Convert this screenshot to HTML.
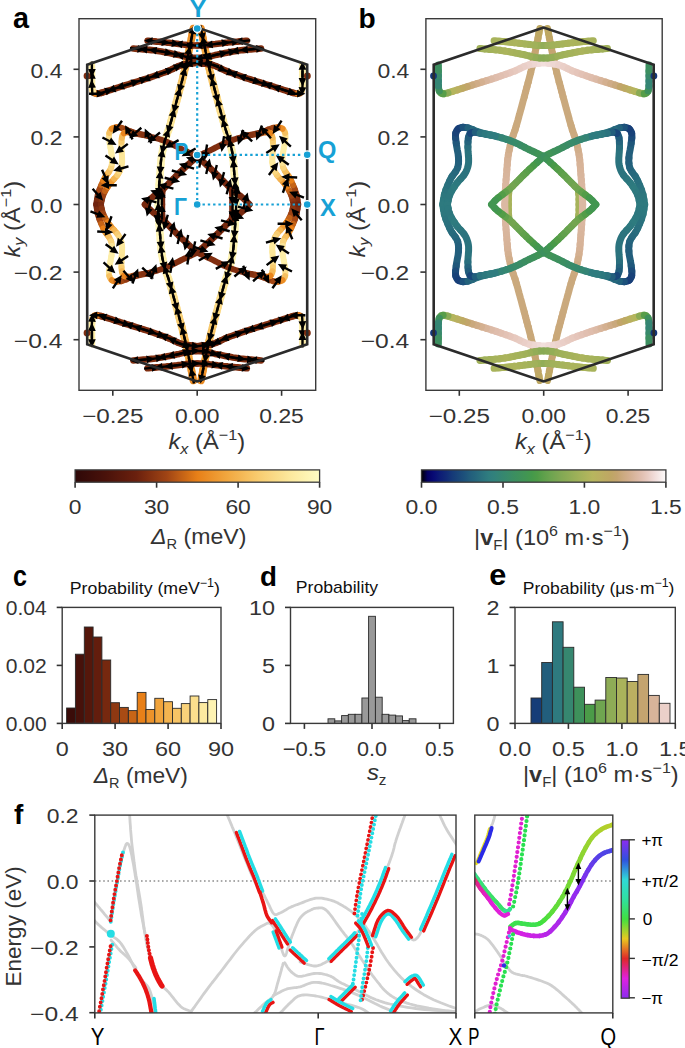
<!DOCTYPE html><html><head><meta charset="utf-8"><style>html,body{margin:0;padding:0;background:#fff;}svg{display:block;}text{font-family:"Liberation Sans", sans-serif;}</style></head><body>
<svg width="685" height="1048" viewBox="0 0 685 1048">
<rect width="685" height="1048" fill="#fff"/>
<text x="13.0" y="27.6" font-size="29.5" fill="#000" font-weight="bold" textLength="16.0" lengthAdjust="spacingAndGlyphs">a</text>
<text x="358.4" y="27.6" font-size="28.5" fill="#000" font-weight="bold" textLength="17.2" lengthAdjust="spacingAndGlyphs">b</text>
<defs><path id="ar" d="M-8 -1.2 L-0.3 -1.2 L-0.3 -3.9 L8 0 L-0.3 3.9 L-0.3 1.2 L-8 1.2 Z" fill="#000"/></defs>
<rect x="79.0" y="18.7" width="236.7" height="371.6" fill="none" stroke="#3a3a3a" stroke-width="1.4"/>
<line x1="73.5" y1="69.3" x2="79.0" y2="69.3" stroke="#333" stroke-width="1.6"/>
<text x="62.4" y="77.5" font-size="20" text-anchor="end" fill="#333333" textLength="31.8" lengthAdjust="spacingAndGlyphs" >0.4</text>
<line x1="73.5" y1="136.9" x2="79.0" y2="136.9" stroke="#333" stroke-width="1.6"/>
<text x="62.4" y="145.1" font-size="20" text-anchor="end" fill="#333333" textLength="31.8" lengthAdjust="spacingAndGlyphs" >0.2</text>
<line x1="73.5" y1="204.5" x2="79.0" y2="204.5" stroke="#333" stroke-width="1.6"/>
<text x="62.4" y="212.7" font-size="20" text-anchor="end" fill="#333333" textLength="31.8" lengthAdjust="spacingAndGlyphs" >0.0</text>
<line x1="73.5" y1="272.1" x2="79.0" y2="272.1" stroke="#333" stroke-width="1.6"/>
<text x="62.4" y="280.3" font-size="20" text-anchor="end" fill="#333333" textLength="48.6" lengthAdjust="spacingAndGlyphs" >&#8722;0.2</text>
<line x1="73.5" y1="339.7" x2="79.0" y2="339.7" stroke="#333" stroke-width="1.6"/>
<text x="62.4" y="347.9" font-size="20" text-anchor="end" fill="#333333" textLength="48.6" lengthAdjust="spacingAndGlyphs" >&#8722;0.4</text>
<line x1="112.8" y1="390.3" x2="112.8" y2="395.8" stroke="#333" stroke-width="1.6"/>
<text x="112.8" y="423.0" font-size="20" text-anchor="middle" fill="#333333" textLength="61.3" lengthAdjust="spacingAndGlyphs" >&#8722;0.25</text>
<line x1="197.2" y1="390.3" x2="197.2" y2="395.8" stroke="#333" stroke-width="1.6"/>
<text x="197.2" y="423.0" font-size="20" text-anchor="middle" fill="#333333" textLength="44.5" lengthAdjust="spacingAndGlyphs" >0.00</text>
<line x1="281.6" y1="390.3" x2="281.6" y2="395.8" stroke="#333" stroke-width="1.6"/>
<text x="281.6" y="423.0" font-size="20" text-anchor="middle" fill="#333333" textLength="44.5" lengthAdjust="spacingAndGlyphs" >0.25</text>
<text x="168.5" y="449.4" font-size="22" fill="#333333" textLength="76.6" lengthAdjust="spacingAndGlyphs"><tspan font-style="italic">k</tspan><tspan font-style="italic" font-size="15" dy="4.5">x</tspan><tspan dy="-4.5"> (&#197;</tspan><tspan font-size="15" dy="-9">&#8722;1</tspan><tspan dy="9">)</tspan></text>
<text transform="translate(19.8,257.5) rotate(-90)" x="0" y="0" font-size="22" fill="#333333" textLength="76.7" lengthAdjust="spacingAndGlyphs"><tspan font-style="italic">k</tspan><tspan font-style="italic" font-size="15" dy="4.5">y</tspan><tspan dy="-4.5"> (&#197;</tspan><tspan font-size="15" dy="-9">&#8722;1</tspan><tspan dy="9">)</tspan></text>
<path d="M162.5 189.7 L162.3 191.8 L162.1 193.9 L161.9 196.0 L161.9 198.1 L161.9 200.3 L161.9 202.4 L161.9 204.5" stroke="#77290f" stroke-width="6.6" fill="none" stroke-linecap="round" stroke-linejoin="round"/>
<path d="M162.5 219.3 L162.3 217.2 L162.1 215.1 L161.9 213.0 L161.9 210.9 L161.9 208.7 L161.9 206.6 L161.9 204.5" stroke="#77290f" stroke-width="6.6" fill="none" stroke-linecap="round" stroke-linejoin="round"/>
<path d="M231.9 189.7 L232.1 191.8 L232.3 193.9 L232.5 196.0 L232.5 198.1 L232.5 200.3 L232.5 202.4 L232.5 204.5" stroke="#77290f" stroke-width="6.6" fill="none" stroke-linecap="round" stroke-linejoin="round"/>
<path d="M231.9 219.3 L232.1 217.2 L232.3 215.1 L232.5 213.0 L232.5 210.9 L232.5 208.7 L232.5 206.6 L232.5 204.5" stroke="#77290f" stroke-width="6.6" fill="none" stroke-linecap="round" stroke-linejoin="round"/>
<path d="M158.2 204.5 L158.3 202.5 L158.4 200.5 L158.5 198.5 L158.5 196.5 L158.6 194.5 L158.7 192.5 L158.8 190.5 L158.9 189.5" stroke="#fef6b7" stroke-width="7.6" fill="none" stroke-linecap="round" stroke-linejoin="round"/>
<path d="M158.9 189.5 L159.0 187.5 L159.2 185.5 L159.2 184.5" stroke="#fef5b7" stroke-width="7.6" fill="none" stroke-linecap="round" stroke-linejoin="round"/>
<path d="M159.2 184.5 L159.4 182.5 L159.5 180.5 L159.6 179.5" stroke="#fef5b6" stroke-width="7.6" fill="none" stroke-linecap="round" stroke-linejoin="round"/>
<path d="M159.6 179.5 L159.8 177.5 L159.9 175.5 L160.0 174.5" stroke="#fef4b5" stroke-width="7.6" fill="none" stroke-linecap="round" stroke-linejoin="round"/>
<path d="M160.0 174.5 L160.2 172.5 L160.3 170.5 L160.4 169.5" stroke="#fef4b4" stroke-width="7.6" fill="none" stroke-linecap="round" stroke-linejoin="round"/>
<path d="M160.4 169.5 L160.5 167.5 L160.7 165.6 L160.8 164.6" stroke="#fef3b3" stroke-width="7.6" fill="none" stroke-linecap="round" stroke-linejoin="round"/>
<path d="M160.8 164.6 L160.9 162.6 L161.1 160.6 L161.2 159.6" stroke="#fef3b2" stroke-width="7.6" fill="none" stroke-linecap="round" stroke-linejoin="round"/>
<path d="M161.2 159.6 L161.5 157.6 L161.7 155.6 L161.9 154.6" stroke="#fef2b1" stroke-width="7.6" fill="none" stroke-linecap="round" stroke-linejoin="round"/>
<path d="M161.9 154.6 L162.2 152.6 L162.6 150.7 L162.8 149.7" stroke="#fdf2af" stroke-width="7.6" fill="none" stroke-linecap="round" stroke-linejoin="round"/>
<path d="M162.8 149.7 L163.2 147.7 L163.6 145.8 L163.9 144.8" stroke="#fdf1ad" stroke-width="7.6" fill="none" stroke-linecap="round" stroke-linejoin="round"/>
<path d="M163.9 144.8 L164.3 142.9 L164.9 140.9 L165.1 140.0" stroke="#fdefab" stroke-width="7.6" fill="none" stroke-linecap="round" stroke-linejoin="round"/>
<path d="M165.1 140.0 L165.7 138.1 L166.4 136.2 L166.7 135.2" stroke="#fdeea7" stroke-width="7.6" fill="none" stroke-linecap="round" stroke-linejoin="round"/>
<path d="M166.7 135.2 L167.4 133.3 L168.0 131.4 L168.4 130.5" stroke="#fdeca3" stroke-width="7.6" fill="none" stroke-linecap="round" stroke-linejoin="round"/>
<path d="M168.4 130.5 L169.0 128.6 L169.5 126.7 L169.8 125.7" stroke="#fcea9f" stroke-width="7.6" fill="none" stroke-linecap="round" stroke-linejoin="round"/>
<path d="M169.8 125.7 L170.4 123.8 L170.9 121.9 L171.2 120.9" stroke="#fce79b" stroke-width="7.6" fill="none" stroke-linecap="round" stroke-linejoin="round"/>
<path d="M171.2 120.9 L171.7 119.0 L172.3 117.0 L172.5 116.1" stroke="#fbe496" stroke-width="7.6" fill="none" stroke-linecap="round" stroke-linejoin="round"/>
<path d="M172.5 116.1 L173.1 114.1 L173.6 112.2 L173.9 111.3" stroke="#fbe191" stroke-width="7.6" fill="none" stroke-linecap="round" stroke-linejoin="round"/>
<path d="M173.9 111.3 L174.4 109.3 L174.9 107.4 L175.2 106.4" stroke="#fbde8d" stroke-width="7.6" fill="none" stroke-linecap="round" stroke-linejoin="round"/>
<path d="M175.2 106.4 L175.7 104.5 L176.2 102.6 L176.5 101.6" stroke="#fadb88" stroke-width="7.6" fill="none" stroke-linecap="round" stroke-linejoin="round"/>
<path d="M176.5 101.6 L177.0 99.7 L177.5 97.7 L177.8 96.8" stroke="#fad883" stroke-width="7.6" fill="none" stroke-linecap="round" stroke-linejoin="round"/>
<path d="M177.8 96.8 L178.3 94.8 L178.8 92.9 L179.1 91.9" stroke="#f9d57d" stroke-width="7.6" fill="none" stroke-linecap="round" stroke-linejoin="round"/>
<path d="M179.1 91.9 L179.6 90.0 L180.1 88.1 L180.4 87.1" stroke="#f9d178" stroke-width="7.6" fill="none" stroke-linecap="round" stroke-linejoin="round"/>
<path d="M180.4 87.1 L180.9 85.2 L181.4 83.2 L181.7 82.3" stroke="#f8cd72" stroke-width="7.6" fill="none" stroke-linecap="round" stroke-linejoin="round"/>
<path d="M181.7 82.3 L182.2 80.3 L182.7 78.4 L182.9 77.4" stroke="#f7c86b" stroke-width="7.6" fill="none" stroke-linecap="round" stroke-linejoin="round"/>
<path d="M182.9 77.4 L183.4 75.5 L183.9 73.5 L184.2 72.6" stroke="#f7c465" stroke-width="7.6" fill="none" stroke-linecap="round" stroke-linejoin="round"/>
<path d="M184.2 72.6 L184.6 70.6 L185.1 68.7 L185.3 67.7" stroke="#f6bf5e" stroke-width="7.6" fill="none" stroke-linecap="round" stroke-linejoin="round"/>
<path d="M185.3 67.7 L185.8 65.8 L186.2 63.8 L186.4 62.8" stroke="#f5b957" stroke-width="7.6" fill="none" stroke-linecap="round" stroke-linejoin="round"/>
<path d="M186.4 62.8 L186.8 60.9 L187.3 58.9 L187.5 57.9" stroke="#f4b450" stroke-width="7.6" fill="none" stroke-linecap="round" stroke-linejoin="round"/>
<path d="M187.5 57.9 L187.9 56.0 L188.3 54.0 L188.5 53.0" stroke="#f3ae48" stroke-width="7.6" fill="none" stroke-linecap="round" stroke-linejoin="round"/>
<path d="M188.5 53.0 L188.9 51.1 L189.3 49.1 L189.5 48.1" stroke="#f2a840" stroke-width="7.6" fill="none" stroke-linecap="round" stroke-linejoin="round"/>
<path d="M189.5 48.1 L189.9 46.2 L190.3 44.2 L190.5 43.2" stroke="#f1a23a" stroke-width="7.6" fill="none" stroke-linecap="round" stroke-linejoin="round"/>
<path d="M190.5 43.2 L190.9 41.3 L191.3 39.3 L191.5 38.3" stroke="#ef9b33" stroke-width="7.6" fill="none" stroke-linecap="round" stroke-linejoin="round"/>
<path d="M191.5 38.3 L191.8 36.4 L192.2 34.4 L192.4 33.4" stroke="#ed932b" stroke-width="7.6" fill="none" stroke-linecap="round" stroke-linejoin="round"/>
<path d="M192.4 33.4 L192.8 31.4 L193.2 29.5 L193.4 28.5" stroke="#eb8b23" stroke-width="7.6" fill="none" stroke-linecap="round" stroke-linejoin="round"/>
<path d="M158.2 204.5 L158.3 206.5 L158.4 208.5 L158.5 210.5 L158.5 212.5 L158.6 214.5 L158.7 216.5 L158.8 218.5 L158.9 219.5" stroke="#fef6b7" stroke-width="7.6" fill="none" stroke-linecap="round" stroke-linejoin="round"/>
<path d="M158.9 219.5 L159.0 221.5 L159.2 223.5 L159.2 224.5" stroke="#fef5b7" stroke-width="7.6" fill="none" stroke-linecap="round" stroke-linejoin="round"/>
<path d="M159.2 224.5 L159.4 226.5 L159.5 228.5 L159.6 229.5" stroke="#fef5b6" stroke-width="7.6" fill="none" stroke-linecap="round" stroke-linejoin="round"/>
<path d="M159.6 229.5 L159.8 231.5 L159.9 233.5 L160.0 234.5" stroke="#fef4b5" stroke-width="7.6" fill="none" stroke-linecap="round" stroke-linejoin="round"/>
<path d="M160.0 234.5 L160.2 236.5 L160.3 238.5 L160.4 239.5" stroke="#fef4b4" stroke-width="7.6" fill="none" stroke-linecap="round" stroke-linejoin="round"/>
<path d="M160.4 239.5 L160.5 241.5 L160.7 243.4 L160.8 244.4" stroke="#fef3b3" stroke-width="7.6" fill="none" stroke-linecap="round" stroke-linejoin="round"/>
<path d="M160.8 244.4 L160.9 246.4 L161.1 248.4 L161.2 249.4" stroke="#fef3b2" stroke-width="7.6" fill="none" stroke-linecap="round" stroke-linejoin="round"/>
<path d="M161.2 249.4 L161.5 251.4 L161.7 253.4 L161.9 254.4" stroke="#fef2b1" stroke-width="7.6" fill="none" stroke-linecap="round" stroke-linejoin="round"/>
<path d="M161.9 254.4 L162.2 256.4 L162.6 258.3 L162.8 259.3" stroke="#fdf2af" stroke-width="7.6" fill="none" stroke-linecap="round" stroke-linejoin="round"/>
<path d="M162.8 259.3 L163.2 261.3 L163.6 263.2 L163.9 264.2" stroke="#fdf1ad" stroke-width="7.6" fill="none" stroke-linecap="round" stroke-linejoin="round"/>
<path d="M163.9 264.2 L164.3 266.1 L164.9 268.1 L165.1 269.0" stroke="#fdefab" stroke-width="7.6" fill="none" stroke-linecap="round" stroke-linejoin="round"/>
<path d="M165.1 269.0 L165.7 270.9 L166.4 272.8 L166.7 273.8" stroke="#fdeea7" stroke-width="7.6" fill="none" stroke-linecap="round" stroke-linejoin="round"/>
<path d="M166.7 273.8 L167.4 275.7 L168.0 277.6 L168.4 278.5" stroke="#fdeca3" stroke-width="7.6" fill="none" stroke-linecap="round" stroke-linejoin="round"/>
<path d="M168.4 278.5 L169.0 280.4 L169.5 282.3 L169.8 283.3" stroke="#fcea9f" stroke-width="7.6" fill="none" stroke-linecap="round" stroke-linejoin="round"/>
<path d="M169.8 283.3 L170.4 285.2 L170.9 287.1 L171.2 288.1" stroke="#fce79b" stroke-width="7.6" fill="none" stroke-linecap="round" stroke-linejoin="round"/>
<path d="M171.2 288.1 L171.7 290.0 L172.3 292.0 L172.5 292.9" stroke="#fbe496" stroke-width="7.6" fill="none" stroke-linecap="round" stroke-linejoin="round"/>
<path d="M172.5 292.9 L173.1 294.9 L173.6 296.8 L173.9 297.7" stroke="#fbe191" stroke-width="7.6" fill="none" stroke-linecap="round" stroke-linejoin="round"/>
<path d="M173.9 297.7 L174.4 299.7 L174.9 301.6 L175.2 302.6" stroke="#fbde8d" stroke-width="7.6" fill="none" stroke-linecap="round" stroke-linejoin="round"/>
<path d="M175.2 302.6 L175.7 304.5 L176.2 306.4 L176.5 307.4" stroke="#fadb88" stroke-width="7.6" fill="none" stroke-linecap="round" stroke-linejoin="round"/>
<path d="M176.5 307.4 L177.0 309.3 L177.5 311.3 L177.8 312.2" stroke="#fad883" stroke-width="7.6" fill="none" stroke-linecap="round" stroke-linejoin="round"/>
<path d="M177.8 312.2 L178.3 314.2 L178.8 316.1 L179.1 317.1" stroke="#f9d57d" stroke-width="7.6" fill="none" stroke-linecap="round" stroke-linejoin="round"/>
<path d="M179.1 317.1 L179.6 319.0 L180.1 320.9 L180.4 321.9" stroke="#f9d178" stroke-width="7.6" fill="none" stroke-linecap="round" stroke-linejoin="round"/>
<path d="M180.4 321.9 L180.9 323.8 L181.4 325.8 L181.7 326.7" stroke="#f8cd72" stroke-width="7.6" fill="none" stroke-linecap="round" stroke-linejoin="round"/>
<path d="M181.7 326.7 L182.2 328.7 L182.7 330.6 L182.9 331.6" stroke="#f7c86b" stroke-width="7.6" fill="none" stroke-linecap="round" stroke-linejoin="round"/>
<path d="M182.9 331.6 L183.4 333.5 L183.9 335.5 L184.2 336.4" stroke="#f7c465" stroke-width="7.6" fill="none" stroke-linecap="round" stroke-linejoin="round"/>
<path d="M184.2 336.4 L184.6 338.4 L185.1 340.3 L185.3 341.3" stroke="#f6bf5e" stroke-width="7.6" fill="none" stroke-linecap="round" stroke-linejoin="round"/>
<path d="M185.3 341.3 L185.8 343.2 L186.2 345.2 L186.4 346.2" stroke="#f5b957" stroke-width="7.6" fill="none" stroke-linecap="round" stroke-linejoin="round"/>
<path d="M186.4 346.2 L186.8 348.1 L187.3 350.1 L187.5 351.1" stroke="#f4b450" stroke-width="7.6" fill="none" stroke-linecap="round" stroke-linejoin="round"/>
<path d="M187.5 351.1 L187.9 353.0 L188.3 355.0 L188.5 356.0" stroke="#f3ae48" stroke-width="7.6" fill="none" stroke-linecap="round" stroke-linejoin="round"/>
<path d="M188.5 356.0 L188.9 357.9 L189.3 359.9 L189.5 360.9" stroke="#f2a840" stroke-width="7.6" fill="none" stroke-linecap="round" stroke-linejoin="round"/>
<path d="M189.5 360.9 L189.9 362.8 L190.3 364.8 L190.5 365.8" stroke="#f1a23a" stroke-width="7.6" fill="none" stroke-linecap="round" stroke-linejoin="round"/>
<path d="M190.5 365.8 L190.9 367.7 L191.3 369.7 L191.5 370.7" stroke="#ef9b33" stroke-width="7.6" fill="none" stroke-linecap="round" stroke-linejoin="round"/>
<path d="M191.5 370.7 L191.8 372.6 L192.2 374.6 L192.4 375.6" stroke="#ed932b" stroke-width="7.6" fill="none" stroke-linecap="round" stroke-linejoin="round"/>
<path d="M192.4 375.6 L192.8 377.6 L193.2 379.5 L193.4 380.5" stroke="#eb8b23" stroke-width="7.6" fill="none" stroke-linecap="round" stroke-linejoin="round"/>
<path d="M236.2 204.5 L236.1 202.5 L236.0 200.5 L235.9 198.5 L235.9 196.5 L235.8 194.5 L235.7 192.5 L235.6 190.5 L235.5 189.5" stroke="#fef6b7" stroke-width="7.6" fill="none" stroke-linecap="round" stroke-linejoin="round"/>
<path d="M235.5 189.5 L235.4 187.5 L235.2 185.5 L235.2 184.5" stroke="#fef5b7" stroke-width="7.6" fill="none" stroke-linecap="round" stroke-linejoin="round"/>
<path d="M235.2 184.5 L235.0 182.5 L234.9 180.5 L234.8 179.5" stroke="#fef5b6" stroke-width="7.6" fill="none" stroke-linecap="round" stroke-linejoin="round"/>
<path d="M234.8 179.5 L234.6 177.5 L234.5 175.5 L234.4 174.5" stroke="#fef4b5" stroke-width="7.6" fill="none" stroke-linecap="round" stroke-linejoin="round"/>
<path d="M234.4 174.5 L234.2 172.5 L234.1 170.5 L234.0 169.5" stroke="#fef4b4" stroke-width="7.6" fill="none" stroke-linecap="round" stroke-linejoin="round"/>
<path d="M234.0 169.5 L233.9 167.5 L233.7 165.6 L233.6 164.6" stroke="#fef3b3" stroke-width="7.6" fill="none" stroke-linecap="round" stroke-linejoin="round"/>
<path d="M233.6 164.6 L233.5 162.6 L233.3 160.6 L233.2 159.6" stroke="#fef3b2" stroke-width="7.6" fill="none" stroke-linecap="round" stroke-linejoin="round"/>
<path d="M233.2 159.6 L232.9 157.6 L232.7 155.6 L232.5 154.6" stroke="#fef2b1" stroke-width="7.6" fill="none" stroke-linecap="round" stroke-linejoin="round"/>
<path d="M232.5 154.6 L232.2 152.6 L231.8 150.7 L231.6 149.7" stroke="#fdf2af" stroke-width="7.6" fill="none" stroke-linecap="round" stroke-linejoin="round"/>
<path d="M231.6 149.7 L231.2 147.7 L230.8 145.8 L230.5 144.8" stroke="#fdf1ad" stroke-width="7.6" fill="none" stroke-linecap="round" stroke-linejoin="round"/>
<path d="M230.5 144.8 L230.1 142.9 L229.5 140.9 L229.3 140.0" stroke="#fdefab" stroke-width="7.6" fill="none" stroke-linecap="round" stroke-linejoin="round"/>
<path d="M229.3 140.0 L228.7 138.1 L228.0 136.2 L227.7 135.2" stroke="#fdeea7" stroke-width="7.6" fill="none" stroke-linecap="round" stroke-linejoin="round"/>
<path d="M227.7 135.2 L227.0 133.3 L226.4 131.4 L226.0 130.5" stroke="#fdeca3" stroke-width="7.6" fill="none" stroke-linecap="round" stroke-linejoin="round"/>
<path d="M226.0 130.5 L225.4 128.6 L224.9 126.7 L224.6 125.7" stroke="#fcea9f" stroke-width="7.6" fill="none" stroke-linecap="round" stroke-linejoin="round"/>
<path d="M224.6 125.7 L224.0 123.8 L223.5 121.9 L223.2 120.9" stroke="#fce79b" stroke-width="7.6" fill="none" stroke-linecap="round" stroke-linejoin="round"/>
<path d="M223.2 120.9 L222.7 119.0 L222.1 117.0 L221.9 116.1" stroke="#fbe496" stroke-width="7.6" fill="none" stroke-linecap="round" stroke-linejoin="round"/>
<path d="M221.9 116.1 L221.3 114.1 L220.8 112.2 L220.5 111.3" stroke="#fbe191" stroke-width="7.6" fill="none" stroke-linecap="round" stroke-linejoin="round"/>
<path d="M220.5 111.3 L220.0 109.3 L219.5 107.4 L219.2 106.4" stroke="#fbde8d" stroke-width="7.6" fill="none" stroke-linecap="round" stroke-linejoin="round"/>
<path d="M219.2 106.4 L218.7 104.5 L218.2 102.6 L217.9 101.6" stroke="#fadb88" stroke-width="7.6" fill="none" stroke-linecap="round" stroke-linejoin="round"/>
<path d="M217.9 101.6 L217.4 99.7 L216.9 97.7 L216.6 96.8" stroke="#fad883" stroke-width="7.6" fill="none" stroke-linecap="round" stroke-linejoin="round"/>
<path d="M216.6 96.8 L216.1 94.8 L215.6 92.9 L215.3 91.9" stroke="#f9d57d" stroke-width="7.6" fill="none" stroke-linecap="round" stroke-linejoin="round"/>
<path d="M215.3 91.9 L214.8 90.0 L214.3 88.1 L214.0 87.1" stroke="#f9d178" stroke-width="7.6" fill="none" stroke-linecap="round" stroke-linejoin="round"/>
<path d="M214.0 87.1 L213.5 85.2 L213.0 83.2 L212.7 82.3" stroke="#f8cd72" stroke-width="7.6" fill="none" stroke-linecap="round" stroke-linejoin="round"/>
<path d="M212.7 82.3 L212.2 80.3 L211.7 78.4 L211.5 77.4" stroke="#f7c86b" stroke-width="7.6" fill="none" stroke-linecap="round" stroke-linejoin="round"/>
<path d="M211.5 77.4 L211.0 75.5 L210.5 73.5 L210.2 72.6" stroke="#f7c465" stroke-width="7.6" fill="none" stroke-linecap="round" stroke-linejoin="round"/>
<path d="M210.2 72.6 L209.8 70.6 L209.3 68.7 L209.1 67.7" stroke="#f6bf5e" stroke-width="7.6" fill="none" stroke-linecap="round" stroke-linejoin="round"/>
<path d="M209.1 67.7 L208.6 65.8 L208.2 63.8 L208.0 62.8" stroke="#f5b957" stroke-width="7.6" fill="none" stroke-linecap="round" stroke-linejoin="round"/>
<path d="M208.0 62.8 L207.6 60.9 L207.1 58.9 L206.9 57.9" stroke="#f4b450" stroke-width="7.6" fill="none" stroke-linecap="round" stroke-linejoin="round"/>
<path d="M206.9 57.9 L206.5 56.0 L206.1 54.0 L205.9 53.0" stroke="#f3ae48" stroke-width="7.6" fill="none" stroke-linecap="round" stroke-linejoin="round"/>
<path d="M205.9 53.0 L205.5 51.1 L205.1 49.1 L204.9 48.1" stroke="#f2a840" stroke-width="7.6" fill="none" stroke-linecap="round" stroke-linejoin="round"/>
<path d="M204.9 48.1 L204.5 46.2 L204.1 44.2 L203.9 43.2" stroke="#f1a23a" stroke-width="7.6" fill="none" stroke-linecap="round" stroke-linejoin="round"/>
<path d="M203.9 43.2 L203.5 41.3 L203.1 39.3 L202.9 38.3" stroke="#ef9b33" stroke-width="7.6" fill="none" stroke-linecap="round" stroke-linejoin="round"/>
<path d="M202.9 38.3 L202.6 36.4 L202.2 34.4 L202.0 33.4" stroke="#ed932b" stroke-width="7.6" fill="none" stroke-linecap="round" stroke-linejoin="round"/>
<path d="M202.0 33.4 L201.6 31.4 L201.2 29.5 L201.0 28.5" stroke="#eb8b23" stroke-width="7.6" fill="none" stroke-linecap="round" stroke-linejoin="round"/>
<path d="M236.2 204.5 L236.1 206.5 L236.0 208.5 L235.9 210.5 L235.9 212.5 L235.8 214.5 L235.7 216.5 L235.6 218.5 L235.5 219.5" stroke="#fef6b7" stroke-width="7.6" fill="none" stroke-linecap="round" stroke-linejoin="round"/>
<path d="M235.5 219.5 L235.4 221.5 L235.2 223.5 L235.2 224.5" stroke="#fef5b7" stroke-width="7.6" fill="none" stroke-linecap="round" stroke-linejoin="round"/>
<path d="M235.2 224.5 L235.0 226.5 L234.9 228.5 L234.8 229.5" stroke="#fef5b6" stroke-width="7.6" fill="none" stroke-linecap="round" stroke-linejoin="round"/>
<path d="M234.8 229.5 L234.6 231.5 L234.5 233.5 L234.4 234.5" stroke="#fef4b5" stroke-width="7.6" fill="none" stroke-linecap="round" stroke-linejoin="round"/>
<path d="M234.4 234.5 L234.2 236.5 L234.1 238.5 L234.0 239.5" stroke="#fef4b4" stroke-width="7.6" fill="none" stroke-linecap="round" stroke-linejoin="round"/>
<path d="M234.0 239.5 L233.9 241.5 L233.7 243.4 L233.6 244.4" stroke="#fef3b3" stroke-width="7.6" fill="none" stroke-linecap="round" stroke-linejoin="round"/>
<path d="M233.6 244.4 L233.5 246.4 L233.3 248.4 L233.2 249.4" stroke="#fef3b2" stroke-width="7.6" fill="none" stroke-linecap="round" stroke-linejoin="round"/>
<path d="M233.2 249.4 L232.9 251.4 L232.7 253.4 L232.5 254.4" stroke="#fef2b1" stroke-width="7.6" fill="none" stroke-linecap="round" stroke-linejoin="round"/>
<path d="M232.5 254.4 L232.2 256.4 L231.8 258.3 L231.6 259.3" stroke="#fdf2af" stroke-width="7.6" fill="none" stroke-linecap="round" stroke-linejoin="round"/>
<path d="M231.6 259.3 L231.2 261.3 L230.8 263.2 L230.5 264.2" stroke="#fdf1ad" stroke-width="7.6" fill="none" stroke-linecap="round" stroke-linejoin="round"/>
<path d="M230.5 264.2 L230.1 266.1 L229.5 268.1 L229.3 269.0" stroke="#fdefab" stroke-width="7.6" fill="none" stroke-linecap="round" stroke-linejoin="round"/>
<path d="M229.3 269.0 L228.7 270.9 L228.0 272.8 L227.7 273.8" stroke="#fdeea7" stroke-width="7.6" fill="none" stroke-linecap="round" stroke-linejoin="round"/>
<path d="M227.7 273.8 L227.0 275.7 L226.4 277.6 L226.0 278.5" stroke="#fdeca3" stroke-width="7.6" fill="none" stroke-linecap="round" stroke-linejoin="round"/>
<path d="M226.0 278.5 L225.4 280.4 L224.9 282.3 L224.6 283.3" stroke="#fcea9f" stroke-width="7.6" fill="none" stroke-linecap="round" stroke-linejoin="round"/>
<path d="M224.6 283.3 L224.0 285.2 L223.5 287.1 L223.2 288.1" stroke="#fce79b" stroke-width="7.6" fill="none" stroke-linecap="round" stroke-linejoin="round"/>
<path d="M223.2 288.1 L222.7 290.0 L222.1 292.0 L221.9 292.9" stroke="#fbe496" stroke-width="7.6" fill="none" stroke-linecap="round" stroke-linejoin="round"/>
<path d="M221.9 292.9 L221.3 294.9 L220.8 296.8 L220.5 297.7" stroke="#fbe191" stroke-width="7.6" fill="none" stroke-linecap="round" stroke-linejoin="round"/>
<path d="M220.5 297.7 L220.0 299.7 L219.5 301.6 L219.2 302.6" stroke="#fbde8d" stroke-width="7.6" fill="none" stroke-linecap="round" stroke-linejoin="round"/>
<path d="M219.2 302.6 L218.7 304.5 L218.2 306.4 L217.9 307.4" stroke="#fadb88" stroke-width="7.6" fill="none" stroke-linecap="round" stroke-linejoin="round"/>
<path d="M217.9 307.4 L217.4 309.3 L216.9 311.3 L216.6 312.2" stroke="#fad883" stroke-width="7.6" fill="none" stroke-linecap="round" stroke-linejoin="round"/>
<path d="M216.6 312.2 L216.1 314.2 L215.6 316.1 L215.3 317.1" stroke="#f9d57d" stroke-width="7.6" fill="none" stroke-linecap="round" stroke-linejoin="round"/>
<path d="M215.3 317.1 L214.8 319.0 L214.3 320.9 L214.0 321.9" stroke="#f9d178" stroke-width="7.6" fill="none" stroke-linecap="round" stroke-linejoin="round"/>
<path d="M214.0 321.9 L213.5 323.8 L213.0 325.8 L212.7 326.7" stroke="#f8cd72" stroke-width="7.6" fill="none" stroke-linecap="round" stroke-linejoin="round"/>
<path d="M212.7 326.7 L212.2 328.7 L211.7 330.6 L211.5 331.6" stroke="#f7c86b" stroke-width="7.6" fill="none" stroke-linecap="round" stroke-linejoin="round"/>
<path d="M211.5 331.6 L211.0 333.5 L210.5 335.5 L210.2 336.4" stroke="#f7c465" stroke-width="7.6" fill="none" stroke-linecap="round" stroke-linejoin="round"/>
<path d="M210.2 336.4 L209.8 338.4 L209.3 340.3 L209.1 341.3" stroke="#f6bf5e" stroke-width="7.6" fill="none" stroke-linecap="round" stroke-linejoin="round"/>
<path d="M209.1 341.3 L208.6 343.2 L208.2 345.2 L208.0 346.2" stroke="#f5b957" stroke-width="7.6" fill="none" stroke-linecap="round" stroke-linejoin="round"/>
<path d="M208.0 346.2 L207.6 348.1 L207.1 350.1 L206.9 351.1" stroke="#f4b450" stroke-width="7.6" fill="none" stroke-linecap="round" stroke-linejoin="round"/>
<path d="M206.9 351.1 L206.5 353.0 L206.1 355.0 L205.9 356.0" stroke="#f3ae48" stroke-width="7.6" fill="none" stroke-linecap="round" stroke-linejoin="round"/>
<path d="M205.9 356.0 L205.5 357.9 L205.1 359.9 L204.9 360.9" stroke="#f2a840" stroke-width="7.6" fill="none" stroke-linecap="round" stroke-linejoin="round"/>
<path d="M204.9 360.9 L204.5 362.8 L204.1 364.8 L203.9 365.8" stroke="#f1a23a" stroke-width="7.6" fill="none" stroke-linecap="round" stroke-linejoin="round"/>
<path d="M203.9 365.8 L203.5 367.7 L203.1 369.7 L202.9 370.7" stroke="#ef9b33" stroke-width="7.6" fill="none" stroke-linecap="round" stroke-linejoin="round"/>
<path d="M202.9 370.7 L202.6 372.6 L202.2 374.6 L202.0 375.6" stroke="#ed932b" stroke-width="7.6" fill="none" stroke-linecap="round" stroke-linejoin="round"/>
<path d="M202.0 375.6 L201.6 377.6 L201.2 379.5 L201.0 380.5" stroke="#eb8b23" stroke-width="7.6" fill="none" stroke-linecap="round" stroke-linejoin="round"/>
<path d="M197.2 62.8 L195.2 63.1 L193.2 63.3 L192.2 63.4" stroke="#7e2e10" stroke-width="6.6" fill="none" stroke-linecap="round" stroke-linejoin="round"/>
<path d="M192.2 63.4 L190.2 63.6 L188.2 63.8 L187.2 63.9" stroke="#7c2c10" stroke-width="6.6" fill="none" stroke-linecap="round" stroke-linejoin="round"/>
<path d="M187.2 63.9 L185.2 64.2 L183.2 64.6 L182.3 64.9" stroke="#792a10" stroke-width="6.6" fill="none" stroke-linecap="round" stroke-linejoin="round"/>
<path d="M182.3 64.9 L180.3 65.5 L178.5 66.2 L177.5 66.6" stroke="#782910" stroke-width="6.6" fill="none" stroke-linecap="round" stroke-linejoin="round"/>
<path d="M177.5 66.6 L175.7 67.5 L173.9 68.3 L173.0 68.8" stroke="#7a2b10" stroke-width="6.6" fill="none" stroke-linecap="round" stroke-linejoin="round"/>
<path d="M173.0 68.8 L171.2 69.6 L169.4 70.5 L168.4 70.9" stroke="#7d2d10" stroke-width="6.6" fill="none" stroke-linecap="round" stroke-linejoin="round"/>
<path d="M168.4 70.9 L166.6 71.6 L164.7 72.3 L162.8 73.0 L160.9 73.7 L159.0 74.4 L157.1 75.0 L155.2 75.7 L153.3 76.3 L151.4 77.0 L149.5 77.6 L147.6 78.3 L145.7 78.9 L143.7 79.5 L141.8 80.1 L139.9 80.7 L138.0 81.3 L136.1 81.9 L134.1 82.5 L132.2 83.1 L130.3 83.7 L128.4 84.3 L126.4 84.9 L124.5 85.5 L122.6 86.1 L120.7 86.7 L118.8 87.3 L116.9 87.9 L114.9 88.6 L113.0 89.2 L111.1 89.8 L109.2 90.4 L107.3 91.0 L106.3 91.3" stroke="#802e10" stroke-width="6.6" fill="none" stroke-linecap="round" stroke-linejoin="round"/>
<path d="M106.3 91.3 L104.4 91.9 L102.5 92.5 L101.5 92.8" stroke="#802f10" stroke-width="6.6" fill="none" stroke-linecap="round" stroke-linejoin="round"/>
<path d="M101.5 92.8 L99.6 93.3 L97.6 93.7 L96.6 93.7" stroke="#853211" stroke-width="6.6" fill="none" stroke-linecap="round" stroke-linejoin="round"/>
<path d="M96.6 93.7 L94.6 93.3 L93.2 91.9 L92.8 91.0" stroke="#e17a18" stroke-width="6.6" fill="none" stroke-linecap="round" stroke-linejoin="round"/>
<path d="M92.8 91.0 L92.2 89.0 L92.0 87.0 L92.0 86.0" stroke="#fce598" stroke-width="6.6" fill="none" stroke-linecap="round" stroke-linejoin="round"/>
<path d="M92.0 86.0 L91.9 84.0 L91.9 82.0 L91.9 81.0" stroke="#fdeda6" stroke-width="6.6" fill="none" stroke-linecap="round" stroke-linejoin="round"/>
<path d="M91.9 81.0 L91.9 79.0 L91.8 77.0 L91.9 76.0" stroke="#fdefa9" stroke-width="6.6" fill="none" stroke-linecap="round" stroke-linejoin="round"/>
<path d="M91.9 76.0 L91.9 74.0 L91.9 71.9 L91.9 70.9" stroke="#fdeea7" stroke-width="6.6" fill="none" stroke-linecap="round" stroke-linejoin="round"/>
<path d="M91.9 70.9 L91.9 68.9 L91.9 66.9 L91.9 64.9" stroke="#fdeda5" stroke-width="6.6" fill="none" stroke-linecap="round" stroke-linejoin="round"/>
<path d="M197.2 346.2 L195.2 345.9 L193.2 345.7 L192.2 345.6" stroke="#7e2e10" stroke-width="6.6" fill="none" stroke-linecap="round" stroke-linejoin="round"/>
<path d="M192.2 345.6 L190.2 345.4 L188.2 345.2 L187.2 345.1" stroke="#7c2c10" stroke-width="6.6" fill="none" stroke-linecap="round" stroke-linejoin="round"/>
<path d="M187.2 345.1 L185.2 344.8 L183.2 344.4 L182.3 344.1" stroke="#792a10" stroke-width="6.6" fill="none" stroke-linecap="round" stroke-linejoin="round"/>
<path d="M182.3 344.1 L180.3 343.5 L178.5 342.8 L177.5 342.4" stroke="#782910" stroke-width="6.6" fill="none" stroke-linecap="round" stroke-linejoin="round"/>
<path d="M177.5 342.4 L175.7 341.5 L173.9 340.7 L173.0 340.2" stroke="#7a2b10" stroke-width="6.6" fill="none" stroke-linecap="round" stroke-linejoin="round"/>
<path d="M173.0 340.2 L171.2 339.4 L169.4 338.5 L168.4 338.1" stroke="#7d2d10" stroke-width="6.6" fill="none" stroke-linecap="round" stroke-linejoin="round"/>
<path d="M168.4 338.1 L166.6 337.4 L164.7 336.7 L162.8 336.0 L160.9 335.3 L159.0 334.6 L157.1 334.0 L155.2 333.3 L153.3 332.7 L151.4 332.0 L149.5 331.4 L147.6 330.7 L145.7 330.1 L143.7 329.5 L141.8 328.9 L139.9 328.3 L138.0 327.7 L136.1 327.1 L134.1 326.5 L132.2 325.9 L130.3 325.3 L128.4 324.7 L126.4 324.1 L124.5 323.5 L122.6 322.9 L120.7 322.3 L118.8 321.7 L116.9 321.1 L114.9 320.4 L113.0 319.8 L111.1 319.2 L109.2 318.6 L107.3 318.0 L106.3 317.7" stroke="#802e10" stroke-width="6.6" fill="none" stroke-linecap="round" stroke-linejoin="round"/>
<path d="M106.3 317.7 L104.4 317.1 L102.5 316.5 L101.5 316.2" stroke="#802f10" stroke-width="6.6" fill="none" stroke-linecap="round" stroke-linejoin="round"/>
<path d="M101.5 316.2 L99.6 315.7 L97.6 315.3 L96.6 315.3" stroke="#853211" stroke-width="6.6" fill="none" stroke-linecap="round" stroke-linejoin="round"/>
<path d="M96.6 315.3 L94.6 315.7 L93.2 317.1 L92.8 318.0" stroke="#e17a18" stroke-width="6.6" fill="none" stroke-linecap="round" stroke-linejoin="round"/>
<path d="M92.8 318.0 L92.2 320.0 L92.0 322.0 L92.0 323.0" stroke="#fce598" stroke-width="6.6" fill="none" stroke-linecap="round" stroke-linejoin="round"/>
<path d="M92.0 323.0 L91.9 325.0 L91.9 327.0 L91.9 328.0" stroke="#fdeda6" stroke-width="6.6" fill="none" stroke-linecap="round" stroke-linejoin="round"/>
<path d="M91.9 328.0 L91.9 330.0 L91.8 332.0 L91.9 333.0" stroke="#fdefa9" stroke-width="6.6" fill="none" stroke-linecap="round" stroke-linejoin="round"/>
<path d="M91.9 333.0 L91.9 335.0 L91.9 337.1 L91.9 338.1" stroke="#fdeea7" stroke-width="6.6" fill="none" stroke-linecap="round" stroke-linejoin="round"/>
<path d="M91.9 338.1 L91.9 340.1 L91.9 342.1 L91.9 344.1" stroke="#fdeda5" stroke-width="6.6" fill="none" stroke-linecap="round" stroke-linejoin="round"/>
<path d="M197.2 62.8 L199.2 63.1 L201.2 63.3 L202.2 63.4" stroke="#7e2e10" stroke-width="6.6" fill="none" stroke-linecap="round" stroke-linejoin="round"/>
<path d="M202.2 63.4 L204.2 63.6 L206.2 63.8 L207.2 63.9" stroke="#7c2c10" stroke-width="6.6" fill="none" stroke-linecap="round" stroke-linejoin="round"/>
<path d="M207.2 63.9 L209.2 64.2 L211.2 64.6 L212.1 64.9" stroke="#792a10" stroke-width="6.6" fill="none" stroke-linecap="round" stroke-linejoin="round"/>
<path d="M212.1 64.9 L214.1 65.5 L215.9 66.2 L216.9 66.6" stroke="#782910" stroke-width="6.6" fill="none" stroke-linecap="round" stroke-linejoin="round"/>
<path d="M216.9 66.6 L218.7 67.5 L220.5 68.3 L221.4 68.8" stroke="#7a2b10" stroke-width="6.6" fill="none" stroke-linecap="round" stroke-linejoin="round"/>
<path d="M221.4 68.8 L223.2 69.6 L225.0 70.5 L226.0 70.9" stroke="#7d2d10" stroke-width="6.6" fill="none" stroke-linecap="round" stroke-linejoin="round"/>
<path d="M226.0 70.9 L227.8 71.6 L229.7 72.3 L231.6 73.0 L233.5 73.7 L235.4 74.4 L237.3 75.0 L239.2 75.7 L241.1 76.3 L243.0 77.0 L244.9 77.6 L246.8 78.3 L248.7 78.9 L250.7 79.5 L252.6 80.1 L254.5 80.7 L256.4 81.3 L258.3 81.9 L260.3 82.5 L262.2 83.1 L264.1 83.7 L266.0 84.3 L268.0 84.9 L269.9 85.5 L271.8 86.1 L273.7 86.7 L275.6 87.3 L277.5 87.9 L279.5 88.6 L281.4 89.2 L283.3 89.8 L285.2 90.4 L287.1 91.0 L288.1 91.3" stroke="#802e10" stroke-width="6.6" fill="none" stroke-linecap="round" stroke-linejoin="round"/>
<path d="M288.1 91.3 L290.0 91.9 L291.9 92.5 L292.9 92.8" stroke="#802f10" stroke-width="6.6" fill="none" stroke-linecap="round" stroke-linejoin="round"/>
<path d="M292.9 92.8 L294.8 93.3 L296.8 93.7 L297.8 93.7" stroke="#853211" stroke-width="6.6" fill="none" stroke-linecap="round" stroke-linejoin="round"/>
<path d="M297.8 93.7 L299.8 93.3 L301.2 91.9 L301.6 91.0" stroke="#e17a18" stroke-width="6.6" fill="none" stroke-linecap="round" stroke-linejoin="round"/>
<path d="M301.6 91.0 L302.2 89.0 L302.4 87.0 L302.4 86.0" stroke="#fce598" stroke-width="6.6" fill="none" stroke-linecap="round" stroke-linejoin="round"/>
<path d="M302.4 86.0 L302.5 84.0 L302.5 82.0 L302.5 81.0" stroke="#fdeda6" stroke-width="6.6" fill="none" stroke-linecap="round" stroke-linejoin="round"/>
<path d="M302.5 81.0 L302.5 79.0 L302.6 77.0 L302.5 76.0" stroke="#fdefa9" stroke-width="6.6" fill="none" stroke-linecap="round" stroke-linejoin="round"/>
<path d="M302.5 76.0 L302.5 74.0 L302.5 71.9 L302.5 70.9" stroke="#fdeea7" stroke-width="6.6" fill="none" stroke-linecap="round" stroke-linejoin="round"/>
<path d="M302.5 70.9 L302.5 68.9 L302.5 66.9 L302.5 64.9" stroke="#fdeda5" stroke-width="6.6" fill="none" stroke-linecap="round" stroke-linejoin="round"/>
<path d="M197.2 346.2 L199.2 345.9 L201.2 345.7 L202.2 345.6" stroke="#7e2e10" stroke-width="6.6" fill="none" stroke-linecap="round" stroke-linejoin="round"/>
<path d="M202.2 345.6 L204.2 345.4 L206.2 345.2 L207.2 345.1" stroke="#7c2c10" stroke-width="6.6" fill="none" stroke-linecap="round" stroke-linejoin="round"/>
<path d="M207.2 345.1 L209.2 344.8 L211.2 344.4 L212.1 344.1" stroke="#792a10" stroke-width="6.6" fill="none" stroke-linecap="round" stroke-linejoin="round"/>
<path d="M212.1 344.1 L214.1 343.5 L215.9 342.8 L216.9 342.4" stroke="#782910" stroke-width="6.6" fill="none" stroke-linecap="round" stroke-linejoin="round"/>
<path d="M216.9 342.4 L218.7 341.5 L220.5 340.7 L221.4 340.2" stroke="#7a2b10" stroke-width="6.6" fill="none" stroke-linecap="round" stroke-linejoin="round"/>
<path d="M221.4 340.2 L223.2 339.4 L225.0 338.5 L226.0 338.1" stroke="#7d2d10" stroke-width="6.6" fill="none" stroke-linecap="round" stroke-linejoin="round"/>
<path d="M226.0 338.1 L227.8 337.4 L229.7 336.7 L231.6 336.0 L233.5 335.3 L235.4 334.6 L237.3 334.0 L239.2 333.3 L241.1 332.7 L243.0 332.0 L244.9 331.4 L246.8 330.7 L248.7 330.1 L250.7 329.5 L252.6 328.9 L254.5 328.3 L256.4 327.7 L258.3 327.1 L260.3 326.5 L262.2 325.9 L264.1 325.3 L266.0 324.7 L268.0 324.1 L269.9 323.5 L271.8 322.9 L273.7 322.3 L275.6 321.7 L277.5 321.1 L279.5 320.4 L281.4 319.8 L283.3 319.2 L285.2 318.6 L287.1 318.0 L288.1 317.7" stroke="#802e10" stroke-width="6.6" fill="none" stroke-linecap="round" stroke-linejoin="round"/>
<path d="M288.1 317.7 L290.0 317.1 L291.9 316.5 L292.9 316.2" stroke="#802f10" stroke-width="6.6" fill="none" stroke-linecap="round" stroke-linejoin="round"/>
<path d="M292.9 316.2 L294.8 315.7 L296.8 315.3 L297.8 315.3" stroke="#853211" stroke-width="6.6" fill="none" stroke-linecap="round" stroke-linejoin="round"/>
<path d="M297.8 315.3 L299.8 315.7 L301.2 317.1 L301.6 318.0" stroke="#e17a18" stroke-width="6.6" fill="none" stroke-linecap="round" stroke-linejoin="round"/>
<path d="M301.6 318.0 L302.2 320.0 L302.4 322.0 L302.4 323.0" stroke="#fce598" stroke-width="6.6" fill="none" stroke-linecap="round" stroke-linejoin="round"/>
<path d="M302.4 323.0 L302.5 325.0 L302.5 327.0 L302.5 328.0" stroke="#fdeda6" stroke-width="6.6" fill="none" stroke-linecap="round" stroke-linejoin="round"/>
<path d="M302.5 328.0 L302.5 330.0 L302.6 332.0 L302.5 333.0" stroke="#fdefa9" stroke-width="6.6" fill="none" stroke-linecap="round" stroke-linejoin="round"/>
<path d="M302.5 333.0 L302.5 335.0 L302.5 337.1 L302.5 338.1" stroke="#fdeea7" stroke-width="6.6" fill="none" stroke-linecap="round" stroke-linejoin="round"/>
<path d="M302.5 338.1 L302.5 340.1 L302.5 342.1 L302.5 344.1" stroke="#fdeda5" stroke-width="6.6" fill="none" stroke-linecap="round" stroke-linejoin="round"/>
<path d="M197.2 45.5 L195.2 45.5 L193.1 45.5 L191.1 45.4 L189.1 45.2 L187.0 45.0 L185.0 44.7 L183.0 44.5 L181.0 44.2 L179.0 44.0 L176.9 43.7 L174.9 43.5 L172.9 43.3 L170.9 43.0 L168.9 42.8 L166.8 42.6 L164.8 42.3 L162.8 42.1 L160.8 41.9 L158.7 41.7 L156.7 41.6 L154.7 41.4 L152.7 41.2 L150.6 41.0 L148.6 40.8 L147.6 40.7" stroke="#802e10" stroke-width="6.6" fill="none" stroke-linecap="round" stroke-linejoin="round"/>
<path d="M197.2 363.5 L195.2 363.5 L193.1 363.5 L191.1 363.6 L189.1 363.8 L187.0 364.0 L185.0 364.3 L183.0 364.5 L181.0 364.8 L179.0 365.0 L176.9 365.3 L174.9 365.5 L172.9 365.7 L170.9 366.0 L168.9 366.2 L166.8 366.4 L164.8 366.7 L162.8 366.9 L160.8 367.1 L158.7 367.3 L156.7 367.4 L154.7 367.6 L152.7 367.8 L150.6 368.0 L148.6 368.2 L147.6 368.3" stroke="#802e10" stroke-width="6.6" fill="none" stroke-linecap="round" stroke-linejoin="round"/>
<path d="M197.2 45.5 L199.2 45.5 L201.3 45.5 L203.3 45.4 L205.3 45.2 L207.4 45.0 L209.4 44.7 L211.4 44.5 L213.4 44.2 L215.4 44.0 L217.5 43.7 L219.5 43.5 L221.5 43.3 L223.5 43.0 L225.5 42.8 L227.6 42.6 L229.6 42.3 L231.6 42.1 L233.6 41.9 L235.7 41.7 L237.7 41.6 L239.7 41.4 L241.7 41.2 L243.8 41.0 L245.8 40.8 L246.8 40.7" stroke="#802e10" stroke-width="6.6" fill="none" stroke-linecap="round" stroke-linejoin="round"/>
<path d="M197.2 363.5 L199.2 363.5 L201.3 363.5 L203.3 363.6 L205.3 363.8 L207.4 364.0 L209.4 364.3 L211.4 364.5 L213.4 364.8 L215.4 365.0 L217.5 365.3 L219.5 365.5 L221.5 365.7 L223.5 366.0 L225.5 366.2 L227.6 366.4 L229.6 366.7 L231.6 366.9 L233.6 367.1 L235.7 367.3 L237.7 367.4 L239.7 367.6 L241.7 367.8 L243.8 368.0 L245.8 368.2 L246.8 368.3" stroke="#802e10" stroke-width="6.6" fill="none" stroke-linecap="round" stroke-linejoin="round"/>
<path d="M197.2 58.0 L195.2 57.9 L193.2 57.9 L191.1 57.7 L189.1 57.5 L187.2 57.1 L185.2 56.6 L183.3 56.1 L181.3 55.6 L179.3 55.1 L177.3 54.7 L175.4 54.3 L173.4 53.9 L171.4 53.5 L169.4 53.1 L167.5 52.7 L165.5 52.3 L163.5 51.9 L161.5 51.5 L159.5 51.2 L157.5 50.9 L155.5 50.6 L153.5 50.3 L151.5 50.1 L149.5 49.9 L147.5 49.7 L145.5 49.5 L143.5 49.4 L141.5 49.2 L139.4 49.0 L137.4 48.9 L135.4 48.7 L133.4 48.5" stroke="#802e10" stroke-width="6.6" fill="none" stroke-linecap="round" stroke-linejoin="round"/>
<path d="M197.2 351.0 L195.2 351.1 L193.2 351.1 L191.1 351.3 L189.1 351.5 L187.2 351.9 L185.2 352.4 L183.3 352.9 L181.3 353.4 L179.3 353.9 L177.3 354.3 L175.4 354.7 L173.4 355.1 L171.4 355.5 L169.4 355.9 L167.5 356.3 L165.5 356.7 L163.5 357.1 L161.5 357.5 L159.5 357.8 L157.5 358.1 L155.5 358.4 L153.5 358.7 L151.5 358.9 L149.5 359.1 L147.5 359.3 L145.5 359.5 L143.5 359.6 L141.5 359.8 L139.4 360.0 L137.4 360.1 L135.4 360.3 L133.4 360.5" stroke="#802e10" stroke-width="6.6" fill="none" stroke-linecap="round" stroke-linejoin="round"/>
<path d="M197.2 58.0 L199.2 57.9 L201.2 57.9 L203.3 57.7 L205.3 57.5 L207.2 57.1 L209.2 56.6 L211.1 56.1 L213.1 55.6 L215.1 55.1 L217.1 54.7 L219.0 54.3 L221.0 53.9 L223.0 53.5 L225.0 53.1 L226.9 52.7 L228.9 52.3 L230.9 51.9 L232.9 51.5 L234.9 51.2 L236.9 50.9 L238.9 50.6 L240.9 50.3 L242.9 50.1 L244.9 49.9 L246.9 49.7 L248.9 49.5 L250.9 49.4 L252.9 49.2 L255.0 49.0 L257.0 48.9 L259.0 48.7 L261.0 48.5" stroke="#802e10" stroke-width="6.6" fill="none" stroke-linecap="round" stroke-linejoin="round"/>
<path d="M197.2 351.0 L199.2 351.1 L201.2 351.1 L203.3 351.3 L205.3 351.5 L207.2 351.9 L209.2 352.4 L211.1 352.9 L213.1 353.4 L215.1 353.9 L217.1 354.3 L219.0 354.7 L221.0 355.1 L223.0 355.5 L225.0 355.9 L226.9 356.3 L228.9 356.7 L230.9 357.1 L232.9 357.5 L234.9 357.8 L236.9 358.1 L238.9 358.4 L240.9 358.7 L242.9 358.9 L244.9 359.1 L246.9 359.3 L248.9 359.5 L250.9 359.6 L252.9 359.8 L255.0 360.0 L257.0 360.1 L259.0 360.3 L261.0 360.5" stroke="#802e10" stroke-width="6.6" fill="none" stroke-linecap="round" stroke-linejoin="round"/>
<path d="M96.2 204.5 L96.5 202.5 L96.8 200.5 L97.0 199.5" stroke="#6f230f" stroke-width="6.0" fill="none" stroke-linecap="round" stroke-linejoin="round"/>
<path d="M97.0 199.5 L97.3 197.6 L97.7 195.6 L97.9 194.6" stroke="#7c2c10" stroke-width="6.0" fill="none" stroke-linecap="round" stroke-linejoin="round"/>
<path d="M97.9 194.6 L98.5 192.7 L99.1 190.8 L99.4 189.8" stroke="#893511" stroke-width="6.0" fill="none" stroke-linecap="round" stroke-linejoin="round"/>
<path d="M99.4 189.8 L100.1 188.0 L100.9 186.1 L101.3 185.2" stroke="#a44714" stroke-width="6.0" fill="none" stroke-linecap="round" stroke-linejoin="round"/>
<path d="M101.3 185.2 L102.1 183.3 L102.9 181.5 L103.3 180.6" stroke="#c66416" stroke-width="6.0" fill="none" stroke-linecap="round" stroke-linejoin="round"/>
<path d="M103.3 180.6 L104.2 178.8 L105.2 177.1 L105.7 176.2" stroke="#e88018" stroke-width="6.0" fill="none" stroke-linecap="round" stroke-linejoin="round"/>
<path d="M105.7 176.2 L106.9 174.6 L108.1 173.0 L108.7 172.2" stroke="#f0a038" stroke-width="6.0" fill="none" stroke-linecap="round" stroke-linejoin="round"/>
<path d="M108.7 172.2 L109.8 170.5 L110.7 168.7 L111.1 167.8" stroke="#f6be5d" stroke-width="6.0" fill="none" stroke-linecap="round" stroke-linejoin="round"/>
<path d="M111.1 167.8 L111.6 165.8 L111.9 163.9 L112.0 162.9" stroke="#f9d47d" stroke-width="6.0" fill="none" stroke-linecap="round" stroke-linejoin="round"/>
<path d="M112.0 162.9 L112.1 160.9 L112.0 158.9 L112.0 157.9" stroke="#fbe496" stroke-width="6.0" fill="none" stroke-linecap="round" stroke-linejoin="round"/>
<path d="M112.0 157.9 L111.8 155.9 L111.6 153.9 L111.4 152.9" stroke="#fdeca5" stroke-width="6.0" fill="none" stroke-linecap="round" stroke-linejoin="round"/>
<path d="M111.4 152.9 L111.0 150.9 L110.7 148.9 L110.5 148.0" stroke="#fdeea7" stroke-width="6.0" fill="none" stroke-linecap="round" stroke-linejoin="round"/>
<path d="M110.5 148.0 L110.1 146.0 L109.8 144.0 L109.7 143.0" stroke="#fdefa9" stroke-width="6.0" fill="none" stroke-linecap="round" stroke-linejoin="round"/>
<path d="M109.7 143.0 L109.5 141.0 L109.2 139.0 L109.1 138.0" stroke="#fceaa0" stroke-width="6.0" fill="none" stroke-linecap="round" stroke-linejoin="round"/>
<path d="M109.1 138.0 L109.0 136.0 L109.1 134.0 L109.3 133.0" stroke="#fbde8c" stroke-width="6.0" fill="none" stroke-linecap="round" stroke-linejoin="round"/>
<path d="M109.3 133.0 L110.0 131.1 L111.1 129.5 L111.8 128.8" stroke="#f6c060" stroke-width="6.0" fill="none" stroke-linecap="round" stroke-linejoin="round"/>
<path d="M111.8 128.8 L113.6 127.9 L115.5 127.4 L116.5 127.3" stroke="#eb8c24" stroke-width="6.0" fill="none" stroke-linecap="round" stroke-linejoin="round"/>
<path d="M116.5 127.3 L118.5 127.4 L120.5 127.7 L121.5 127.9" stroke="#ca6716" stroke-width="6.0" fill="none" stroke-linecap="round" stroke-linejoin="round"/>
<path d="M121.5 127.9 L123.4 128.5 L125.3 129.2 L126.2 129.6" stroke="#a44814" stroke-width="6.0" fill="none" stroke-linecap="round" stroke-linejoin="round"/>
<path d="M126.2 129.6 L128.1 130.4 L129.9 131.2 L130.8 131.6" stroke="#933b13" stroke-width="6.0" fill="none" stroke-linecap="round" stroke-linejoin="round"/>
<path d="M130.8 131.6 L132.7 132.2 L134.6 132.8 L135.6 133.1" stroke="#823011" stroke-width="6.0" fill="none" stroke-linecap="round" stroke-linejoin="round"/>
<path d="M135.6 133.1 L137.6 133.5 L139.5 134.0 L141.5 134.4 L143.5 134.8 L145.4 135.2 L147.4 135.7 L149.3 136.2 L151.2 136.8 L153.2 137.3 L155.1 137.8 L157.0 138.4 L158.9 139.0 L160.8 139.6 L162.7 140.3 L164.6 141.0 L166.5 141.7 L168.3 142.5 L170.2 143.3 L172.0 144.2 L173.8 145.1 L175.5 146.0 L177.3 146.9 L179.1 147.8 L180.9 148.7 L182.7 149.6 L184.5 150.5 L186.3 151.3 L188.1 152.2 L190.0 153.0 L191.8 153.9 L193.6 154.8 L195.4 155.6 L197.2 156.5" stroke="#802e10" stroke-width="6.0" fill="none" stroke-linecap="round" stroke-linejoin="round"/>
<path d="M96.2 204.5 L96.5 206.5 L96.8 208.5 L97.0 209.5" stroke="#6f230f" stroke-width="6.0" fill="none" stroke-linecap="round" stroke-linejoin="round"/>
<path d="M97.0 209.5 L97.3 211.4 L97.7 213.4 L97.9 214.4" stroke="#7c2c10" stroke-width="6.0" fill="none" stroke-linecap="round" stroke-linejoin="round"/>
<path d="M97.9 214.4 L98.5 216.3 L99.1 218.2 L99.4 219.2" stroke="#893511" stroke-width="6.0" fill="none" stroke-linecap="round" stroke-linejoin="round"/>
<path d="M99.4 219.2 L100.1 221.0 L100.9 222.9 L101.3 223.8" stroke="#a44714" stroke-width="6.0" fill="none" stroke-linecap="round" stroke-linejoin="round"/>
<path d="M101.3 223.8 L102.1 225.7 L102.9 227.5 L103.3 228.4" stroke="#c66416" stroke-width="6.0" fill="none" stroke-linecap="round" stroke-linejoin="round"/>
<path d="M103.3 228.4 L104.2 230.2 L105.2 231.9 L105.7 232.8" stroke="#e88018" stroke-width="6.0" fill="none" stroke-linecap="round" stroke-linejoin="round"/>
<path d="M105.7 232.8 L106.9 234.4 L108.1 236.0 L108.7 236.8" stroke="#f0a038" stroke-width="6.0" fill="none" stroke-linecap="round" stroke-linejoin="round"/>
<path d="M108.7 236.8 L109.8 238.5 L110.7 240.3 L111.1 241.2" stroke="#f6be5d" stroke-width="6.0" fill="none" stroke-linecap="round" stroke-linejoin="round"/>
<path d="M111.1 241.2 L111.6 243.2 L111.9 245.1 L112.0 246.1" stroke="#f9d47d" stroke-width="6.0" fill="none" stroke-linecap="round" stroke-linejoin="round"/>
<path d="M112.0 246.1 L112.1 248.1 L112.0 250.1 L112.0 251.1" stroke="#fbe496" stroke-width="6.0" fill="none" stroke-linecap="round" stroke-linejoin="round"/>
<path d="M112.0 251.1 L111.8 253.1 L111.6 255.1 L111.4 256.1" stroke="#fdeca5" stroke-width="6.0" fill="none" stroke-linecap="round" stroke-linejoin="round"/>
<path d="M111.4 256.1 L111.0 258.1 L110.7 260.1 L110.5 261.0" stroke="#fdeea7" stroke-width="6.0" fill="none" stroke-linecap="round" stroke-linejoin="round"/>
<path d="M110.5 261.0 L110.1 263.0 L109.8 265.0 L109.7 266.0" stroke="#fdefa9" stroke-width="6.0" fill="none" stroke-linecap="round" stroke-linejoin="round"/>
<path d="M109.7 266.0 L109.5 268.0 L109.2 270.0 L109.1 271.0" stroke="#fceaa0" stroke-width="6.0" fill="none" stroke-linecap="round" stroke-linejoin="round"/>
<path d="M109.1 271.0 L109.0 273.0 L109.1 275.0 L109.3 276.0" stroke="#fbde8c" stroke-width="6.0" fill="none" stroke-linecap="round" stroke-linejoin="round"/>
<path d="M109.3 276.0 L110.0 277.9 L111.1 279.5 L111.8 280.2" stroke="#f6c060" stroke-width="6.0" fill="none" stroke-linecap="round" stroke-linejoin="round"/>
<path d="M111.8 280.2 L113.6 281.1 L115.5 281.6 L116.5 281.7" stroke="#eb8c24" stroke-width="6.0" fill="none" stroke-linecap="round" stroke-linejoin="round"/>
<path d="M116.5 281.7 L118.5 281.6 L120.5 281.3 L121.5 281.1" stroke="#ca6716" stroke-width="6.0" fill="none" stroke-linecap="round" stroke-linejoin="round"/>
<path d="M121.5 281.1 L123.4 280.5 L125.3 279.8 L126.2 279.4" stroke="#a44814" stroke-width="6.0" fill="none" stroke-linecap="round" stroke-linejoin="round"/>
<path d="M126.2 279.4 L128.1 278.6 L129.9 277.8 L130.8 277.4" stroke="#933b13" stroke-width="6.0" fill="none" stroke-linecap="round" stroke-linejoin="round"/>
<path d="M130.8 277.4 L132.7 276.8 L134.6 276.2 L135.6 275.9" stroke="#823011" stroke-width="6.0" fill="none" stroke-linecap="round" stroke-linejoin="round"/>
<path d="M135.6 275.9 L137.6 275.5 L139.5 275.0 L141.5 274.6 L143.5 274.2 L145.4 273.8 L147.4 273.3 L149.3 272.8 L151.2 272.2 L153.2 271.7 L155.1 271.2 L157.0 270.6 L158.9 270.0 L160.8 269.4 L162.7 268.7 L164.6 268.0 L166.5 267.3 L168.3 266.5 L170.2 265.7 L172.0 264.8 L173.8 263.9 L175.5 263.0 L177.3 262.1 L179.1 261.2 L180.9 260.3 L182.7 259.4 L184.5 258.5 L186.3 257.7 L188.1 256.8 L190.0 256.0 L191.8 255.1 L193.6 254.2 L195.4 253.4 L197.2 252.5" stroke="#802e10" stroke-width="6.0" fill="none" stroke-linecap="round" stroke-linejoin="round"/>
<path d="M298.2 204.5 L297.9 202.5 L297.6 200.5 L297.4 199.5" stroke="#6f230f" stroke-width="6.0" fill="none" stroke-linecap="round" stroke-linejoin="round"/>
<path d="M297.4 199.5 L297.1 197.6 L296.7 195.6 L296.5 194.6" stroke="#7c2c10" stroke-width="6.0" fill="none" stroke-linecap="round" stroke-linejoin="round"/>
<path d="M296.5 194.6 L295.9 192.7 L295.3 190.8 L295.0 189.8" stroke="#893511" stroke-width="6.0" fill="none" stroke-linecap="round" stroke-linejoin="round"/>
<path d="M295.0 189.8 L294.3 188.0 L293.5 186.1 L293.1 185.2" stroke="#a44714" stroke-width="6.0" fill="none" stroke-linecap="round" stroke-linejoin="round"/>
<path d="M293.1 185.2 L292.3 183.3 L291.5 181.5 L291.1 180.6" stroke="#c66416" stroke-width="6.0" fill="none" stroke-linecap="round" stroke-linejoin="round"/>
<path d="M291.1 180.6 L290.2 178.8 L289.2 177.1 L288.7 176.2" stroke="#e88018" stroke-width="6.0" fill="none" stroke-linecap="round" stroke-linejoin="round"/>
<path d="M288.7 176.2 L287.5 174.6 L286.3 173.0 L285.7 172.2" stroke="#f0a038" stroke-width="6.0" fill="none" stroke-linecap="round" stroke-linejoin="round"/>
<path d="M285.7 172.2 L284.6 170.5 L283.7 168.7 L283.3 167.8" stroke="#f6be5d" stroke-width="6.0" fill="none" stroke-linecap="round" stroke-linejoin="round"/>
<path d="M283.3 167.8 L282.8 165.8 L282.5 163.9 L282.4 162.9" stroke="#f9d47d" stroke-width="6.0" fill="none" stroke-linecap="round" stroke-linejoin="round"/>
<path d="M282.4 162.9 L282.3 160.9 L282.4 158.9 L282.4 157.9" stroke="#fbe496" stroke-width="6.0" fill="none" stroke-linecap="round" stroke-linejoin="round"/>
<path d="M282.4 157.9 L282.6 155.9 L282.8 153.9 L283.0 152.9" stroke="#fdeca5" stroke-width="6.0" fill="none" stroke-linecap="round" stroke-linejoin="round"/>
<path d="M283.0 152.9 L283.4 150.9 L283.7 148.9 L283.9 148.0" stroke="#fdeea7" stroke-width="6.0" fill="none" stroke-linecap="round" stroke-linejoin="round"/>
<path d="M283.9 148.0 L284.3 146.0 L284.6 144.0 L284.7 143.0" stroke="#fdefa9" stroke-width="6.0" fill="none" stroke-linecap="round" stroke-linejoin="round"/>
<path d="M284.7 143.0 L284.9 141.0 L285.2 139.0 L285.3 138.0" stroke="#fceaa0" stroke-width="6.0" fill="none" stroke-linecap="round" stroke-linejoin="round"/>
<path d="M285.3 138.0 L285.4 136.0 L285.3 134.0 L285.1 133.0" stroke="#fbde8c" stroke-width="6.0" fill="none" stroke-linecap="round" stroke-linejoin="round"/>
<path d="M285.1 133.0 L284.4 131.1 L283.3 129.5 L282.6 128.8" stroke="#f6c060" stroke-width="6.0" fill="none" stroke-linecap="round" stroke-linejoin="round"/>
<path d="M282.6 128.8 L280.8 127.9 L278.9 127.4 L277.9 127.3" stroke="#eb8c24" stroke-width="6.0" fill="none" stroke-linecap="round" stroke-linejoin="round"/>
<path d="M277.9 127.3 L275.9 127.4 L273.9 127.7 L272.9 127.9" stroke="#ca6716" stroke-width="6.0" fill="none" stroke-linecap="round" stroke-linejoin="round"/>
<path d="M272.9 127.9 L271.0 128.5 L269.1 129.2 L268.2 129.6" stroke="#a44814" stroke-width="6.0" fill="none" stroke-linecap="round" stroke-linejoin="round"/>
<path d="M268.2 129.6 L266.3 130.4 L264.5 131.2 L263.6 131.6" stroke="#933b13" stroke-width="6.0" fill="none" stroke-linecap="round" stroke-linejoin="round"/>
<path d="M263.6 131.6 L261.7 132.2 L259.8 132.8 L258.8 133.1" stroke="#823011" stroke-width="6.0" fill="none" stroke-linecap="round" stroke-linejoin="round"/>
<path d="M258.8 133.1 L256.8 133.5 L254.9 134.0 L252.9 134.4 L250.9 134.8 L249.0 135.2 L247.0 135.7 L245.1 136.2 L243.2 136.8 L241.2 137.3 L239.3 137.8 L237.4 138.4 L235.5 139.0 L233.6 139.6 L231.7 140.3 L229.8 141.0 L227.9 141.7 L226.1 142.5 L224.2 143.3 L222.4 144.2 L220.6 145.1 L218.9 146.0 L217.1 146.9 L215.3 147.8 L213.5 148.7 L211.7 149.6 L209.9 150.5 L208.1 151.3 L206.3 152.2 L204.4 153.0 L202.6 153.9 L200.8 154.8 L199.0 155.6 L197.2 156.5" stroke="#802e10" stroke-width="6.0" fill="none" stroke-linecap="round" stroke-linejoin="round"/>
<path d="M298.2 204.5 L297.9 206.5 L297.6 208.5 L297.4 209.5" stroke="#6f230f" stroke-width="6.0" fill="none" stroke-linecap="round" stroke-linejoin="round"/>
<path d="M297.4 209.5 L297.1 211.4 L296.7 213.4 L296.5 214.4" stroke="#7c2c10" stroke-width="6.0" fill="none" stroke-linecap="round" stroke-linejoin="round"/>
<path d="M296.5 214.4 L295.9 216.3 L295.3 218.2 L295.0 219.2" stroke="#893511" stroke-width="6.0" fill="none" stroke-linecap="round" stroke-linejoin="round"/>
<path d="M295.0 219.2 L294.3 221.0 L293.5 222.9 L293.1 223.8" stroke="#a44714" stroke-width="6.0" fill="none" stroke-linecap="round" stroke-linejoin="round"/>
<path d="M293.1 223.8 L292.3 225.7 L291.5 227.5 L291.1 228.4" stroke="#c66416" stroke-width="6.0" fill="none" stroke-linecap="round" stroke-linejoin="round"/>
<path d="M291.1 228.4 L290.2 230.2 L289.2 231.9 L288.7 232.8" stroke="#e88018" stroke-width="6.0" fill="none" stroke-linecap="round" stroke-linejoin="round"/>
<path d="M288.7 232.8 L287.5 234.4 L286.3 236.0 L285.7 236.8" stroke="#f0a038" stroke-width="6.0" fill="none" stroke-linecap="round" stroke-linejoin="round"/>
<path d="M285.7 236.8 L284.6 238.5 L283.7 240.3 L283.3 241.2" stroke="#f6be5d" stroke-width="6.0" fill="none" stroke-linecap="round" stroke-linejoin="round"/>
<path d="M283.3 241.2 L282.8 243.2 L282.5 245.1 L282.4 246.1" stroke="#f9d47d" stroke-width="6.0" fill="none" stroke-linecap="round" stroke-linejoin="round"/>
<path d="M282.4 246.1 L282.3 248.1 L282.4 250.1 L282.4 251.1" stroke="#fbe496" stroke-width="6.0" fill="none" stroke-linecap="round" stroke-linejoin="round"/>
<path d="M282.4 251.1 L282.6 253.1 L282.8 255.1 L283.0 256.1" stroke="#fdeca5" stroke-width="6.0" fill="none" stroke-linecap="round" stroke-linejoin="round"/>
<path d="M283.0 256.1 L283.4 258.1 L283.7 260.1 L283.9 261.0" stroke="#fdeea7" stroke-width="6.0" fill="none" stroke-linecap="round" stroke-linejoin="round"/>
<path d="M283.9 261.0 L284.3 263.0 L284.6 265.0 L284.7 266.0" stroke="#fdefa9" stroke-width="6.0" fill="none" stroke-linecap="round" stroke-linejoin="round"/>
<path d="M284.7 266.0 L284.9 268.0 L285.2 270.0 L285.3 271.0" stroke="#fceaa0" stroke-width="6.0" fill="none" stroke-linecap="round" stroke-linejoin="round"/>
<path d="M285.3 271.0 L285.4 273.0 L285.3 275.0 L285.1 276.0" stroke="#fbde8c" stroke-width="6.0" fill="none" stroke-linecap="round" stroke-linejoin="round"/>
<path d="M285.1 276.0 L284.4 277.9 L283.3 279.5 L282.6 280.2" stroke="#f6c060" stroke-width="6.0" fill="none" stroke-linecap="round" stroke-linejoin="round"/>
<path d="M282.6 280.2 L280.8 281.1 L278.9 281.6 L277.9 281.7" stroke="#eb8c24" stroke-width="6.0" fill="none" stroke-linecap="round" stroke-linejoin="round"/>
<path d="M277.9 281.7 L275.9 281.6 L273.9 281.3 L272.9 281.1" stroke="#ca6716" stroke-width="6.0" fill="none" stroke-linecap="round" stroke-linejoin="round"/>
<path d="M272.9 281.1 L271.0 280.5 L269.1 279.8 L268.2 279.4" stroke="#a44814" stroke-width="6.0" fill="none" stroke-linecap="round" stroke-linejoin="round"/>
<path d="M268.2 279.4 L266.3 278.6 L264.5 277.8 L263.6 277.4" stroke="#933b13" stroke-width="6.0" fill="none" stroke-linecap="round" stroke-linejoin="round"/>
<path d="M263.6 277.4 L261.7 276.8 L259.8 276.2 L258.8 275.9" stroke="#823011" stroke-width="6.0" fill="none" stroke-linecap="round" stroke-linejoin="round"/>
<path d="M258.8 275.9 L256.8 275.5 L254.9 275.0 L252.9 274.6 L250.9 274.2 L249.0 273.8 L247.0 273.3 L245.1 272.8 L243.2 272.2 L241.2 271.7 L239.3 271.2 L237.4 270.6 L235.5 270.0 L233.6 269.4 L231.7 268.7 L229.8 268.0 L227.9 267.3 L226.1 266.5 L224.2 265.7 L222.4 264.8 L220.6 263.9 L218.9 263.0 L217.1 262.1 L215.3 261.2 L213.5 260.3 L211.7 259.4 L209.9 258.5 L208.1 257.7 L206.3 256.8 L204.4 256.0 L202.6 255.1 L200.8 254.2 L199.0 253.4 L197.2 252.5" stroke="#802e10" stroke-width="6.0" fill="none" stroke-linecap="round" stroke-linejoin="round"/>
<path d="M100.9 204.5 L101.3 202.5 L101.7 200.5" stroke="#7a2b10" stroke-width="6.0" fill="none" stroke-linecap="round" stroke-linejoin="round"/>
<path d="M101.7 200.5 L102.1 198.6 L102.7 196.6 L103.0 195.7" stroke="#8a3512" stroke-width="6.0" fill="none" stroke-linecap="round" stroke-linejoin="round"/>
<path d="M103.0 195.7 L103.8 193.8 L104.7 192.0 L105.1 191.1" stroke="#9e4314" stroke-width="6.0" fill="none" stroke-linecap="round" stroke-linejoin="round"/>
<path d="M105.1 191.1 L106.1 189.4 L107.2 187.6 L107.8 186.8" stroke="#c46216" stroke-width="6.0" fill="none" stroke-linecap="round" stroke-linejoin="round"/>
<path d="M107.8 186.8 L108.9 185.1 L110.1 183.5 L110.7 182.7" stroke="#e88119" stroke-width="6.0" fill="none" stroke-linecap="round" stroke-linejoin="round"/>
<path d="M110.7 182.7 L112.0 181.2 L113.4 179.7 L114.1 178.9" stroke="#ef9a32" stroke-width="6.0" fill="none" stroke-linecap="round" stroke-linejoin="round"/>
<path d="M114.1 178.9 L115.4 177.5 L116.8 175.9 L117.4 175.1" stroke="#f4b450" stroke-width="6.0" fill="none" stroke-linecap="round" stroke-linejoin="round"/>
<path d="M117.4 175.1 L118.5 173.4 L119.5 171.7" stroke="#f8cc71" stroke-width="6.0" fill="none" stroke-linecap="round" stroke-linejoin="round"/>
<path d="M119.5 171.7 L120.3 169.8 L121.0 167.9 L121.3 167.0" stroke="#fad781" stroke-width="6.0" fill="none" stroke-linecap="round" stroke-linejoin="round"/>
<path d="M121.3 167.0 L121.7 165.0 L122.0 163.0 L122.1 162.0" stroke="#fbe496" stroke-width="6.0" fill="none" stroke-linecap="round" stroke-linejoin="round"/>
<path d="M122.1 162.0 L122.1 160.0 L122.1 158.0 L122.0 157.0" stroke="#fce89c" stroke-width="6.0" fill="none" stroke-linecap="round" stroke-linejoin="round"/>
<path d="M122.0 157.0 L121.9 154.9 L121.7 152.9 L121.6 151.9" stroke="#fce698" stroke-width="6.0" fill="none" stroke-linecap="round" stroke-linejoin="round"/>
<path d="M121.6 151.9 L121.5 149.9 L121.4 147.9 L121.4 146.9" stroke="#fbe495" stroke-width="6.0" fill="none" stroke-linecap="round" stroke-linejoin="round"/>
<path d="M121.4 146.9 L121.4 144.9 L121.5 142.8 L121.5 141.8" stroke="#fadb88" stroke-width="6.0" fill="none" stroke-linecap="round" stroke-linejoin="round"/>
<path d="M121.5 141.8 L121.6 139.8 L121.9 137.8" stroke="#f8cc6f" stroke-width="6.0" fill="none" stroke-linecap="round" stroke-linejoin="round"/>
<path d="M121.9 137.8 L122.3 135.9 L123.2 134.0 L123.9 133.3" stroke="#f5b957" stroke-width="6.0" fill="none" stroke-linecap="round" stroke-linejoin="round"/>
<path d="M123.9 133.3 L125.6 132.4 L127.6 132.2 L128.7 132.3" stroke="#e9841c" stroke-width="6.0" fill="none" stroke-linecap="round" stroke-linejoin="round"/>
<path d="M128.7 132.3 L130.6 132.6 L132.6 133.0 L133.6 133.2" stroke="#bd5c16" stroke-width="6.0" fill="none" stroke-linecap="round" stroke-linejoin="round"/>
<path d="M133.6 133.2 L135.6 133.6 L137.6 133.9 L138.6 134.1" stroke="#953c13" stroke-width="6.0" fill="none" stroke-linecap="round" stroke-linejoin="round"/>
<path d="M138.6 134.1 L140.6 134.5 L142.6 134.9 L143.5 135.0" stroke="#8c3712" stroke-width="6.0" fill="none" stroke-linecap="round" stroke-linejoin="round"/>
<path d="M143.5 135.0 L145.5 135.4 L147.5 135.8 L148.5 136.0" stroke="#843211" stroke-width="6.0" fill="none" stroke-linecap="round" stroke-linejoin="round"/>
<path d="M100.9 204.5 L101.3 206.5 L101.7 208.5" stroke="#7a2b10" stroke-width="6.0" fill="none" stroke-linecap="round" stroke-linejoin="round"/>
<path d="M101.7 208.5 L102.1 210.4 L102.7 212.4 L103.0 213.3" stroke="#8a3512" stroke-width="6.0" fill="none" stroke-linecap="round" stroke-linejoin="round"/>
<path d="M103.0 213.3 L103.8 215.2 L104.7 217.0 L105.1 217.9" stroke="#9e4314" stroke-width="6.0" fill="none" stroke-linecap="round" stroke-linejoin="round"/>
<path d="M105.1 217.9 L106.1 219.6 L107.2 221.4 L107.8 222.2" stroke="#c46216" stroke-width="6.0" fill="none" stroke-linecap="round" stroke-linejoin="round"/>
<path d="M107.8 222.2 L108.9 223.9 L110.1 225.5 L110.7 226.3" stroke="#e88119" stroke-width="6.0" fill="none" stroke-linecap="round" stroke-linejoin="round"/>
<path d="M110.7 226.3 L112.0 227.8 L113.4 229.3 L114.1 230.1" stroke="#ef9a32" stroke-width="6.0" fill="none" stroke-linecap="round" stroke-linejoin="round"/>
<path d="M114.1 230.1 L115.4 231.5 L116.8 233.1 L117.4 233.9" stroke="#f4b450" stroke-width="6.0" fill="none" stroke-linecap="round" stroke-linejoin="round"/>
<path d="M117.4 233.9 L118.5 235.6 L119.5 237.3" stroke="#f8cc71" stroke-width="6.0" fill="none" stroke-linecap="round" stroke-linejoin="round"/>
<path d="M119.5 237.3 L120.3 239.2 L121.0 241.1 L121.3 242.0" stroke="#fad781" stroke-width="6.0" fill="none" stroke-linecap="round" stroke-linejoin="round"/>
<path d="M121.3 242.0 L121.7 244.0 L122.0 246.0 L122.1 247.0" stroke="#fbe496" stroke-width="6.0" fill="none" stroke-linecap="round" stroke-linejoin="round"/>
<path d="M122.1 247.0 L122.1 249.0 L122.1 251.0 L122.0 252.0" stroke="#fce89c" stroke-width="6.0" fill="none" stroke-linecap="round" stroke-linejoin="round"/>
<path d="M122.0 252.0 L121.9 254.1 L121.7 256.1 L121.6 257.1" stroke="#fce698" stroke-width="6.0" fill="none" stroke-linecap="round" stroke-linejoin="round"/>
<path d="M121.6 257.1 L121.5 259.1 L121.4 261.1 L121.4 262.1" stroke="#fbe495" stroke-width="6.0" fill="none" stroke-linecap="round" stroke-linejoin="round"/>
<path d="M121.4 262.1 L121.4 264.1 L121.5 266.2 L121.5 267.2" stroke="#fadb88" stroke-width="6.0" fill="none" stroke-linecap="round" stroke-linejoin="round"/>
<path d="M121.5 267.2 L121.6 269.2 L121.9 271.2" stroke="#f8cc6f" stroke-width="6.0" fill="none" stroke-linecap="round" stroke-linejoin="round"/>
<path d="M121.9 271.2 L122.3 273.1 L123.2 275.0 L123.9 275.7" stroke="#f5b957" stroke-width="6.0" fill="none" stroke-linecap="round" stroke-linejoin="round"/>
<path d="M123.9 275.7 L125.6 276.6 L127.6 276.8 L128.7 276.7" stroke="#e9841c" stroke-width="6.0" fill="none" stroke-linecap="round" stroke-linejoin="round"/>
<path d="M128.7 276.7 L130.6 276.4 L132.6 276.0 L133.6 275.8" stroke="#bd5c16" stroke-width="6.0" fill="none" stroke-linecap="round" stroke-linejoin="round"/>
<path d="M133.6 275.8 L135.6 275.4 L137.6 275.1 L138.6 274.9" stroke="#953c13" stroke-width="6.0" fill="none" stroke-linecap="round" stroke-linejoin="round"/>
<path d="M138.6 274.9 L140.6 274.5 L142.6 274.1 L143.5 274.0" stroke="#8c3712" stroke-width="6.0" fill="none" stroke-linecap="round" stroke-linejoin="round"/>
<path d="M143.5 274.0 L145.5 273.6 L147.5 273.2 L148.5 273.0" stroke="#843211" stroke-width="6.0" fill="none" stroke-linecap="round" stroke-linejoin="round"/>
<path d="M293.5 204.5 L293.1 202.5 L292.7 200.5" stroke="#7a2b10" stroke-width="6.0" fill="none" stroke-linecap="round" stroke-linejoin="round"/>
<path d="M292.7 200.5 L292.3 198.6 L291.7 196.6 L291.4 195.7" stroke="#8a3512" stroke-width="6.0" fill="none" stroke-linecap="round" stroke-linejoin="round"/>
<path d="M291.4 195.7 L290.6 193.8 L289.7 192.0 L289.3 191.1" stroke="#9e4314" stroke-width="6.0" fill="none" stroke-linecap="round" stroke-linejoin="round"/>
<path d="M289.3 191.1 L288.3 189.4 L287.2 187.6 L286.6 186.8" stroke="#c46216" stroke-width="6.0" fill="none" stroke-linecap="round" stroke-linejoin="round"/>
<path d="M286.6 186.8 L285.5 185.1 L284.3 183.5 L283.7 182.7" stroke="#e88119" stroke-width="6.0" fill="none" stroke-linecap="round" stroke-linejoin="round"/>
<path d="M283.7 182.7 L282.4 181.2 L281.0 179.7 L280.3 178.9" stroke="#ef9a32" stroke-width="6.0" fill="none" stroke-linecap="round" stroke-linejoin="round"/>
<path d="M280.3 178.9 L279.0 177.5 L277.6 175.9 L277.0 175.1" stroke="#f4b450" stroke-width="6.0" fill="none" stroke-linecap="round" stroke-linejoin="round"/>
<path d="M277.0 175.1 L275.9 173.4 L274.9 171.7" stroke="#f8cc71" stroke-width="6.0" fill="none" stroke-linecap="round" stroke-linejoin="round"/>
<path d="M274.9 171.7 L274.1 169.8 L273.4 167.9 L273.1 167.0" stroke="#fad781" stroke-width="6.0" fill="none" stroke-linecap="round" stroke-linejoin="round"/>
<path d="M273.1 167.0 L272.7 165.0 L272.4 163.0 L272.3 162.0" stroke="#fbe496" stroke-width="6.0" fill="none" stroke-linecap="round" stroke-linejoin="round"/>
<path d="M272.3 162.0 L272.3 160.0 L272.3 158.0 L272.4 157.0" stroke="#fce89c" stroke-width="6.0" fill="none" stroke-linecap="round" stroke-linejoin="round"/>
<path d="M272.4 157.0 L272.5 154.9 L272.7 152.9 L272.8 151.9" stroke="#fce698" stroke-width="6.0" fill="none" stroke-linecap="round" stroke-linejoin="round"/>
<path d="M272.8 151.9 L272.9 149.9 L273.0 147.9 L273.0 146.9" stroke="#fbe495" stroke-width="6.0" fill="none" stroke-linecap="round" stroke-linejoin="round"/>
<path d="M273.0 146.9 L273.0 144.9 L272.9 142.8 L272.9 141.8" stroke="#fadb88" stroke-width="6.0" fill="none" stroke-linecap="round" stroke-linejoin="round"/>
<path d="M272.9 141.8 L272.8 139.8 L272.5 137.8" stroke="#f8cc6f" stroke-width="6.0" fill="none" stroke-linecap="round" stroke-linejoin="round"/>
<path d="M272.5 137.8 L272.1 135.9 L271.2 134.0 L270.5 133.3" stroke="#f5b957" stroke-width="6.0" fill="none" stroke-linecap="round" stroke-linejoin="round"/>
<path d="M270.5 133.3 L268.8 132.4 L266.8 132.2 L265.7 132.3" stroke="#e9841c" stroke-width="6.0" fill="none" stroke-linecap="round" stroke-linejoin="round"/>
<path d="M265.7 132.3 L263.8 132.6 L261.8 133.0 L260.8 133.2" stroke="#bd5c16" stroke-width="6.0" fill="none" stroke-linecap="round" stroke-linejoin="round"/>
<path d="M260.8 133.2 L258.8 133.6 L256.8 133.9 L255.8 134.1" stroke="#953c13" stroke-width="6.0" fill="none" stroke-linecap="round" stroke-linejoin="round"/>
<path d="M255.8 134.1 L253.8 134.5 L251.8 134.9 L250.9 135.0" stroke="#8c3712" stroke-width="6.0" fill="none" stroke-linecap="round" stroke-linejoin="round"/>
<path d="M250.9 135.0 L248.9 135.4 L246.9 135.8 L245.9 136.0" stroke="#843211" stroke-width="6.0" fill="none" stroke-linecap="round" stroke-linejoin="round"/>
<path d="M293.5 204.5 L293.1 206.5 L292.7 208.5" stroke="#7a2b10" stroke-width="6.0" fill="none" stroke-linecap="round" stroke-linejoin="round"/>
<path d="M292.7 208.5 L292.3 210.4 L291.7 212.4 L291.4 213.3" stroke="#8a3512" stroke-width="6.0" fill="none" stroke-linecap="round" stroke-linejoin="round"/>
<path d="M291.4 213.3 L290.6 215.2 L289.7 217.0 L289.3 217.9" stroke="#9e4314" stroke-width="6.0" fill="none" stroke-linecap="round" stroke-linejoin="round"/>
<path d="M289.3 217.9 L288.3 219.6 L287.2 221.4 L286.6 222.2" stroke="#c46216" stroke-width="6.0" fill="none" stroke-linecap="round" stroke-linejoin="round"/>
<path d="M286.6 222.2 L285.5 223.9 L284.3 225.5 L283.7 226.3" stroke="#e88119" stroke-width="6.0" fill="none" stroke-linecap="round" stroke-linejoin="round"/>
<path d="M283.7 226.3 L282.4 227.8 L281.0 229.3 L280.3 230.1" stroke="#ef9a32" stroke-width="6.0" fill="none" stroke-linecap="round" stroke-linejoin="round"/>
<path d="M280.3 230.1 L279.0 231.5 L277.6 233.1 L277.0 233.9" stroke="#f4b450" stroke-width="6.0" fill="none" stroke-linecap="round" stroke-linejoin="round"/>
<path d="M277.0 233.9 L275.9 235.6 L274.9 237.3" stroke="#f8cc71" stroke-width="6.0" fill="none" stroke-linecap="round" stroke-linejoin="round"/>
<path d="M274.9 237.3 L274.1 239.2 L273.4 241.1 L273.1 242.0" stroke="#fad781" stroke-width="6.0" fill="none" stroke-linecap="round" stroke-linejoin="round"/>
<path d="M273.1 242.0 L272.7 244.0 L272.4 246.0 L272.3 247.0" stroke="#fbe496" stroke-width="6.0" fill="none" stroke-linecap="round" stroke-linejoin="round"/>
<path d="M272.3 247.0 L272.3 249.0 L272.3 251.0 L272.4 252.0" stroke="#fce89c" stroke-width="6.0" fill="none" stroke-linecap="round" stroke-linejoin="round"/>
<path d="M272.4 252.0 L272.5 254.1 L272.7 256.1 L272.8 257.1" stroke="#fce698" stroke-width="6.0" fill="none" stroke-linecap="round" stroke-linejoin="round"/>
<path d="M272.8 257.1 L272.9 259.1 L273.0 261.1 L273.0 262.1" stroke="#fbe495" stroke-width="6.0" fill="none" stroke-linecap="round" stroke-linejoin="round"/>
<path d="M273.0 262.1 L273.0 264.1 L272.9 266.2 L272.9 267.2" stroke="#fadb88" stroke-width="6.0" fill="none" stroke-linecap="round" stroke-linejoin="round"/>
<path d="M272.9 267.2 L272.8 269.2 L272.5 271.2" stroke="#f8cc6f" stroke-width="6.0" fill="none" stroke-linecap="round" stroke-linejoin="round"/>
<path d="M272.5 271.2 L272.1 273.1 L271.2 275.0 L270.5 275.7" stroke="#f5b957" stroke-width="6.0" fill="none" stroke-linecap="round" stroke-linejoin="round"/>
<path d="M270.5 275.7 L268.8 276.6 L266.8 276.8 L265.7 276.7" stroke="#e9841c" stroke-width="6.0" fill="none" stroke-linecap="round" stroke-linejoin="round"/>
<path d="M265.7 276.7 L263.8 276.4 L261.8 276.0 L260.8 275.8" stroke="#bd5c16" stroke-width="6.0" fill="none" stroke-linecap="round" stroke-linejoin="round"/>
<path d="M260.8 275.8 L258.8 275.4 L256.8 275.1 L255.8 274.9" stroke="#953c13" stroke-width="6.0" fill="none" stroke-linecap="round" stroke-linejoin="round"/>
<path d="M255.8 274.9 L253.8 274.5 L251.8 274.1 L250.9 274.0" stroke="#8c3712" stroke-width="6.0" fill="none" stroke-linecap="round" stroke-linejoin="round"/>
<path d="M250.9 274.0 L248.9 273.6 L246.9 273.2 L245.9 273.0" stroke="#843211" stroke-width="6.0" fill="none" stroke-linecap="round" stroke-linejoin="round"/>
<path d="M197.2 156.5 L195.7 157.8 L194.2 159.2 L192.7 160.5 L191.2 161.8 L189.7 163.2 L188.2 164.5 L186.8 165.8 L185.3 167.2 L183.8 168.6 L182.4 169.9 L180.9 171.3 L179.5 172.7 L178.1 174.1 L176.6 175.5 L175.2 176.9 L173.8 178.4 L172.4 179.8 L171.0 181.2 L169.6 182.6 L168.2 184.0 L166.7 185.5 L165.3 186.9 L163.9 188.3 L162.5 189.7" stroke="#77290f" stroke-width="6.6" fill="none" stroke-linecap="round" stroke-linejoin="round"/>
<path d="M197.2 252.5 L195.7 251.2 L194.2 249.8 L192.7 248.5 L191.2 247.2 L189.7 245.8 L188.2 244.5 L186.8 243.2 L185.3 241.8 L183.8 240.4 L182.4 239.1 L180.9 237.7 L179.5 236.3 L178.1 234.9 L176.6 233.5 L175.2 232.1 L173.8 230.6 L172.4 229.2 L171.0 227.8 L169.6 226.4 L168.2 225.0 L166.7 223.5 L165.3 222.1 L163.9 220.7 L162.5 219.3" stroke="#77290f" stroke-width="6.6" fill="none" stroke-linecap="round" stroke-linejoin="round"/>
<path d="M197.2 156.5 L198.7 157.8 L200.2 159.2 L201.7 160.5 L203.2 161.8 L204.7 163.2 L206.2 164.5 L207.6 165.8 L209.1 167.2 L210.6 168.6 L212.0 169.9 L213.5 171.3 L214.9 172.7 L216.3 174.1 L217.8 175.5 L219.2 176.9 L220.6 178.4 L222.0 179.8 L223.4 181.2 L224.8 182.6 L226.2 184.0 L227.7 185.5 L229.1 186.9 L230.5 188.3 L231.9 189.7" stroke="#77290f" stroke-width="6.6" fill="none" stroke-linecap="round" stroke-linejoin="round"/>
<path d="M197.2 252.5 L198.7 251.2 L200.2 249.8 L201.7 248.5 L203.2 247.2 L204.7 245.8 L206.2 244.5 L207.6 243.2 L209.1 241.8 L210.6 240.4 L212.0 239.1 L213.5 237.7 L214.9 236.3 L216.3 234.9 L217.8 233.5 L219.2 232.1 L220.6 230.6 L222.0 229.2 L223.4 227.8 L224.8 226.4 L226.2 225.0 L227.7 223.5 L229.1 222.1 L230.5 220.7 L231.9 219.3" stroke="#77290f" stroke-width="6.6" fill="none" stroke-linecap="round" stroke-linejoin="round"/>
<path d="M162.5 189.7 L160.8 190.9 L159.1 192.2 L157.5 193.4 L155.8 194.7 L154.1 195.9 L152.5 197.2 L150.9 198.5 L149.3 199.9 L147.8 201.4 L146.5 202.9 L145.1 204.5" stroke="#77290f" stroke-width="6.6" fill="none" stroke-linecap="round" stroke-linejoin="round"/>
<path d="M162.5 219.3 L160.8 218.1 L159.1 216.8 L157.5 215.6 L155.8 214.3 L154.1 213.1 L152.5 211.8 L150.9 210.5 L149.3 209.1 L147.8 207.6 L146.5 206.1 L145.1 204.5" stroke="#77290f" stroke-width="6.6" fill="none" stroke-linecap="round" stroke-linejoin="round"/>
<path d="M231.9 189.7 L233.6 190.9 L235.3 192.2 L236.9 193.4 L238.6 194.7 L240.3 195.9 L241.9 197.2 L243.5 198.5 L245.1 199.9 L246.6 201.4 L247.9 202.9 L249.3 204.5" stroke="#77290f" stroke-width="6.6" fill="none" stroke-linecap="round" stroke-linejoin="round"/>
<path d="M231.9 219.3 L233.6 218.1 L235.3 216.8 L236.9 215.6 L238.6 214.3 L240.3 213.1 L241.9 211.8 L243.5 210.5 L245.1 209.1 L246.6 207.6 L247.9 206.1 L249.3 204.5" stroke="#77290f" stroke-width="6.6" fill="none" stroke-linecap="round" stroke-linejoin="round"/>
<use href="#ar" transform="translate(161.9,197.3) rotate(271)"/>
<use href="#ar" transform="translate(161.9,211.7) rotate(-91)"/>
<use href="#ar" transform="translate(232.5,197.3) rotate(89)"/>
<use href="#ar" transform="translate(232.5,211.7) rotate(91)"/>
<use href="#ar" transform="translate(158.4,199.0) rotate(-88)"/>
<use href="#ar" transform="translate(159.0,188.5) rotate(94)"/>
<use href="#ar" transform="translate(159.7,178.0) rotate(-85)"/>
<use href="#ar" transform="translate(160.6,167.0) rotate(94)"/>
<use href="#ar" transform="translate(161.6,156.6) rotate(-82)"/>
<use href="#ar" transform="translate(163.5,146.3) rotate(103)"/>
<use href="#ar" transform="translate(166.4,136.2) rotate(-71)"/>
<use href="#ar" transform="translate(169.7,126.2) rotate(106)"/>
<use href="#ar" transform="translate(172.5,116.1) rotate(-75)"/>
<use href="#ar" transform="translate(175.4,105.5) rotate(105)"/>
<use href="#ar" transform="translate(178.2,95.3) rotate(-75)"/>
<use href="#ar" transform="translate(180.9,85.2) rotate(105)"/>
<use href="#ar" transform="translate(183.5,75.0) rotate(-76)"/>
<use href="#ar" transform="translate(186.0,64.8) rotate(103)"/>
<use href="#ar" transform="translate(188.3,54.0) rotate(-78)"/>
<use href="#ar" transform="translate(190.4,43.7) rotate(102)"/>
<use href="#ar" transform="translate(192.4,33.4) rotate(-79)"/>
<use href="#ar" transform="translate(158.4,210.0) rotate(268)"/>
<use href="#ar" transform="translate(159.0,220.5) rotate(86)"/>
<use href="#ar" transform="translate(159.7,231.0) rotate(265)"/>
<use href="#ar" transform="translate(160.6,242.0) rotate(86)"/>
<use href="#ar" transform="translate(161.6,252.4) rotate(262)"/>
<use href="#ar" transform="translate(163.5,262.7) rotate(77)"/>
<use href="#ar" transform="translate(166.4,272.8) rotate(251)"/>
<use href="#ar" transform="translate(169.7,282.8) rotate(74)"/>
<use href="#ar" transform="translate(172.5,292.9) rotate(255)"/>
<use href="#ar" transform="translate(175.4,303.5) rotate(75)"/>
<use href="#ar" transform="translate(178.2,313.7) rotate(255)"/>
<use href="#ar" transform="translate(180.9,323.8) rotate(75)"/>
<use href="#ar" transform="translate(183.5,334.0) rotate(256)"/>
<use href="#ar" transform="translate(186.0,344.2) rotate(77)"/>
<use href="#ar" transform="translate(188.3,355.0) rotate(258)"/>
<use href="#ar" transform="translate(190.4,365.3) rotate(78)"/>
<use href="#ar" transform="translate(192.4,375.6) rotate(259)"/>
<use href="#ar" transform="translate(236.0,199.0) rotate(88)"/>
<use href="#ar" transform="translate(235.4,188.5) rotate(-94)"/>
<use href="#ar" transform="translate(234.7,178.0) rotate(85)"/>
<use href="#ar" transform="translate(233.8,167.0) rotate(-94)"/>
<use href="#ar" transform="translate(232.8,156.6) rotate(82)"/>
<use href="#ar" transform="translate(230.9,146.3) rotate(-103)"/>
<use href="#ar" transform="translate(228.0,136.2) rotate(71)"/>
<use href="#ar" transform="translate(224.7,126.2) rotate(-106)"/>
<use href="#ar" transform="translate(221.9,116.1) rotate(75)"/>
<use href="#ar" transform="translate(219.0,105.5) rotate(-105)"/>
<use href="#ar" transform="translate(216.2,95.3) rotate(75)"/>
<use href="#ar" transform="translate(213.5,85.2) rotate(-105)"/>
<use href="#ar" transform="translate(210.9,75.0) rotate(76)"/>
<use href="#ar" transform="translate(208.4,64.8) rotate(-103)"/>
<use href="#ar" transform="translate(206.1,54.0) rotate(78)"/>
<use href="#ar" transform="translate(204.0,43.7) rotate(-102)"/>
<use href="#ar" transform="translate(202.0,33.4) rotate(79)"/>
<use href="#ar" transform="translate(236.0,210.0) rotate(92)"/>
<use href="#ar" transform="translate(235.4,220.5) rotate(274)"/>
<use href="#ar" transform="translate(234.7,231.0) rotate(95)"/>
<use href="#ar" transform="translate(233.8,242.0) rotate(274)"/>
<use href="#ar" transform="translate(232.8,252.4) rotate(98)"/>
<use href="#ar" transform="translate(230.9,262.7) rotate(283)"/>
<use href="#ar" transform="translate(228.0,272.8) rotate(109)"/>
<use href="#ar" transform="translate(224.7,282.8) rotate(286)"/>
<use href="#ar" transform="translate(221.9,292.9) rotate(105)"/>
<use href="#ar" transform="translate(219.0,303.5) rotate(285)"/>
<use href="#ar" transform="translate(216.2,313.7) rotate(105)"/>
<use href="#ar" transform="translate(213.5,323.8) rotate(285)"/>
<use href="#ar" transform="translate(210.9,334.0) rotate(104)"/>
<use href="#ar" transform="translate(208.4,344.2) rotate(283)"/>
<use href="#ar" transform="translate(206.1,355.0) rotate(102)"/>
<use href="#ar" transform="translate(204.0,365.3) rotate(282)"/>
<use href="#ar" transform="translate(202.0,375.6) rotate(101)"/>
<use href="#ar" transform="translate(192.2,63.4) rotate(174)"/>
<use href="#ar" transform="translate(183.3,64.6) rotate(166)"/>
<use href="#ar" transform="translate(174.9,67.9) rotate(334)"/>
<use href="#ar" transform="translate(166.7,71.6) rotate(339)"/>
<use href="#ar" transform="translate(158.2,74.6) rotate(161)"/>
<use href="#ar" transform="translate(149.2,77.7) rotate(162)"/>
<use href="#ar" transform="translate(140.6,80.5) rotate(342)"/>
<use href="#ar" transform="translate(132.0,83.2) rotate(343)"/>
<use href="#ar" transform="translate(123.4,85.8) rotate(162)"/>
<use href="#ar" transform="translate(114.8,88.6) rotate(162)"/>
<use href="#ar" transform="translate(105.7,91.5) rotate(343)"/>
<use href="#ar" transform="translate(97.0,93.7) rotate(360)"/>
<use href="#ar" transform="translate(92.0,87.5) rotate(-93)"/>
<use href="#ar" transform="translate(91.9,78.4) rotate(-90)"/>
<use href="#ar" transform="translate(91.9,69.4) rotate(90)"/>
<use href="#ar" transform="translate(192.2,345.6) rotate(6)"/>
<use href="#ar" transform="translate(183.3,344.4) rotate(14)"/>
<use href="#ar" transform="translate(174.9,341.1) rotate(-154)"/>
<use href="#ar" transform="translate(166.7,337.4) rotate(-159)"/>
<use href="#ar" transform="translate(158.2,334.4) rotate(19)"/>
<use href="#ar" transform="translate(149.2,331.3) rotate(18)"/>
<use href="#ar" transform="translate(140.6,328.5) rotate(-162)"/>
<use href="#ar" transform="translate(132.0,325.8) rotate(-163)"/>
<use href="#ar" transform="translate(123.4,323.2) rotate(18)"/>
<use href="#ar" transform="translate(114.8,320.4) rotate(18)"/>
<use href="#ar" transform="translate(105.7,317.5) rotate(-163)"/>
<use href="#ar" transform="translate(97.0,315.3) rotate(-180)"/>
<use href="#ar" transform="translate(92.0,321.5) rotate(273)"/>
<use href="#ar" transform="translate(91.9,330.6) rotate(270)"/>
<use href="#ar" transform="translate(91.9,339.6) rotate(90)"/>
<use href="#ar" transform="translate(202.2,63.4) rotate(186)"/>
<use href="#ar" transform="translate(211.1,64.6) rotate(194)"/>
<use href="#ar" transform="translate(219.5,67.9) rotate(26)"/>
<use href="#ar" transform="translate(227.7,71.6) rotate(21)"/>
<use href="#ar" transform="translate(236.2,74.6) rotate(199)"/>
<use href="#ar" transform="translate(245.2,77.7) rotate(198)"/>
<use href="#ar" transform="translate(253.8,80.5) rotate(18)"/>
<use href="#ar" transform="translate(262.4,83.2) rotate(17)"/>
<use href="#ar" transform="translate(271.0,85.8) rotate(198)"/>
<use href="#ar" transform="translate(279.6,88.6) rotate(198)"/>
<use href="#ar" transform="translate(288.7,91.5) rotate(17)"/>
<use href="#ar" transform="translate(297.4,93.7) rotate(0)"/>
<use href="#ar" transform="translate(302.4,87.5) rotate(93)"/>
<use href="#ar" transform="translate(302.5,78.4) rotate(90)"/>
<use href="#ar" transform="translate(302.5,69.4) rotate(-90)"/>
<use href="#ar" transform="translate(202.2,345.6) rotate(-6)"/>
<use href="#ar" transform="translate(211.1,344.4) rotate(-14)"/>
<use href="#ar" transform="translate(219.5,341.1) rotate(154)"/>
<use href="#ar" transform="translate(227.7,337.4) rotate(159)"/>
<use href="#ar" transform="translate(236.2,334.4) rotate(-19)"/>
<use href="#ar" transform="translate(245.2,331.3) rotate(-18)"/>
<use href="#ar" transform="translate(253.8,328.5) rotate(162)"/>
<use href="#ar" transform="translate(262.4,325.8) rotate(163)"/>
<use href="#ar" transform="translate(271.0,323.2) rotate(-18)"/>
<use href="#ar" transform="translate(279.6,320.4) rotate(-18)"/>
<use href="#ar" transform="translate(288.7,317.5) rotate(163)"/>
<use href="#ar" transform="translate(297.4,315.3) rotate(180)"/>
<use href="#ar" transform="translate(302.4,321.5) rotate(87)"/>
<use href="#ar" transform="translate(302.5,330.6) rotate(90)"/>
<use href="#ar" transform="translate(302.5,339.6) rotate(270)"/>
<use href="#ar" transform="translate(192.2,45.4) rotate(-177)"/>
<use href="#ar" transform="translate(182.1,44.4) rotate(-173)"/>
<use href="#ar" transform="translate(172.2,43.2) rotate(7)"/>
<use href="#ar" transform="translate(162.1,42.1) rotate(6)"/>
<use href="#ar" transform="translate(152.1,41.1) rotate(-175)"/>
<use href="#ar" transform="translate(192.2,363.6) rotate(357)"/>
<use href="#ar" transform="translate(182.1,364.6) rotate(353)"/>
<use href="#ar" transform="translate(172.2,365.8) rotate(173)"/>
<use href="#ar" transform="translate(162.1,366.9) rotate(174)"/>
<use href="#ar" transform="translate(152.1,367.9) rotate(355)"/>
<use href="#ar" transform="translate(202.2,45.4) rotate(177)"/>
<use href="#ar" transform="translate(212.3,44.4) rotate(173)"/>
<use href="#ar" transform="translate(222.2,43.2) rotate(-7)"/>
<use href="#ar" transform="translate(232.3,42.1) rotate(-6)"/>
<use href="#ar" transform="translate(242.3,41.1) rotate(175)"/>
<use href="#ar" transform="translate(202.2,363.6) rotate(3)"/>
<use href="#ar" transform="translate(212.3,364.6) rotate(7)"/>
<use href="#ar" transform="translate(222.2,365.8) rotate(187)"/>
<use href="#ar" transform="translate(232.3,366.9) rotate(186)"/>
<use href="#ar" transform="translate(242.3,367.9) rotate(5)"/>
<use href="#ar" transform="translate(192.2,57.8) rotate(-177)"/>
<use href="#ar" transform="translate(183.4,56.1) rotate(-165)"/>
<use href="#ar" transform="translate(174.1,54.0) rotate(12)"/>
<use href="#ar" transform="translate(165.2,52.2) rotate(11)"/>
<use href="#ar" transform="translate(156.3,50.7) rotate(-172)"/>
<use href="#ar" transform="translate(146.9,49.6) rotate(-175)"/>
<use href="#ar" transform="translate(137.9,48.9) rotate(5)"/>
<use href="#ar" transform="translate(192.2,351.2) rotate(357)"/>
<use href="#ar" transform="translate(183.4,352.9) rotate(345)"/>
<use href="#ar" transform="translate(174.1,355.0) rotate(168)"/>
<use href="#ar" transform="translate(165.2,356.8) rotate(169)"/>
<use href="#ar" transform="translate(156.3,358.3) rotate(352)"/>
<use href="#ar" transform="translate(146.9,359.4) rotate(355)"/>
<use href="#ar" transform="translate(137.9,360.1) rotate(175)"/>
<use href="#ar" transform="translate(202.2,57.8) rotate(177)"/>
<use href="#ar" transform="translate(211.0,56.1) rotate(165)"/>
<use href="#ar" transform="translate(220.3,54.0) rotate(-12)"/>
<use href="#ar" transform="translate(229.2,52.2) rotate(-11)"/>
<use href="#ar" transform="translate(238.1,50.7) rotate(172)"/>
<use href="#ar" transform="translate(247.5,49.6) rotate(175)"/>
<use href="#ar" transform="translate(256.5,48.9) rotate(-5)"/>
<use href="#ar" transform="translate(202.2,351.2) rotate(3)"/>
<use href="#ar" transform="translate(211.0,352.9) rotate(15)"/>
<use href="#ar" transform="translate(220.3,355.0) rotate(192)"/>
<use href="#ar" transform="translate(229.2,356.8) rotate(191)"/>
<use href="#ar" transform="translate(238.1,358.3) rotate(8)"/>
<use href="#ar" transform="translate(247.5,359.4) rotate(5)"/>
<use href="#ar" transform="translate(256.5,360.1) rotate(185)"/>
<use href="#ar" transform="translate(97.9,194.7) rotate(49)"/>
<use href="#ar" transform="translate(105.2,177.1) rotate(67)"/>
<use href="#ar" transform="translate(112.1,160.0) rotate(34)"/>
<use href="#ar" transform="translate(109.5,141.2) rotate(28)"/>
<use href="#ar" transform="translate(117.3,127.3) rotate(126)"/>
<use href="#ar" transform="translate(135.3,133.0) rotate(139)"/>
<use href="#ar" transform="translate(153.8,137.5) rotate(141)"/>
<use href="#ar" transform="translate(171.6,144.0) rotate(151)"/>
<use href="#ar" transform="translate(188.6,152.4) rotate(151)"/>
<use href="#ar" transform="translate(97.9,214.3) rotate(381)"/>
<use href="#ar" transform="translate(105.2,231.9) rotate(363)"/>
<use href="#ar" transform="translate(112.1,249.0) rotate(396)"/>
<use href="#ar" transform="translate(109.5,267.8) rotate(402)"/>
<use href="#ar" transform="translate(117.3,281.7) rotate(304)"/>
<use href="#ar" transform="translate(135.3,276.0) rotate(291)"/>
<use href="#ar" transform="translate(153.8,271.5) rotate(289)"/>
<use href="#ar" transform="translate(171.6,265.0) rotate(279)"/>
<use href="#ar" transform="translate(188.6,256.6) rotate(279)"/>
<use href="#ar" transform="translate(296.5,194.7) rotate(201)"/>
<use href="#ar" transform="translate(289.2,177.1) rotate(183)"/>
<use href="#ar" transform="translate(282.3,160.0) rotate(216)"/>
<use href="#ar" transform="translate(284.9,141.2) rotate(222)"/>
<use href="#ar" transform="translate(277.1,127.3) rotate(484)"/>
<use href="#ar" transform="translate(259.1,133.0) rotate(471)"/>
<use href="#ar" transform="translate(240.6,137.5) rotate(469)"/>
<use href="#ar" transform="translate(222.8,144.0) rotate(459)"/>
<use href="#ar" transform="translate(205.8,152.4) rotate(459)"/>
<use href="#ar" transform="translate(296.5,214.3) rotate(229)"/>
<use href="#ar" transform="translate(289.2,231.9) rotate(247)"/>
<use href="#ar" transform="translate(282.3,249.0) rotate(214)"/>
<use href="#ar" transform="translate(284.9,267.8) rotate(208)"/>
<use href="#ar" transform="translate(277.1,281.7) rotate(-54)"/>
<use href="#ar" transform="translate(259.1,276.0) rotate(-41)"/>
<use href="#ar" transform="translate(240.6,271.5) rotate(-39)"/>
<use href="#ar" transform="translate(222.8,265.0) rotate(-29)"/>
<use href="#ar" transform="translate(205.8,256.6) rotate(-29)"/>
<use href="#ar" transform="translate(108.8,185.2) rotate(180)"/>
<use href="#ar" transform="translate(120.8,168.6) rotate(164)"/>
<use href="#ar" transform="translate(121.4,148.7) rotate(143)"/>
<use href="#ar" transform="translate(128.8,132.3) rotate(242)"/>
<use href="#ar" transform="translate(148.0,135.9) rotate(246)"/>
<use href="#ar" transform="translate(108.8,223.8) rotate(110)"/>
<use href="#ar" transform="translate(120.8,240.4) rotate(126)"/>
<use href="#ar" transform="translate(121.4,260.3) rotate(147)"/>
<use href="#ar" transform="translate(128.8,276.7) rotate(48)"/>
<use href="#ar" transform="translate(148.0,273.1) rotate(44)"/>
<use href="#ar" transform="translate(285.6,185.2) rotate(-70)"/>
<use href="#ar" transform="translate(273.6,168.6) rotate(-54)"/>
<use href="#ar" transform="translate(273.0,148.7) rotate(-33)"/>
<use href="#ar" transform="translate(265.6,132.3) rotate(228)"/>
<use href="#ar" transform="translate(246.4,135.9) rotate(224)"/>
<use href="#ar" transform="translate(285.6,223.8) rotate(360)"/>
<use href="#ar" transform="translate(273.6,240.4) rotate(344)"/>
<use href="#ar" transform="translate(273.0,260.3) rotate(323)"/>
<use href="#ar" transform="translate(265.6,276.7) rotate(62)"/>
<use href="#ar" transform="translate(246.4,273.1) rotate(66)"/>
<use href="#ar" transform="translate(193.5,159.8) rotate(198)"/>
<use href="#ar" transform="translate(186.4,166.2) rotate(197)"/>
<use href="#ar" transform="translate(179.5,172.7) rotate(376)"/>
<use href="#ar" transform="translate(172.4,179.8) rotate(375)"/>
<use href="#ar" transform="translate(165.7,186.5) rotate(195)"/>
<use href="#ar" transform="translate(193.5,249.2) rotate(102)"/>
<use href="#ar" transform="translate(186.4,242.8) rotate(103)"/>
<use href="#ar" transform="translate(179.5,236.3) rotate(-76)"/>
<use href="#ar" transform="translate(172.4,229.2) rotate(-75)"/>
<use href="#ar" transform="translate(165.7,222.5) rotate(105)"/>
<use href="#ar" transform="translate(200.9,159.8) rotate(282)"/>
<use href="#ar" transform="translate(208.0,166.2) rotate(283)"/>
<use href="#ar" transform="translate(214.9,172.7) rotate(104)"/>
<use href="#ar" transform="translate(222.0,179.8) rotate(105)"/>
<use href="#ar" transform="translate(228.7,186.5) rotate(285)"/>
<use href="#ar" transform="translate(200.9,249.2) rotate(18)"/>
<use href="#ar" transform="translate(208.0,242.8) rotate(17)"/>
<use href="#ar" transform="translate(214.9,236.3) rotate(196)"/>
<use href="#ar" transform="translate(222.0,229.2) rotate(195)"/>
<use href="#ar" transform="translate(228.7,222.5) rotate(15)"/>
<use href="#ar" transform="translate(157.6,193.3) rotate(203)"/>
<use href="#ar" transform="translate(148.8,200.3) rotate(195)"/>
<use href="#ar" transform="translate(157.6,215.7) rotate(97)"/>
<use href="#ar" transform="translate(148.8,208.7) rotate(105)"/>
<use href="#ar" transform="translate(236.8,193.3) rotate(277)"/>
<use href="#ar" transform="translate(245.6,200.3) rotate(285)"/>
<use href="#ar" transform="translate(236.8,215.7) rotate(23)"/>
<use href="#ar" transform="translate(245.6,208.7) rotate(15)"/>
<circle cx="307.4" cy="333.0" r="3.4" fill="#802e10"/>
<circle cx="307.4" cy="76.0" r="3.4" fill="#802e10"/>
<circle cx="87.0" cy="333.0" r="3.4" fill="#802e10"/>
<circle cx="87.0" cy="76.0" r="3.4" fill="#802e10"/>
<path d="M197.2 27.5 L87.2 64.7 L87.2 344.3 L197.2 381.5 L307.2 344.3 L307.2 64.7 Z" stroke="#2b2b2b" stroke-width="2.6" fill="none" stroke-linejoin="miter"/>
<rect x="425.9" y="18.7" width="236.3" height="371.6" fill="none" stroke="#3a3a3a" stroke-width="1.4"/>
<line x1="420.4" y1="69.3" x2="425.9" y2="69.3" stroke="#333" stroke-width="1.6"/>
<text x="409.3" y="77.5" font-size="20" text-anchor="end" fill="#333333" textLength="31.8" lengthAdjust="spacingAndGlyphs" >0.4</text>
<line x1="420.4" y1="136.9" x2="425.9" y2="136.9" stroke="#333" stroke-width="1.6"/>
<text x="409.3" y="145.1" font-size="20" text-anchor="end" fill="#333333" textLength="31.8" lengthAdjust="spacingAndGlyphs" >0.2</text>
<line x1="420.4" y1="204.5" x2="425.9" y2="204.5" stroke="#333" stroke-width="1.6"/>
<text x="409.3" y="212.7" font-size="20" text-anchor="end" fill="#333333" textLength="31.8" lengthAdjust="spacingAndGlyphs" >0.0</text>
<line x1="420.4" y1="272.1" x2="425.9" y2="272.1" stroke="#333" stroke-width="1.6"/>
<text x="409.3" y="280.3" font-size="20" text-anchor="end" fill="#333333" textLength="48.6" lengthAdjust="spacingAndGlyphs" >&#8722;0.2</text>
<line x1="420.4" y1="339.7" x2="425.9" y2="339.7" stroke="#333" stroke-width="1.6"/>
<text x="409.3" y="347.9" font-size="20" text-anchor="end" fill="#333333" textLength="48.6" lengthAdjust="spacingAndGlyphs" >&#8722;0.4</text>
<line x1="459.3" y1="390.3" x2="459.3" y2="395.8" stroke="#333" stroke-width="1.6"/>
<text x="459.3" y="423.0" font-size="20" text-anchor="middle" fill="#333333" textLength="61.3" lengthAdjust="spacingAndGlyphs" >&#8722;0.25</text>
<line x1="543.7" y1="390.3" x2="543.7" y2="395.8" stroke="#333" stroke-width="1.6"/>
<text x="543.7" y="423.0" font-size="20" text-anchor="middle" fill="#333333" textLength="44.5" lengthAdjust="spacingAndGlyphs" >0.00</text>
<line x1="628.1" y1="390.3" x2="628.1" y2="395.8" stroke="#333" stroke-width="1.6"/>
<text x="628.1" y="423.0" font-size="20" text-anchor="middle" fill="#333333" textLength="44.5" lengthAdjust="spacingAndGlyphs" >0.25</text>
<text x="515.0" y="449.4" font-size="22" fill="#333333" textLength="76.6" lengthAdjust="spacingAndGlyphs"><tspan font-style="italic">k</tspan><tspan font-style="italic" font-size="15" dy="4.5">x</tspan><tspan dy="-4.5"> (&#197;</tspan><tspan font-size="15" dy="-9">&#8722;1</tspan><tspan dy="9">)</tspan></text>
<text transform="translate(364.5,257.5) rotate(-90)" x="0" y="0" font-size="22" fill="#333333" textLength="76.7" lengthAdjust="spacingAndGlyphs"><tspan font-style="italic">k</tspan><tspan font-style="italic" font-size="15" dy="4.5">y</tspan><tspan dy="-4.5"> (&#197;</tspan><tspan font-size="15" dy="-9">&#8722;1</tspan><tspan dy="9">)</tspan></text>
<path d="M509.0 189.7 L508.8 191.8 L508.6 193.9" stroke="#96ae57" stroke-width="7" fill="none" stroke-linecap="round" stroke-linejoin="round"/>
<path d="M508.6 193.9 L508.4 196.0 L508.4 198.1 L508.4 199.2" stroke="#a5b25a" stroke-width="7" fill="none" stroke-linecap="round" stroke-linejoin="round"/>
<path d="M508.4 199.2 L508.4 201.3 L508.4 203.4 L508.4 204.5" stroke="#a7b35b" stroke-width="7" fill="none" stroke-linecap="round" stroke-linejoin="round"/>
<path d="M509.0 219.3 L508.8 217.2 L508.6 215.1" stroke="#96ae57" stroke-width="7" fill="none" stroke-linecap="round" stroke-linejoin="round"/>
<path d="M508.6 215.1 L508.4 213.0 L508.4 210.9 L508.4 209.8" stroke="#a5b25a" stroke-width="7" fill="none" stroke-linecap="round" stroke-linejoin="round"/>
<path d="M508.4 209.8 L508.4 207.7 L508.4 205.6 L508.4 204.5" stroke="#a7b35b" stroke-width="7" fill="none" stroke-linecap="round" stroke-linejoin="round"/>
<path d="M578.4 189.7 L578.6 191.8 L578.8 193.9" stroke="#96ae57" stroke-width="7" fill="none" stroke-linecap="round" stroke-linejoin="round"/>
<path d="M578.8 193.9 L579.0 196.0 L579.0 198.1 L579.0 199.2" stroke="#a5b25a" stroke-width="7" fill="none" stroke-linecap="round" stroke-linejoin="round"/>
<path d="M579.0 199.2 L579.0 201.3 L579.0 203.4 L579.0 204.5" stroke="#a7b35b" stroke-width="7" fill="none" stroke-linecap="round" stroke-linejoin="round"/>
<path d="M578.4 219.3 L578.6 217.2 L578.8 215.1" stroke="#96ae57" stroke-width="7" fill="none" stroke-linecap="round" stroke-linejoin="round"/>
<path d="M578.8 215.1 L579.0 213.0 L579.0 210.9 L579.0 209.8" stroke="#a5b25a" stroke-width="7" fill="none" stroke-linecap="round" stroke-linejoin="round"/>
<path d="M579.0 209.8 L579.0 207.7 L579.0 205.6 L579.0 204.5" stroke="#a7b35b" stroke-width="7" fill="none" stroke-linecap="round" stroke-linejoin="round"/>
<path d="M504.7 204.5 L504.8 202.5 L504.9 200.5 L505.0 198.5 L505.0 196.5 L505.1 194.5 L505.2 192.5 L505.3 190.5 L505.4 189.5" stroke="#dbb9a3" stroke-width="7" fill="none" stroke-linecap="round" stroke-linejoin="round"/>
<path d="M505.4 189.5 L505.5 187.5 L505.7 185.5 L505.7 184.5" stroke="#dbb8a2" stroke-width="7" fill="none" stroke-linecap="round" stroke-linejoin="round"/>
<path d="M505.7 184.5 L505.9 182.5 L506.0 180.5 L506.1 179.5" stroke="#dab7a0" stroke-width="7" fill="none" stroke-linecap="round" stroke-linejoin="round"/>
<path d="M506.1 179.5 L506.3 177.5 L506.4 175.5 L506.5 174.5" stroke="#d9b69e" stroke-width="7" fill="none" stroke-linecap="round" stroke-linejoin="round"/>
<path d="M506.5 174.5 L506.7 172.5 L506.8 170.5 L506.9 169.5" stroke="#d8b59c" stroke-width="7" fill="none" stroke-linecap="round" stroke-linejoin="round"/>
<path d="M506.9 169.5 L507.0 167.5 L507.2 165.6 L507.3 164.6" stroke="#d8b49a" stroke-width="7" fill="none" stroke-linecap="round" stroke-linejoin="round"/>
<path d="M507.3 164.6 L507.4 162.6 L507.6 160.6 L507.7 159.6" stroke="#d7b398" stroke-width="7" fill="none" stroke-linecap="round" stroke-linejoin="round"/>
<path d="M507.7 159.6 L508.0 157.6 L508.2 155.6 L508.4 154.6" stroke="#d6b296" stroke-width="7" fill="none" stroke-linecap="round" stroke-linejoin="round"/>
<path d="M508.4 154.6 L508.7 152.6 L509.1 150.7 L509.3 149.7" stroke="#d4b091" stroke-width="7" fill="none" stroke-linecap="round" stroke-linejoin="round"/>
<path d="M509.3 149.7 L509.7 147.7 L510.1 145.8 L510.4 144.8" stroke="#d1ae8b" stroke-width="7" fill="none" stroke-linecap="round" stroke-linejoin="round"/>
<path d="M510.4 144.8 L510.8 142.9 L511.4 140.9 L511.6 140.0" stroke="#ceac85" stroke-width="7" fill="none" stroke-linecap="round" stroke-linejoin="round"/>
<path d="M511.6 140.0 L512.2 138.1 L512.9 136.2 L513.2 135.2" stroke="#cdab82" stroke-width="7" fill="none" stroke-linecap="round" stroke-linejoin="round"/>
<path d="M513.2 135.2 L513.9 133.3 L514.5 131.4 L514.9 130.5" stroke="#ccaa80" stroke-width="7" fill="none" stroke-linecap="round" stroke-linejoin="round"/>
<path d="M514.9 130.5 L515.5 128.6 L516.0 126.7 L516.3 125.7" stroke="#cba97d" stroke-width="7" fill="none" stroke-linecap="round" stroke-linejoin="round"/>
<path d="M516.3 125.7 L516.9 123.8 L517.4 121.9 L518.0 119.9 L518.5 118.0 L519.0 116.1 L519.6 114.1 L520.1 112.2 L520.6 110.3 L521.2 108.4 L521.7 106.4 L522.2 104.5 L522.7 102.6 L523.2 100.6 L523.8 98.7 L524.3 96.8" stroke="#caa97d" stroke-width="7" fill="none" stroke-linecap="round" stroke-linejoin="round"/>
<path d="M524.3 96.8 L524.8 94.8 L525.3 92.9 L525.6 91.9" stroke="#caa97c" stroke-width="7" fill="none" stroke-linecap="round" stroke-linejoin="round"/>
<path d="M525.6 91.9 L526.1 90.0 L526.6 88.1 L526.9 87.1" stroke="#caa87c" stroke-width="7" fill="none" stroke-linecap="round" stroke-linejoin="round"/>
<path d="M526.9 87.1 L527.4 85.2 L527.9 83.2 L528.2 82.3" stroke="#caa87b" stroke-width="7" fill="none" stroke-linecap="round" stroke-linejoin="round"/>
<path d="M528.2 82.3 L528.7 80.3 L529.2 78.4 L529.7 76.5 L530.2 74.5 L530.7 72.6" stroke="#c9a87a" stroke-width="7" fill="none" stroke-linecap="round" stroke-linejoin="round"/>
<path d="M530.7 72.6 L531.1 70.6 L531.6 68.7 L531.8 67.7" stroke="#c9a879" stroke-width="7" fill="none" stroke-linecap="round" stroke-linejoin="round"/>
<path d="M531.8 67.7 L532.3 65.8 L532.7 63.8 L532.9 62.8" stroke="#c8a778" stroke-width="7" fill="none" stroke-linecap="round" stroke-linejoin="round"/>
<path d="M532.9 62.8 L533.3 60.9 L533.8 58.9 L534.0 57.9" stroke="#c7a676" stroke-width="7" fill="none" stroke-linecap="round" stroke-linejoin="round"/>
<path d="M534.0 57.9 L534.4 56.0 L534.8 54.0 L535.0 53.0" stroke="#c6a674" stroke-width="7" fill="none" stroke-linecap="round" stroke-linejoin="round"/>
<path d="M535.0 53.0 L535.4 51.1 L535.8 49.1 L536.0 48.1" stroke="#c5a572" stroke-width="7" fill="none" stroke-linecap="round" stroke-linejoin="round"/>
<path d="M536.0 48.1 L536.4 46.2 L536.8 44.2 L537.0 43.2" stroke="#c4a470" stroke-width="7" fill="none" stroke-linecap="round" stroke-linejoin="round"/>
<path d="M537.0 43.2 L537.4 41.3 L537.8 39.3 L538.0 38.3" stroke="#c2a56b" stroke-width="7" fill="none" stroke-linecap="round" stroke-linejoin="round"/>
<path d="M538.0 38.3 L538.3 36.4 L538.7 34.4 L538.9 33.4" stroke="#c0a666" stroke-width="7" fill="none" stroke-linecap="round" stroke-linejoin="round"/>
<path d="M538.9 33.4 L539.3 31.4 L539.7 29.5 L539.9 28.5" stroke="#bea863" stroke-width="7" fill="none" stroke-linecap="round" stroke-linejoin="round"/>
<path d="M504.7 204.5 L504.8 206.5 L504.9 208.5 L505.0 210.5 L505.0 212.5 L505.1 214.5 L505.2 216.5 L505.3 218.5 L505.4 219.5" stroke="#dbb9a3" stroke-width="7" fill="none" stroke-linecap="round" stroke-linejoin="round"/>
<path d="M505.4 219.5 L505.5 221.5 L505.7 223.5 L505.7 224.5" stroke="#dbb8a2" stroke-width="7" fill="none" stroke-linecap="round" stroke-linejoin="round"/>
<path d="M505.7 224.5 L505.9 226.5 L506.0 228.5 L506.1 229.5" stroke="#dab7a0" stroke-width="7" fill="none" stroke-linecap="round" stroke-linejoin="round"/>
<path d="M506.1 229.5 L506.3 231.5 L506.4 233.5 L506.5 234.5" stroke="#d9b69e" stroke-width="7" fill="none" stroke-linecap="round" stroke-linejoin="round"/>
<path d="M506.5 234.5 L506.7 236.5 L506.8 238.5 L506.9 239.5" stroke="#d8b59c" stroke-width="7" fill="none" stroke-linecap="round" stroke-linejoin="round"/>
<path d="M506.9 239.5 L507.0 241.5 L507.2 243.4 L507.3 244.4" stroke="#d8b49a" stroke-width="7" fill="none" stroke-linecap="round" stroke-linejoin="round"/>
<path d="M507.3 244.4 L507.4 246.4 L507.6 248.4 L507.7 249.4" stroke="#d7b398" stroke-width="7" fill="none" stroke-linecap="round" stroke-linejoin="round"/>
<path d="M507.7 249.4 L508.0 251.4 L508.2 253.4 L508.4 254.4" stroke="#d6b296" stroke-width="7" fill="none" stroke-linecap="round" stroke-linejoin="round"/>
<path d="M508.4 254.4 L508.7 256.4 L509.1 258.3 L509.3 259.3" stroke="#d4b091" stroke-width="7" fill="none" stroke-linecap="round" stroke-linejoin="round"/>
<path d="M509.3 259.3 L509.7 261.3 L510.1 263.2 L510.4 264.2" stroke="#d1ae8b" stroke-width="7" fill="none" stroke-linecap="round" stroke-linejoin="round"/>
<path d="M510.4 264.2 L510.8 266.1 L511.4 268.1 L511.6 269.0" stroke="#ceac85" stroke-width="7" fill="none" stroke-linecap="round" stroke-linejoin="round"/>
<path d="M511.6 269.0 L512.2 270.9 L512.9 272.8 L513.2 273.8" stroke="#cdab82" stroke-width="7" fill="none" stroke-linecap="round" stroke-linejoin="round"/>
<path d="M513.2 273.8 L513.9 275.7 L514.5 277.6 L514.9 278.5" stroke="#ccaa80" stroke-width="7" fill="none" stroke-linecap="round" stroke-linejoin="round"/>
<path d="M514.9 278.5 L515.5 280.4 L516.0 282.3 L516.3 283.3" stroke="#cba97d" stroke-width="7" fill="none" stroke-linecap="round" stroke-linejoin="round"/>
<path d="M516.3 283.3 L516.9 285.2 L517.4 287.1 L518.0 289.1 L518.5 291.0 L519.0 292.9 L519.6 294.9 L520.1 296.8 L520.6 298.7 L521.2 300.6 L521.7 302.6 L522.2 304.5 L522.7 306.4 L523.2 308.4 L523.8 310.3 L524.3 312.2" stroke="#caa97d" stroke-width="7" fill="none" stroke-linecap="round" stroke-linejoin="round"/>
<path d="M524.3 312.2 L524.8 314.2 L525.3 316.1 L525.6 317.1" stroke="#caa97c" stroke-width="7" fill="none" stroke-linecap="round" stroke-linejoin="round"/>
<path d="M525.6 317.1 L526.1 319.0 L526.6 320.9 L526.9 321.9" stroke="#caa87c" stroke-width="7" fill="none" stroke-linecap="round" stroke-linejoin="round"/>
<path d="M526.9 321.9 L527.4 323.8 L527.9 325.8 L528.2 326.7" stroke="#caa87b" stroke-width="7" fill="none" stroke-linecap="round" stroke-linejoin="round"/>
<path d="M528.2 326.7 L528.7 328.7 L529.2 330.6 L529.7 332.5 L530.2 334.5 L530.7 336.4" stroke="#c9a87a" stroke-width="7" fill="none" stroke-linecap="round" stroke-linejoin="round"/>
<path d="M530.7 336.4 L531.1 338.4 L531.6 340.3 L531.8 341.3" stroke="#c9a879" stroke-width="7" fill="none" stroke-linecap="round" stroke-linejoin="round"/>
<path d="M531.8 341.3 L532.3 343.2 L532.7 345.2 L532.9 346.2" stroke="#c8a778" stroke-width="7" fill="none" stroke-linecap="round" stroke-linejoin="round"/>
<path d="M532.9 346.2 L533.3 348.1 L533.8 350.1 L534.0 351.1" stroke="#c7a676" stroke-width="7" fill="none" stroke-linecap="round" stroke-linejoin="round"/>
<path d="M534.0 351.1 L534.4 353.0 L534.8 355.0 L535.0 356.0" stroke="#c6a674" stroke-width="7" fill="none" stroke-linecap="round" stroke-linejoin="round"/>
<path d="M535.0 356.0 L535.4 357.9 L535.8 359.9 L536.0 360.9" stroke="#c5a572" stroke-width="7" fill="none" stroke-linecap="round" stroke-linejoin="round"/>
<path d="M536.0 360.9 L536.4 362.8 L536.8 364.8 L537.0 365.8" stroke="#c4a470" stroke-width="7" fill="none" stroke-linecap="round" stroke-linejoin="round"/>
<path d="M537.0 365.8 L537.4 367.7 L537.8 369.7 L538.0 370.7" stroke="#c2a56b" stroke-width="7" fill="none" stroke-linecap="round" stroke-linejoin="round"/>
<path d="M538.0 370.7 L538.3 372.6 L538.7 374.6 L538.9 375.6" stroke="#c0a666" stroke-width="7" fill="none" stroke-linecap="round" stroke-linejoin="round"/>
<path d="M538.9 375.6 L539.3 377.6 L539.7 379.5 L539.9 380.5" stroke="#bea863" stroke-width="7" fill="none" stroke-linecap="round" stroke-linejoin="round"/>
<path d="M582.7 204.5 L582.6 202.5 L582.5 200.5 L582.4 198.5 L582.4 196.5 L582.3 194.5 L582.2 192.5 L582.1 190.5 L582.0 189.5" stroke="#dbb9a3" stroke-width="7" fill="none" stroke-linecap="round" stroke-linejoin="round"/>
<path d="M582.0 189.5 L581.9 187.5 L581.7 185.5 L581.7 184.5" stroke="#dbb8a2" stroke-width="7" fill="none" stroke-linecap="round" stroke-linejoin="round"/>
<path d="M581.7 184.5 L581.5 182.5 L581.4 180.5 L581.3 179.5" stroke="#dab7a0" stroke-width="7" fill="none" stroke-linecap="round" stroke-linejoin="round"/>
<path d="M581.3 179.5 L581.1 177.5 L581.0 175.5 L580.9 174.5" stroke="#d9b69e" stroke-width="7" fill="none" stroke-linecap="round" stroke-linejoin="round"/>
<path d="M580.9 174.5 L580.7 172.5 L580.6 170.5 L580.5 169.5" stroke="#d8b59c" stroke-width="7" fill="none" stroke-linecap="round" stroke-linejoin="round"/>
<path d="M580.5 169.5 L580.4 167.5 L580.2 165.6 L580.1 164.6" stroke="#d8b49a" stroke-width="7" fill="none" stroke-linecap="round" stroke-linejoin="round"/>
<path d="M580.1 164.6 L580.0 162.6 L579.8 160.6 L579.7 159.6" stroke="#d7b398" stroke-width="7" fill="none" stroke-linecap="round" stroke-linejoin="round"/>
<path d="M579.7 159.6 L579.4 157.6 L579.2 155.6 L579.0 154.6" stroke="#d6b296" stroke-width="7" fill="none" stroke-linecap="round" stroke-linejoin="round"/>
<path d="M579.0 154.6 L578.7 152.6 L578.3 150.7 L578.1 149.7" stroke="#d4b091" stroke-width="7" fill="none" stroke-linecap="round" stroke-linejoin="round"/>
<path d="M578.1 149.7 L577.7 147.7 L577.3 145.8 L577.0 144.8" stroke="#d1ae8b" stroke-width="7" fill="none" stroke-linecap="round" stroke-linejoin="round"/>
<path d="M577.0 144.8 L576.6 142.9 L576.0 140.9 L575.8 140.0" stroke="#ceac85" stroke-width="7" fill="none" stroke-linecap="round" stroke-linejoin="round"/>
<path d="M575.8 140.0 L575.2 138.1 L574.5 136.2 L574.2 135.2" stroke="#cdab82" stroke-width="7" fill="none" stroke-linecap="round" stroke-linejoin="round"/>
<path d="M574.2 135.2 L573.5 133.3 L572.9 131.4 L572.5 130.5" stroke="#ccaa80" stroke-width="7" fill="none" stroke-linecap="round" stroke-linejoin="round"/>
<path d="M572.5 130.5 L571.9 128.6 L571.4 126.7 L571.1 125.7" stroke="#cba97d" stroke-width="7" fill="none" stroke-linecap="round" stroke-linejoin="round"/>
<path d="M571.1 125.7 L570.5 123.8 L570.0 121.9 L569.4 119.9 L568.9 118.0 L568.4 116.1 L567.8 114.1 L567.3 112.2 L566.8 110.3 L566.2 108.4 L565.7 106.4 L565.2 104.5 L564.7 102.6 L564.2 100.6 L563.6 98.7 L563.1 96.8" stroke="#caa97d" stroke-width="7" fill="none" stroke-linecap="round" stroke-linejoin="round"/>
<path d="M563.1 96.8 L562.6 94.8 L562.1 92.9 L561.8 91.9" stroke="#caa97c" stroke-width="7" fill="none" stroke-linecap="round" stroke-linejoin="round"/>
<path d="M561.8 91.9 L561.3 90.0 L560.8 88.1 L560.5 87.1" stroke="#caa87c" stroke-width="7" fill="none" stroke-linecap="round" stroke-linejoin="round"/>
<path d="M560.5 87.1 L560.0 85.2 L559.5 83.2 L559.2 82.3" stroke="#caa87b" stroke-width="7" fill="none" stroke-linecap="round" stroke-linejoin="round"/>
<path d="M559.2 82.3 L558.7 80.3 L558.2 78.4 L557.7 76.5 L557.2 74.5 L556.7 72.6" stroke="#c9a87a" stroke-width="7" fill="none" stroke-linecap="round" stroke-linejoin="round"/>
<path d="M556.7 72.6 L556.3 70.6 L555.8 68.7 L555.6 67.7" stroke="#c9a879" stroke-width="7" fill="none" stroke-linecap="round" stroke-linejoin="round"/>
<path d="M555.6 67.7 L555.1 65.8 L554.7 63.8 L554.5 62.8" stroke="#c8a778" stroke-width="7" fill="none" stroke-linecap="round" stroke-linejoin="round"/>
<path d="M554.5 62.8 L554.1 60.9 L553.6 58.9 L553.4 57.9" stroke="#c7a676" stroke-width="7" fill="none" stroke-linecap="round" stroke-linejoin="round"/>
<path d="M553.4 57.9 L553.0 56.0 L552.6 54.0 L552.4 53.0" stroke="#c6a674" stroke-width="7" fill="none" stroke-linecap="round" stroke-linejoin="round"/>
<path d="M552.4 53.0 L552.0 51.1 L551.6 49.1 L551.4 48.1" stroke="#c5a572" stroke-width="7" fill="none" stroke-linecap="round" stroke-linejoin="round"/>
<path d="M551.4 48.1 L551.0 46.2 L550.6 44.2 L550.4 43.2" stroke="#c4a470" stroke-width="7" fill="none" stroke-linecap="round" stroke-linejoin="round"/>
<path d="M550.4 43.2 L550.0 41.3 L549.6 39.3 L549.4 38.3" stroke="#c2a56b" stroke-width="7" fill="none" stroke-linecap="round" stroke-linejoin="round"/>
<path d="M549.4 38.3 L549.1 36.4 L548.7 34.4 L548.5 33.4" stroke="#c0a666" stroke-width="7" fill="none" stroke-linecap="round" stroke-linejoin="round"/>
<path d="M548.5 33.4 L548.1 31.4 L547.7 29.5 L547.5 28.5" stroke="#bea863" stroke-width="7" fill="none" stroke-linecap="round" stroke-linejoin="round"/>
<path d="M582.7 204.5 L582.6 206.5 L582.5 208.5 L582.4 210.5 L582.4 212.5 L582.3 214.5 L582.2 216.5 L582.1 218.5 L582.0 219.5" stroke="#dbb9a3" stroke-width="7" fill="none" stroke-linecap="round" stroke-linejoin="round"/>
<path d="M582.0 219.5 L581.9 221.5 L581.7 223.5 L581.7 224.5" stroke="#dbb8a2" stroke-width="7" fill="none" stroke-linecap="round" stroke-linejoin="round"/>
<path d="M581.7 224.5 L581.5 226.5 L581.4 228.5 L581.3 229.5" stroke="#dab7a0" stroke-width="7" fill="none" stroke-linecap="round" stroke-linejoin="round"/>
<path d="M581.3 229.5 L581.1 231.5 L581.0 233.5 L580.9 234.5" stroke="#d9b69e" stroke-width="7" fill="none" stroke-linecap="round" stroke-linejoin="round"/>
<path d="M580.9 234.5 L580.7 236.5 L580.6 238.5 L580.5 239.5" stroke="#d8b59c" stroke-width="7" fill="none" stroke-linecap="round" stroke-linejoin="round"/>
<path d="M580.5 239.5 L580.4 241.5 L580.2 243.4 L580.1 244.4" stroke="#d8b49a" stroke-width="7" fill="none" stroke-linecap="round" stroke-linejoin="round"/>
<path d="M580.1 244.4 L580.0 246.4 L579.8 248.4 L579.7 249.4" stroke="#d7b398" stroke-width="7" fill="none" stroke-linecap="round" stroke-linejoin="round"/>
<path d="M579.7 249.4 L579.4 251.4 L579.2 253.4 L579.0 254.4" stroke="#d6b296" stroke-width="7" fill="none" stroke-linecap="round" stroke-linejoin="round"/>
<path d="M579.0 254.4 L578.7 256.4 L578.3 258.3 L578.1 259.3" stroke="#d4b091" stroke-width="7" fill="none" stroke-linecap="round" stroke-linejoin="round"/>
<path d="M578.1 259.3 L577.7 261.3 L577.3 263.2 L577.0 264.2" stroke="#d1ae8b" stroke-width="7" fill="none" stroke-linecap="round" stroke-linejoin="round"/>
<path d="M577.0 264.2 L576.6 266.1 L576.0 268.1 L575.8 269.0" stroke="#ceac85" stroke-width="7" fill="none" stroke-linecap="round" stroke-linejoin="round"/>
<path d="M575.8 269.0 L575.2 270.9 L574.5 272.8 L574.2 273.8" stroke="#cdab82" stroke-width="7" fill="none" stroke-linecap="round" stroke-linejoin="round"/>
<path d="M574.2 273.8 L573.5 275.7 L572.9 277.6 L572.5 278.5" stroke="#ccaa80" stroke-width="7" fill="none" stroke-linecap="round" stroke-linejoin="round"/>
<path d="M572.5 278.5 L571.9 280.4 L571.4 282.3 L571.1 283.3" stroke="#cba97d" stroke-width="7" fill="none" stroke-linecap="round" stroke-linejoin="round"/>
<path d="M571.1 283.3 L570.5 285.2 L570.0 287.1 L569.4 289.1 L568.9 291.0 L568.4 292.9 L567.8 294.9 L567.3 296.8 L566.8 298.7 L566.2 300.6 L565.7 302.6 L565.2 304.5 L564.7 306.4 L564.2 308.4 L563.6 310.3 L563.1 312.2" stroke="#caa97d" stroke-width="7" fill="none" stroke-linecap="round" stroke-linejoin="round"/>
<path d="M563.1 312.2 L562.6 314.2 L562.1 316.1 L561.8 317.1" stroke="#caa97c" stroke-width="7" fill="none" stroke-linecap="round" stroke-linejoin="round"/>
<path d="M561.8 317.1 L561.3 319.0 L560.8 320.9 L560.5 321.9" stroke="#caa87c" stroke-width="7" fill="none" stroke-linecap="round" stroke-linejoin="round"/>
<path d="M560.5 321.9 L560.0 323.8 L559.5 325.8 L559.2 326.7" stroke="#caa87b" stroke-width="7" fill="none" stroke-linecap="round" stroke-linejoin="round"/>
<path d="M559.2 326.7 L558.7 328.7 L558.2 330.6 L557.7 332.5 L557.2 334.5 L556.7 336.4" stroke="#c9a87a" stroke-width="7" fill="none" stroke-linecap="round" stroke-linejoin="round"/>
<path d="M556.7 336.4 L556.3 338.4 L555.8 340.3 L555.6 341.3" stroke="#c9a879" stroke-width="7" fill="none" stroke-linecap="round" stroke-linejoin="round"/>
<path d="M555.6 341.3 L555.1 343.2 L554.7 345.2 L554.5 346.2" stroke="#c8a778" stroke-width="7" fill="none" stroke-linecap="round" stroke-linejoin="round"/>
<path d="M554.5 346.2 L554.1 348.1 L553.6 350.1 L553.4 351.1" stroke="#c7a676" stroke-width="7" fill="none" stroke-linecap="round" stroke-linejoin="round"/>
<path d="M553.4 351.1 L553.0 353.0 L552.6 355.0 L552.4 356.0" stroke="#c6a674" stroke-width="7" fill="none" stroke-linecap="round" stroke-linejoin="round"/>
<path d="M552.4 356.0 L552.0 357.9 L551.6 359.9 L551.4 360.9" stroke="#c5a572" stroke-width="7" fill="none" stroke-linecap="round" stroke-linejoin="round"/>
<path d="M551.4 360.9 L551.0 362.8 L550.6 364.8 L550.4 365.8" stroke="#c4a470" stroke-width="7" fill="none" stroke-linecap="round" stroke-linejoin="round"/>
<path d="M550.4 365.8 L550.0 367.7 L549.6 369.7 L549.4 370.7" stroke="#c2a56b" stroke-width="7" fill="none" stroke-linecap="round" stroke-linejoin="round"/>
<path d="M549.4 370.7 L549.1 372.6 L548.7 374.6 L548.5 375.6" stroke="#c0a666" stroke-width="7" fill="none" stroke-linecap="round" stroke-linejoin="round"/>
<path d="M548.5 375.6 L548.1 377.6 L547.7 379.5 L547.5 380.5" stroke="#bea863" stroke-width="7" fill="none" stroke-linecap="round" stroke-linejoin="round"/>
<path d="M543.7 62.8 L541.7 63.1 L539.7 63.3 L538.7 63.4" stroke="#f2dfdc" stroke-width="7" fill="none" stroke-linecap="round" stroke-linejoin="round"/>
<path d="M538.7 63.4 L536.7 63.6 L534.7 63.8 L533.7 63.9" stroke="#f0dbd8" stroke-width="7" fill="none" stroke-linecap="round" stroke-linejoin="round"/>
<path d="M533.7 63.9 L531.7 64.2 L529.7 64.6 L528.8 64.9" stroke="#eed7d2" stroke-width="7" fill="none" stroke-linecap="round" stroke-linejoin="round"/>
<path d="M528.8 64.9 L526.8 65.5 L525.0 66.2 L524.0 66.6" stroke="#ecd3cd" stroke-width="7" fill="none" stroke-linecap="round" stroke-linejoin="round"/>
<path d="M524.0 66.6 L522.2 67.5 L520.4 68.3 L519.5 68.8" stroke="#eacfc8" stroke-width="7" fill="none" stroke-linecap="round" stroke-linejoin="round"/>
<path d="M519.5 68.8 L517.7 69.6 L515.9 70.5 L514.9 70.9" stroke="#e8ccc3" stroke-width="7" fill="none" stroke-linecap="round" stroke-linejoin="round"/>
<path d="M514.9 70.9 L513.1 71.6 L511.2 72.3 L510.2 72.7" stroke="#e7c9be" stroke-width="7" fill="none" stroke-linecap="round" stroke-linejoin="round"/>
<path d="M510.2 72.7 L508.3 73.4 L506.4 74.0 L505.5 74.4" stroke="#e5c5ba" stroke-width="7" fill="none" stroke-linecap="round" stroke-linejoin="round"/>
<path d="M505.5 74.4 L503.6 75.0 L501.7 75.7 L500.7 76.0" stroke="#e3c2b5" stroke-width="7" fill="none" stroke-linecap="round" stroke-linejoin="round"/>
<path d="M500.7 76.0 L498.8 76.7 L496.9 77.3 L496.0 77.6" stroke="#e1bfb0" stroke-width="7" fill="none" stroke-linecap="round" stroke-linejoin="round"/>
<path d="M496.0 77.6 L494.1 78.3 L492.2 78.9 L491.2 79.2" stroke="#dfbdac" stroke-width="7" fill="none" stroke-linecap="round" stroke-linejoin="round"/>
<path d="M491.2 79.2 L489.3 79.8 L487.4 80.4 L486.4 80.7" stroke="#dcbaa6" stroke-width="7" fill="none" stroke-linecap="round" stroke-linejoin="round"/>
<path d="M486.4 80.7 L484.5 81.3 L482.6 81.9 L481.6 82.2" stroke="#d8b59b" stroke-width="7" fill="none" stroke-linecap="round" stroke-linejoin="round"/>
<path d="M481.6 82.2 L479.7 82.8 L477.8 83.4 L476.8 83.7" stroke="#d4b090" stroke-width="7" fill="none" stroke-linecap="round" stroke-linejoin="round"/>
<path d="M476.8 83.7 L474.9 84.3 L472.9 84.9 L472.0 85.2" stroke="#cfac87" stroke-width="7" fill="none" stroke-linecap="round" stroke-linejoin="round"/>
<path d="M472.0 85.2 L470.1 85.8 L468.1 86.4 L467.2 86.7" stroke="#caa97d" stroke-width="7" fill="none" stroke-linecap="round" stroke-linejoin="round"/>
<path d="M467.2 86.7 L465.3 87.3 L463.4 87.9 L462.4 88.3" stroke="#c2a56a" stroke-width="7" fill="none" stroke-linecap="round" stroke-linejoin="round"/>
<path d="M462.4 88.3 L460.5 88.9 L458.6 89.5 L457.6 89.8" stroke="#bea963" stroke-width="7" fill="none" stroke-linecap="round" stroke-linejoin="round"/>
<path d="M457.6 89.8 L455.7 90.4 L453.8 91.0 L452.8 91.3" stroke="#bab060" stroke-width="7" fill="none" stroke-linecap="round" stroke-linejoin="round"/>
<path d="M452.8 91.3 L450.9 91.9 L449.0 92.5 L448.0 92.8" stroke="#b4b55d" stroke-width="7" fill="none" stroke-linecap="round" stroke-linejoin="round"/>
<path d="M448.0 92.8 L446.1 93.3 L444.1 93.7 L443.1 93.7" stroke="#8aab55" stroke-width="7" fill="none" stroke-linecap="round" stroke-linejoin="round"/>
<path d="M443.1 93.7 L441.1 93.3 L439.7 91.9 L439.3 91.0" stroke="#579e49" stroke-width="7" fill="none" stroke-linecap="round" stroke-linejoin="round"/>
<path d="M439.3 91.0 L438.7 89.0 L438.5 87.0 L438.5 86.0" stroke="#3e915c" stroke-width="7" fill="none" stroke-linecap="round" stroke-linejoin="round"/>
<path d="M438.5 86.0 L438.4 84.0 L438.4 82.0 L438.4 81.0" stroke="#358673" stroke-width="7" fill="none" stroke-linecap="round" stroke-linejoin="round"/>
<path d="M438.4 81.0 L438.4 79.0 L438.3 77.0 L438.4 76.0" stroke="#348574" stroke-width="7" fill="none" stroke-linecap="round" stroke-linejoin="round"/>
<path d="M438.4 76.0 L438.4 74.0 L438.4 71.9 L438.4 70.9" stroke="#388a6b" stroke-width="7" fill="none" stroke-linecap="round" stroke-linejoin="round"/>
<path d="M438.4 70.9 L438.4 68.9 L438.4 66.9 L438.4 64.9" stroke="#3c8f60" stroke-width="7" fill="none" stroke-linecap="round" stroke-linejoin="round"/>
<path d="M543.7 346.2 L541.7 345.9 L539.7 345.7 L538.7 345.6" stroke="#f2dfdc" stroke-width="7" fill="none" stroke-linecap="round" stroke-linejoin="round"/>
<path d="M538.7 345.6 L536.7 345.4 L534.7 345.2 L533.7 345.1" stroke="#f0dbd8" stroke-width="7" fill="none" stroke-linecap="round" stroke-linejoin="round"/>
<path d="M533.7 345.1 L531.7 344.8 L529.7 344.4 L528.8 344.1" stroke="#eed7d2" stroke-width="7" fill="none" stroke-linecap="round" stroke-linejoin="round"/>
<path d="M528.8 344.1 L526.8 343.5 L525.0 342.8 L524.0 342.4" stroke="#ecd3cd" stroke-width="7" fill="none" stroke-linecap="round" stroke-linejoin="round"/>
<path d="M524.0 342.4 L522.2 341.5 L520.4 340.7 L519.5 340.2" stroke="#eacfc8" stroke-width="7" fill="none" stroke-linecap="round" stroke-linejoin="round"/>
<path d="M519.5 340.2 L517.7 339.4 L515.9 338.5 L514.9 338.1" stroke="#e8ccc3" stroke-width="7" fill="none" stroke-linecap="round" stroke-linejoin="round"/>
<path d="M514.9 338.1 L513.1 337.4 L511.2 336.7 L510.2 336.3" stroke="#e7c9be" stroke-width="7" fill="none" stroke-linecap="round" stroke-linejoin="round"/>
<path d="M510.2 336.3 L508.3 335.6 L506.4 335.0 L505.5 334.6" stroke="#e5c5ba" stroke-width="7" fill="none" stroke-linecap="round" stroke-linejoin="round"/>
<path d="M505.5 334.6 L503.6 334.0 L501.7 333.3 L500.7 333.0" stroke="#e3c2b5" stroke-width="7" fill="none" stroke-linecap="round" stroke-linejoin="round"/>
<path d="M500.7 333.0 L498.8 332.3 L496.9 331.7 L496.0 331.4" stroke="#e1bfb0" stroke-width="7" fill="none" stroke-linecap="round" stroke-linejoin="round"/>
<path d="M496.0 331.4 L494.1 330.7 L492.2 330.1 L491.2 329.8" stroke="#dfbdac" stroke-width="7" fill="none" stroke-linecap="round" stroke-linejoin="round"/>
<path d="M491.2 329.8 L489.3 329.2 L487.4 328.6 L486.4 328.3" stroke="#dcbaa6" stroke-width="7" fill="none" stroke-linecap="round" stroke-linejoin="round"/>
<path d="M486.4 328.3 L484.5 327.7 L482.6 327.1 L481.6 326.8" stroke="#d8b59b" stroke-width="7" fill="none" stroke-linecap="round" stroke-linejoin="round"/>
<path d="M481.6 326.8 L479.7 326.2 L477.8 325.6 L476.8 325.3" stroke="#d4b090" stroke-width="7" fill="none" stroke-linecap="round" stroke-linejoin="round"/>
<path d="M476.8 325.3 L474.9 324.7 L472.9 324.1 L472.0 323.8" stroke="#cfac87" stroke-width="7" fill="none" stroke-linecap="round" stroke-linejoin="round"/>
<path d="M472.0 323.8 L470.1 323.2 L468.1 322.6 L467.2 322.3" stroke="#caa97d" stroke-width="7" fill="none" stroke-linecap="round" stroke-linejoin="round"/>
<path d="M467.2 322.3 L465.3 321.7 L463.4 321.1 L462.4 320.7" stroke="#c2a56a" stroke-width="7" fill="none" stroke-linecap="round" stroke-linejoin="round"/>
<path d="M462.4 320.7 L460.5 320.1 L458.6 319.5 L457.6 319.2" stroke="#bea963" stroke-width="7" fill="none" stroke-linecap="round" stroke-linejoin="round"/>
<path d="M457.6 319.2 L455.7 318.6 L453.8 318.0 L452.8 317.7" stroke="#bab060" stroke-width="7" fill="none" stroke-linecap="round" stroke-linejoin="round"/>
<path d="M452.8 317.7 L450.9 317.1 L449.0 316.5 L448.0 316.2" stroke="#b4b55d" stroke-width="7" fill="none" stroke-linecap="round" stroke-linejoin="round"/>
<path d="M448.0 316.2 L446.1 315.7 L444.1 315.3 L443.1 315.3" stroke="#8aab55" stroke-width="7" fill="none" stroke-linecap="round" stroke-linejoin="round"/>
<path d="M443.1 315.3 L441.1 315.7 L439.7 317.1 L439.3 318.0" stroke="#579e49" stroke-width="7" fill="none" stroke-linecap="round" stroke-linejoin="round"/>
<path d="M439.3 318.0 L438.7 320.0 L438.5 322.0 L438.5 323.0" stroke="#3e915c" stroke-width="7" fill="none" stroke-linecap="round" stroke-linejoin="round"/>
<path d="M438.5 323.0 L438.4 325.0 L438.4 327.0 L438.4 328.0" stroke="#358673" stroke-width="7" fill="none" stroke-linecap="round" stroke-linejoin="round"/>
<path d="M438.4 328.0 L438.4 330.0 L438.3 332.0 L438.4 333.0" stroke="#348574" stroke-width="7" fill="none" stroke-linecap="round" stroke-linejoin="round"/>
<path d="M438.4 333.0 L438.4 335.0 L438.4 337.1 L438.4 338.1" stroke="#388a6b" stroke-width="7" fill="none" stroke-linecap="round" stroke-linejoin="round"/>
<path d="M438.4 338.1 L438.4 340.1 L438.4 342.1 L438.4 344.1" stroke="#3c8f60" stroke-width="7" fill="none" stroke-linecap="round" stroke-linejoin="round"/>
<path d="M543.7 62.8 L545.7 63.1 L547.7 63.3 L548.7 63.4" stroke="#f2dfdc" stroke-width="7" fill="none" stroke-linecap="round" stroke-linejoin="round"/>
<path d="M548.7 63.4 L550.7 63.6 L552.7 63.8 L553.7 63.9" stroke="#f0dbd8" stroke-width="7" fill="none" stroke-linecap="round" stroke-linejoin="round"/>
<path d="M553.7 63.9 L555.7 64.2 L557.7 64.6 L558.6 64.9" stroke="#eed7d2" stroke-width="7" fill="none" stroke-linecap="round" stroke-linejoin="round"/>
<path d="M558.6 64.9 L560.6 65.5 L562.4 66.2 L563.4 66.6" stroke="#ecd3cd" stroke-width="7" fill="none" stroke-linecap="round" stroke-linejoin="round"/>
<path d="M563.4 66.6 L565.2 67.5 L567.0 68.3 L567.9 68.8" stroke="#eacfc8" stroke-width="7" fill="none" stroke-linecap="round" stroke-linejoin="round"/>
<path d="M567.9 68.8 L569.7 69.6 L571.5 70.5 L572.5 70.9" stroke="#e8ccc3" stroke-width="7" fill="none" stroke-linecap="round" stroke-linejoin="round"/>
<path d="M572.5 70.9 L574.3 71.6 L576.2 72.3 L577.2 72.7" stroke="#e7c9be" stroke-width="7" fill="none" stroke-linecap="round" stroke-linejoin="round"/>
<path d="M577.2 72.7 L579.1 73.4 L581.0 74.0 L581.9 74.4" stroke="#e5c5ba" stroke-width="7" fill="none" stroke-linecap="round" stroke-linejoin="round"/>
<path d="M581.9 74.4 L583.8 75.0 L585.7 75.7 L586.7 76.0" stroke="#e3c2b5" stroke-width="7" fill="none" stroke-linecap="round" stroke-linejoin="round"/>
<path d="M586.7 76.0 L588.6 76.7 L590.5 77.3 L591.4 77.6" stroke="#e1bfb0" stroke-width="7" fill="none" stroke-linecap="round" stroke-linejoin="round"/>
<path d="M591.4 77.6 L593.3 78.3 L595.2 78.9 L596.2 79.2" stroke="#dfbdac" stroke-width="7" fill="none" stroke-linecap="round" stroke-linejoin="round"/>
<path d="M596.2 79.2 L598.1 79.8 L600.0 80.4 L601.0 80.7" stroke="#dcbaa6" stroke-width="7" fill="none" stroke-linecap="round" stroke-linejoin="round"/>
<path d="M601.0 80.7 L602.9 81.3 L604.8 81.9 L605.8 82.2" stroke="#d8b59b" stroke-width="7" fill="none" stroke-linecap="round" stroke-linejoin="round"/>
<path d="M605.8 82.2 L607.7 82.8 L609.6 83.4 L610.6 83.7" stroke="#d4b090" stroke-width="7" fill="none" stroke-linecap="round" stroke-linejoin="round"/>
<path d="M610.6 83.7 L612.5 84.3 L614.5 84.9 L615.4 85.2" stroke="#cfac87" stroke-width="7" fill="none" stroke-linecap="round" stroke-linejoin="round"/>
<path d="M615.4 85.2 L617.3 85.8 L619.3 86.4 L620.2 86.7" stroke="#caa97d" stroke-width="7" fill="none" stroke-linecap="round" stroke-linejoin="round"/>
<path d="M620.2 86.7 L622.1 87.3 L624.0 87.9 L625.0 88.3" stroke="#c2a56a" stroke-width="7" fill="none" stroke-linecap="round" stroke-linejoin="round"/>
<path d="M625.0 88.3 L626.9 88.9 L628.8 89.5 L629.8 89.8" stroke="#bea963" stroke-width="7" fill="none" stroke-linecap="round" stroke-linejoin="round"/>
<path d="M629.8 89.8 L631.7 90.4 L633.6 91.0 L634.6 91.3" stroke="#bab060" stroke-width="7" fill="none" stroke-linecap="round" stroke-linejoin="round"/>
<path d="M634.6 91.3 L636.5 91.9 L638.4 92.5 L639.4 92.8" stroke="#b4b55d" stroke-width="7" fill="none" stroke-linecap="round" stroke-linejoin="round"/>
<path d="M639.4 92.8 L641.3 93.3 L643.3 93.7 L644.3 93.7" stroke="#8aab55" stroke-width="7" fill="none" stroke-linecap="round" stroke-linejoin="round"/>
<path d="M644.3 93.7 L646.3 93.3 L647.7 91.9 L648.1 91.0" stroke="#579e49" stroke-width="7" fill="none" stroke-linecap="round" stroke-linejoin="round"/>
<path d="M648.1 91.0 L648.7 89.0 L648.9 87.0 L648.9 86.0" stroke="#3e915c" stroke-width="7" fill="none" stroke-linecap="round" stroke-linejoin="round"/>
<path d="M648.9 86.0 L649.0 84.0 L649.0 82.0 L649.0 81.0" stroke="#358673" stroke-width="7" fill="none" stroke-linecap="round" stroke-linejoin="round"/>
<path d="M649.0 81.0 L649.0 79.0 L649.1 77.0 L649.0 76.0" stroke="#348574" stroke-width="7" fill="none" stroke-linecap="round" stroke-linejoin="round"/>
<path d="M649.0 76.0 L649.0 74.0 L649.0 71.9 L649.0 70.9" stroke="#388a6b" stroke-width="7" fill="none" stroke-linecap="round" stroke-linejoin="round"/>
<path d="M649.0 70.9 L649.0 68.9 L649.0 66.9 L649.0 64.9" stroke="#3c8f60" stroke-width="7" fill="none" stroke-linecap="round" stroke-linejoin="round"/>
<path d="M543.7 346.2 L545.7 345.9 L547.7 345.7 L548.7 345.6" stroke="#f2dfdc" stroke-width="7" fill="none" stroke-linecap="round" stroke-linejoin="round"/>
<path d="M548.7 345.6 L550.7 345.4 L552.7 345.2 L553.7 345.1" stroke="#f0dbd8" stroke-width="7" fill="none" stroke-linecap="round" stroke-linejoin="round"/>
<path d="M553.7 345.1 L555.7 344.8 L557.7 344.4 L558.6 344.1" stroke="#eed7d2" stroke-width="7" fill="none" stroke-linecap="round" stroke-linejoin="round"/>
<path d="M558.6 344.1 L560.6 343.5 L562.4 342.8 L563.4 342.4" stroke="#ecd3cd" stroke-width="7" fill="none" stroke-linecap="round" stroke-linejoin="round"/>
<path d="M563.4 342.4 L565.2 341.5 L567.0 340.7 L567.9 340.2" stroke="#eacfc8" stroke-width="7" fill="none" stroke-linecap="round" stroke-linejoin="round"/>
<path d="M567.9 340.2 L569.7 339.4 L571.5 338.5 L572.5 338.1" stroke="#e8ccc3" stroke-width="7" fill="none" stroke-linecap="round" stroke-linejoin="round"/>
<path d="M572.5 338.1 L574.3 337.4 L576.2 336.7 L577.2 336.3" stroke="#e7c9be" stroke-width="7" fill="none" stroke-linecap="round" stroke-linejoin="round"/>
<path d="M577.2 336.3 L579.1 335.6 L581.0 335.0 L581.9 334.6" stroke="#e5c5ba" stroke-width="7" fill="none" stroke-linecap="round" stroke-linejoin="round"/>
<path d="M581.9 334.6 L583.8 334.0 L585.7 333.3 L586.7 333.0" stroke="#e3c2b5" stroke-width="7" fill="none" stroke-linecap="round" stroke-linejoin="round"/>
<path d="M586.7 333.0 L588.6 332.3 L590.5 331.7 L591.4 331.4" stroke="#e1bfb0" stroke-width="7" fill="none" stroke-linecap="round" stroke-linejoin="round"/>
<path d="M591.4 331.4 L593.3 330.7 L595.2 330.1 L596.2 329.8" stroke="#dfbdac" stroke-width="7" fill="none" stroke-linecap="round" stroke-linejoin="round"/>
<path d="M596.2 329.8 L598.1 329.2 L600.0 328.6 L601.0 328.3" stroke="#dcbaa6" stroke-width="7" fill="none" stroke-linecap="round" stroke-linejoin="round"/>
<path d="M601.0 328.3 L602.9 327.7 L604.8 327.1 L605.8 326.8" stroke="#d8b59b" stroke-width="7" fill="none" stroke-linecap="round" stroke-linejoin="round"/>
<path d="M605.8 326.8 L607.7 326.2 L609.6 325.6 L610.6 325.3" stroke="#d4b090" stroke-width="7" fill="none" stroke-linecap="round" stroke-linejoin="round"/>
<path d="M610.6 325.3 L612.5 324.7 L614.5 324.1 L615.4 323.8" stroke="#cfac87" stroke-width="7" fill="none" stroke-linecap="round" stroke-linejoin="round"/>
<path d="M615.4 323.8 L617.3 323.2 L619.3 322.6 L620.2 322.3" stroke="#caa97d" stroke-width="7" fill="none" stroke-linecap="round" stroke-linejoin="round"/>
<path d="M620.2 322.3 L622.1 321.7 L624.0 321.1 L625.0 320.7" stroke="#c2a56a" stroke-width="7" fill="none" stroke-linecap="round" stroke-linejoin="round"/>
<path d="M625.0 320.7 L626.9 320.1 L628.8 319.5 L629.8 319.2" stroke="#bea963" stroke-width="7" fill="none" stroke-linecap="round" stroke-linejoin="round"/>
<path d="M629.8 319.2 L631.7 318.6 L633.6 318.0 L634.6 317.7" stroke="#bab060" stroke-width="7" fill="none" stroke-linecap="round" stroke-linejoin="round"/>
<path d="M634.6 317.7 L636.5 317.1 L638.4 316.5 L639.4 316.2" stroke="#b4b55d" stroke-width="7" fill="none" stroke-linecap="round" stroke-linejoin="round"/>
<path d="M639.4 316.2 L641.3 315.7 L643.3 315.3 L644.3 315.3" stroke="#8aab55" stroke-width="7" fill="none" stroke-linecap="round" stroke-linejoin="round"/>
<path d="M644.3 315.3 L646.3 315.7 L647.7 317.1 L648.1 318.0" stroke="#579e49" stroke-width="7" fill="none" stroke-linecap="round" stroke-linejoin="round"/>
<path d="M648.1 318.0 L648.7 320.0 L648.9 322.0 L648.9 323.0" stroke="#3e915c" stroke-width="7" fill="none" stroke-linecap="round" stroke-linejoin="round"/>
<path d="M648.9 323.0 L649.0 325.0 L649.0 327.0 L649.0 328.0" stroke="#358673" stroke-width="7" fill="none" stroke-linecap="round" stroke-linejoin="round"/>
<path d="M649.0 328.0 L649.0 330.0 L649.1 332.0 L649.0 333.0" stroke="#348574" stroke-width="7" fill="none" stroke-linecap="round" stroke-linejoin="round"/>
<path d="M649.0 333.0 L649.0 335.0 L649.0 337.1 L649.0 338.1" stroke="#388a6b" stroke-width="7" fill="none" stroke-linecap="round" stroke-linejoin="round"/>
<path d="M649.0 338.1 L649.0 340.1 L649.0 342.1 L649.0 344.1" stroke="#3c8f60" stroke-width="7" fill="none" stroke-linecap="round" stroke-linejoin="round"/>
<path d="M543.7 45.5 L541.7 45.5 L539.6 45.5" stroke="#92ad57" stroke-width="7" fill="none" stroke-linecap="round" stroke-linejoin="round"/>
<path d="M539.6 45.5 L537.6 45.4 L535.6 45.2 L534.6 45.1" stroke="#9bb058" stroke-width="7" fill="none" stroke-linecap="round" stroke-linejoin="round"/>
<path d="M534.6 45.1 L532.5 44.9 L530.5 44.6 L529.5 44.5" stroke="#a1b15a" stroke-width="7" fill="none" stroke-linecap="round" stroke-linejoin="round"/>
<path d="M529.5 44.5 L527.5 44.2 L525.5 44.0 L524.5 43.9" stroke="#a3b25a" stroke-width="7" fill="none" stroke-linecap="round" stroke-linejoin="round"/>
<path d="M524.5 43.9 L522.4 43.6 L520.4 43.4 L519.4 43.3" stroke="#a6b35b" stroke-width="7" fill="none" stroke-linecap="round" stroke-linejoin="round"/>
<path d="M519.4 43.3 L517.4 43.0 L515.4 42.8 L514.4 42.7" stroke="#a9b35b" stroke-width="7" fill="none" stroke-linecap="round" stroke-linejoin="round"/>
<path d="M514.4 42.7 L512.3 42.4 L510.3 42.2 L509.3 42.1" stroke="#abb45c" stroke-width="7" fill="none" stroke-linecap="round" stroke-linejoin="round"/>
<path d="M509.3 42.1 L507.3 41.9 L505.2 41.7 L504.2 41.6" stroke="#aab35b" stroke-width="7" fill="none" stroke-linecap="round" stroke-linejoin="round"/>
<path d="M504.2 41.6 L502.2 41.5 L500.2 41.3 L499.2 41.2" stroke="#a9b35b" stroke-width="7" fill="none" stroke-linecap="round" stroke-linejoin="round"/>
<path d="M499.2 41.2 L497.1 41.0 L495.1 40.8 L494.1 40.7" stroke="#a8b35b" stroke-width="7" fill="none" stroke-linecap="round" stroke-linejoin="round"/>
<path d="M543.7 363.5 L541.7 363.5 L539.6 363.5" stroke="#92ad57" stroke-width="7" fill="none" stroke-linecap="round" stroke-linejoin="round"/>
<path d="M539.6 363.5 L537.6 363.6 L535.6 363.8 L534.6 363.9" stroke="#9bb058" stroke-width="7" fill="none" stroke-linecap="round" stroke-linejoin="round"/>
<path d="M534.6 363.9 L532.5 364.1 L530.5 364.4 L529.5 364.5" stroke="#a1b15a" stroke-width="7" fill="none" stroke-linecap="round" stroke-linejoin="round"/>
<path d="M529.5 364.5 L527.5 364.8 L525.5 365.0 L524.5 365.1" stroke="#a3b25a" stroke-width="7" fill="none" stroke-linecap="round" stroke-linejoin="round"/>
<path d="M524.5 365.1 L522.4 365.4 L520.4 365.6 L519.4 365.7" stroke="#a6b35b" stroke-width="7" fill="none" stroke-linecap="round" stroke-linejoin="round"/>
<path d="M519.4 365.7 L517.4 366.0 L515.4 366.2 L514.4 366.3" stroke="#a9b35b" stroke-width="7" fill="none" stroke-linecap="round" stroke-linejoin="round"/>
<path d="M514.4 366.3 L512.3 366.6 L510.3 366.8 L509.3 366.9" stroke="#abb45c" stroke-width="7" fill="none" stroke-linecap="round" stroke-linejoin="round"/>
<path d="M509.3 366.9 L507.3 367.1 L505.2 367.3 L504.2 367.4" stroke="#aab35b" stroke-width="7" fill="none" stroke-linecap="round" stroke-linejoin="round"/>
<path d="M504.2 367.4 L502.2 367.5 L500.2 367.7 L499.2 367.8" stroke="#a9b35b" stroke-width="7" fill="none" stroke-linecap="round" stroke-linejoin="round"/>
<path d="M499.2 367.8 L497.1 368.0 L495.1 368.2 L494.1 368.3" stroke="#a8b35b" stroke-width="7" fill="none" stroke-linecap="round" stroke-linejoin="round"/>
<path d="M543.7 45.5 L545.7 45.5 L547.8 45.5" stroke="#92ad57" stroke-width="7" fill="none" stroke-linecap="round" stroke-linejoin="round"/>
<path d="M547.8 45.5 L549.8 45.4 L551.8 45.2 L552.8 45.1" stroke="#9bb058" stroke-width="7" fill="none" stroke-linecap="round" stroke-linejoin="round"/>
<path d="M552.8 45.1 L554.9 44.9 L556.9 44.6 L557.9 44.5" stroke="#a1b15a" stroke-width="7" fill="none" stroke-linecap="round" stroke-linejoin="round"/>
<path d="M557.9 44.5 L559.9 44.2 L561.9 44.0 L562.9 43.9" stroke="#a3b25a" stroke-width="7" fill="none" stroke-linecap="round" stroke-linejoin="round"/>
<path d="M562.9 43.9 L565.0 43.6 L567.0 43.4 L568.0 43.3" stroke="#a6b35b" stroke-width="7" fill="none" stroke-linecap="round" stroke-linejoin="round"/>
<path d="M568.0 43.3 L570.0 43.0 L572.0 42.8 L573.0 42.7" stroke="#a9b35b" stroke-width="7" fill="none" stroke-linecap="round" stroke-linejoin="round"/>
<path d="M573.0 42.7 L575.1 42.4 L577.1 42.2 L578.1 42.1" stroke="#abb45c" stroke-width="7" fill="none" stroke-linecap="round" stroke-linejoin="round"/>
<path d="M578.1 42.1 L580.1 41.9 L582.2 41.7 L583.2 41.6" stroke="#aab35b" stroke-width="7" fill="none" stroke-linecap="round" stroke-linejoin="round"/>
<path d="M583.2 41.6 L585.2 41.5 L587.2 41.3 L588.2 41.2" stroke="#a9b35b" stroke-width="7" fill="none" stroke-linecap="round" stroke-linejoin="round"/>
<path d="M588.2 41.2 L590.3 41.0 L592.3 40.8 L593.3 40.7" stroke="#a8b35b" stroke-width="7" fill="none" stroke-linecap="round" stroke-linejoin="round"/>
<path d="M543.7 363.5 L545.7 363.5 L547.8 363.5" stroke="#92ad57" stroke-width="7" fill="none" stroke-linecap="round" stroke-linejoin="round"/>
<path d="M547.8 363.5 L549.8 363.6 L551.8 363.8 L552.8 363.9" stroke="#9bb058" stroke-width="7" fill="none" stroke-linecap="round" stroke-linejoin="round"/>
<path d="M552.8 363.9 L554.9 364.1 L556.9 364.4 L557.9 364.5" stroke="#a1b15a" stroke-width="7" fill="none" stroke-linecap="round" stroke-linejoin="round"/>
<path d="M557.9 364.5 L559.9 364.8 L561.9 365.0 L562.9 365.1" stroke="#a3b25a" stroke-width="7" fill="none" stroke-linecap="round" stroke-linejoin="round"/>
<path d="M562.9 365.1 L565.0 365.4 L567.0 365.6 L568.0 365.7" stroke="#a6b35b" stroke-width="7" fill="none" stroke-linecap="round" stroke-linejoin="round"/>
<path d="M568.0 365.7 L570.0 366.0 L572.0 366.2 L573.0 366.3" stroke="#a9b35b" stroke-width="7" fill="none" stroke-linecap="round" stroke-linejoin="round"/>
<path d="M573.0 366.3 L575.1 366.6 L577.1 366.8 L578.1 366.9" stroke="#abb45c" stroke-width="7" fill="none" stroke-linecap="round" stroke-linejoin="round"/>
<path d="M578.1 366.9 L580.1 367.1 L582.2 367.3 L583.2 367.4" stroke="#aab35b" stroke-width="7" fill="none" stroke-linecap="round" stroke-linejoin="round"/>
<path d="M583.2 367.4 L585.2 367.5 L587.2 367.7 L588.2 367.8" stroke="#a9b35b" stroke-width="7" fill="none" stroke-linecap="round" stroke-linejoin="round"/>
<path d="M588.2 367.8 L590.3 368.0 L592.3 368.2 L593.3 368.3" stroke="#a8b35b" stroke-width="7" fill="none" stroke-linecap="round" stroke-linejoin="round"/>
<path d="M543.7 58.0 L541.7 57.9 L539.7 57.9" stroke="#88aa55" stroke-width="7" fill="none" stroke-linecap="round" stroke-linejoin="round"/>
<path d="M539.7 57.9 L537.6 57.7 L535.6 57.5 L534.7 57.3" stroke="#8cab56" stroke-width="7" fill="none" stroke-linecap="round" stroke-linejoin="round"/>
<path d="M534.7 57.3 L532.7 56.9 L530.7 56.3 L529.8 56.1" stroke="#93ad57" stroke-width="7" fill="none" stroke-linecap="round" stroke-linejoin="round"/>
<path d="M529.8 56.1 L527.8 55.6 L525.8 55.1 L524.8 54.9" stroke="#9baf58" stroke-width="7" fill="none" stroke-linecap="round" stroke-linejoin="round"/>
<path d="M524.8 54.9 L522.9 54.5 L520.9 54.1 L519.9 53.9" stroke="#a0b159" stroke-width="7" fill="none" stroke-linecap="round" stroke-linejoin="round"/>
<path d="M519.9 53.9 L517.9 53.5 L515.9 53.1 L514.9 52.9" stroke="#a3b25a" stroke-width="7" fill="none" stroke-linecap="round" stroke-linejoin="round"/>
<path d="M514.9 52.9 L513.0 52.5 L511.0 52.1 L510.0 51.9" stroke="#a5b25a" stroke-width="7" fill="none" stroke-linecap="round" stroke-linejoin="round"/>
<path d="M510.0 51.9 L508.0 51.5 L506.0 51.2 L505.0 51.0" stroke="#a8b35b" stroke-width="7" fill="none" stroke-linecap="round" stroke-linejoin="round"/>
<path d="M505.0 51.0 L503.0 50.7 L501.0 50.5 L500.0 50.3" stroke="#abb45c" stroke-width="7" fill="none" stroke-linecap="round" stroke-linejoin="round"/>
<path d="M500.0 50.3 L498.0 50.1 L496.0 49.9 L495.0 49.8" stroke="#a8b35b" stroke-width="7" fill="none" stroke-linecap="round" stroke-linejoin="round"/>
<path d="M495.0 49.8 L493.0 49.6 L491.0 49.4 L490.0 49.4" stroke="#a6b35b" stroke-width="7" fill="none" stroke-linecap="round" stroke-linejoin="round"/>
<path d="M490.0 49.4 L488.0 49.2 L485.9 49.0 L484.9 48.9" stroke="#a3b25a" stroke-width="7" fill="none" stroke-linecap="round" stroke-linejoin="round"/>
<path d="M484.9 48.9 L482.9 48.8 L480.9 48.6 L479.9 48.5" stroke="#a1b15a" stroke-width="7" fill="none" stroke-linecap="round" stroke-linejoin="round"/>
<path d="M543.7 351.0 L541.7 351.1 L539.7 351.1" stroke="#88aa55" stroke-width="7" fill="none" stroke-linecap="round" stroke-linejoin="round"/>
<path d="M539.7 351.1 L537.6 351.3 L535.6 351.5 L534.7 351.7" stroke="#8cab56" stroke-width="7" fill="none" stroke-linecap="round" stroke-linejoin="round"/>
<path d="M534.7 351.7 L532.7 352.1 L530.7 352.7 L529.8 352.9" stroke="#93ad57" stroke-width="7" fill="none" stroke-linecap="round" stroke-linejoin="round"/>
<path d="M529.8 352.9 L527.8 353.4 L525.8 353.9 L524.8 354.1" stroke="#9baf58" stroke-width="7" fill="none" stroke-linecap="round" stroke-linejoin="round"/>
<path d="M524.8 354.1 L522.9 354.5 L520.9 354.9 L519.9 355.1" stroke="#a0b159" stroke-width="7" fill="none" stroke-linecap="round" stroke-linejoin="round"/>
<path d="M519.9 355.1 L517.9 355.5 L515.9 355.9 L514.9 356.1" stroke="#a3b25a" stroke-width="7" fill="none" stroke-linecap="round" stroke-linejoin="round"/>
<path d="M514.9 356.1 L513.0 356.5 L511.0 356.9 L510.0 357.1" stroke="#a5b25a" stroke-width="7" fill="none" stroke-linecap="round" stroke-linejoin="round"/>
<path d="M510.0 357.1 L508.0 357.5 L506.0 357.8 L505.0 358.0" stroke="#a8b35b" stroke-width="7" fill="none" stroke-linecap="round" stroke-linejoin="round"/>
<path d="M505.0 358.0 L503.0 358.3 L501.0 358.5 L500.0 358.7" stroke="#abb45c" stroke-width="7" fill="none" stroke-linecap="round" stroke-linejoin="round"/>
<path d="M500.0 358.7 L498.0 358.9 L496.0 359.1 L495.0 359.2" stroke="#a8b35b" stroke-width="7" fill="none" stroke-linecap="round" stroke-linejoin="round"/>
<path d="M495.0 359.2 L493.0 359.4 L491.0 359.6 L490.0 359.6" stroke="#a6b35b" stroke-width="7" fill="none" stroke-linecap="round" stroke-linejoin="round"/>
<path d="M490.0 359.6 L488.0 359.8 L485.9 360.0 L484.9 360.1" stroke="#a3b25a" stroke-width="7" fill="none" stroke-linecap="round" stroke-linejoin="round"/>
<path d="M484.9 360.1 L482.9 360.2 L480.9 360.4 L479.9 360.5" stroke="#a1b15a" stroke-width="7" fill="none" stroke-linecap="round" stroke-linejoin="round"/>
<path d="M543.7 58.0 L545.7 57.9 L547.7 57.9" stroke="#88aa55" stroke-width="7" fill="none" stroke-linecap="round" stroke-linejoin="round"/>
<path d="M547.7 57.9 L549.8 57.7 L551.8 57.5 L552.7 57.3" stroke="#8cab56" stroke-width="7" fill="none" stroke-linecap="round" stroke-linejoin="round"/>
<path d="M552.7 57.3 L554.7 56.9 L556.7 56.3 L557.6 56.1" stroke="#93ad57" stroke-width="7" fill="none" stroke-linecap="round" stroke-linejoin="round"/>
<path d="M557.6 56.1 L559.6 55.6 L561.6 55.1 L562.6 54.9" stroke="#9baf58" stroke-width="7" fill="none" stroke-linecap="round" stroke-linejoin="round"/>
<path d="M562.6 54.9 L564.5 54.5 L566.5 54.1 L567.5 53.9" stroke="#a0b159" stroke-width="7" fill="none" stroke-linecap="round" stroke-linejoin="round"/>
<path d="M567.5 53.9 L569.5 53.5 L571.5 53.1 L572.5 52.9" stroke="#a3b25a" stroke-width="7" fill="none" stroke-linecap="round" stroke-linejoin="round"/>
<path d="M572.5 52.9 L574.4 52.5 L576.4 52.1 L577.4 51.9" stroke="#a5b25a" stroke-width="7" fill="none" stroke-linecap="round" stroke-linejoin="round"/>
<path d="M577.4 51.9 L579.4 51.5 L581.4 51.2 L582.4 51.0" stroke="#a8b35b" stroke-width="7" fill="none" stroke-linecap="round" stroke-linejoin="round"/>
<path d="M582.4 51.0 L584.4 50.7 L586.4 50.5 L587.4 50.3" stroke="#abb45c" stroke-width="7" fill="none" stroke-linecap="round" stroke-linejoin="round"/>
<path d="M587.4 50.3 L589.4 50.1 L591.4 49.9 L592.4 49.8" stroke="#a8b35b" stroke-width="7" fill="none" stroke-linecap="round" stroke-linejoin="round"/>
<path d="M592.4 49.8 L594.4 49.6 L596.4 49.4 L597.4 49.4" stroke="#a6b35b" stroke-width="7" fill="none" stroke-linecap="round" stroke-linejoin="round"/>
<path d="M597.4 49.4 L599.4 49.2 L601.5 49.0 L602.5 48.9" stroke="#a3b25a" stroke-width="7" fill="none" stroke-linecap="round" stroke-linejoin="round"/>
<path d="M602.5 48.9 L604.5 48.8 L606.5 48.6 L607.5 48.5" stroke="#a1b15a" stroke-width="7" fill="none" stroke-linecap="round" stroke-linejoin="round"/>
<path d="M543.7 351.0 L545.7 351.1 L547.7 351.1" stroke="#88aa55" stroke-width="7" fill="none" stroke-linecap="round" stroke-linejoin="round"/>
<path d="M547.7 351.1 L549.8 351.3 L551.8 351.5 L552.7 351.7" stroke="#8cab56" stroke-width="7" fill="none" stroke-linecap="round" stroke-linejoin="round"/>
<path d="M552.7 351.7 L554.7 352.1 L556.7 352.7 L557.6 352.9" stroke="#93ad57" stroke-width="7" fill="none" stroke-linecap="round" stroke-linejoin="round"/>
<path d="M557.6 352.9 L559.6 353.4 L561.6 353.9 L562.6 354.1" stroke="#9baf58" stroke-width="7" fill="none" stroke-linecap="round" stroke-linejoin="round"/>
<path d="M562.6 354.1 L564.5 354.5 L566.5 354.9 L567.5 355.1" stroke="#a0b159" stroke-width="7" fill="none" stroke-linecap="round" stroke-linejoin="round"/>
<path d="M567.5 355.1 L569.5 355.5 L571.5 355.9 L572.5 356.1" stroke="#a3b25a" stroke-width="7" fill="none" stroke-linecap="round" stroke-linejoin="round"/>
<path d="M572.5 356.1 L574.4 356.5 L576.4 356.9 L577.4 357.1" stroke="#a5b25a" stroke-width="7" fill="none" stroke-linecap="round" stroke-linejoin="round"/>
<path d="M577.4 357.1 L579.4 357.5 L581.4 357.8 L582.4 358.0" stroke="#a8b35b" stroke-width="7" fill="none" stroke-linecap="round" stroke-linejoin="round"/>
<path d="M582.4 358.0 L584.4 358.3 L586.4 358.5 L587.4 358.7" stroke="#abb45c" stroke-width="7" fill="none" stroke-linecap="round" stroke-linejoin="round"/>
<path d="M587.4 358.7 L589.4 358.9 L591.4 359.1 L592.4 359.2" stroke="#a8b35b" stroke-width="7" fill="none" stroke-linecap="round" stroke-linejoin="round"/>
<path d="M592.4 359.2 L594.4 359.4 L596.4 359.6 L597.4 359.6" stroke="#a6b35b" stroke-width="7" fill="none" stroke-linecap="round" stroke-linejoin="round"/>
<path d="M597.4 359.6 L599.4 359.8 L601.5 360.0 L602.5 360.1" stroke="#a3b25a" stroke-width="7" fill="none" stroke-linecap="round" stroke-linejoin="round"/>
<path d="M602.5 360.1 L604.5 360.2 L606.5 360.4 L607.5 360.5" stroke="#a1b15a" stroke-width="7" fill="none" stroke-linecap="round" stroke-linejoin="round"/>
<path d="M442.7 204.5 L443.0 202.5 L443.3 200.5 L443.5 199.5" stroke="#2e7a7f" stroke-width="7" fill="none" stroke-linecap="round" stroke-linejoin="round"/>
<path d="M443.5 199.5 L443.8 197.6 L444.2 195.6 L444.4 194.6" stroke="#2d797f" stroke-width="7" fill="none" stroke-linecap="round" stroke-linejoin="round"/>
<path d="M444.4 194.6 L445.0 192.7 L445.6 190.8 L445.9 189.8" stroke="#2d777e" stroke-width="7" fill="none" stroke-linecap="round" stroke-linejoin="round"/>
<path d="M445.9 189.8 L446.6 188.0 L447.4 186.1 L447.8 185.2" stroke="#2c747e" stroke-width="7" fill="none" stroke-linecap="round" stroke-linejoin="round"/>
<path d="M447.8 185.2 L448.6 183.3 L449.4 181.5 L449.8 180.6" stroke="#2a717e" stroke-width="7" fill="none" stroke-linecap="round" stroke-linejoin="round"/>
<path d="M449.8 180.6 L450.7 178.8 L451.7 177.1 L452.2 176.2" stroke="#296f7e" stroke-width="7" fill="none" stroke-linecap="round" stroke-linejoin="round"/>
<path d="M452.2 176.2 L453.4 174.6 L454.6 173.0 L455.2 172.2" stroke="#276b7d" stroke-width="7" fill="none" stroke-linecap="round" stroke-linejoin="round"/>
<path d="M455.2 172.2 L456.3 170.5 L457.2 168.7 L457.6 167.8" stroke="#26687d" stroke-width="7" fill="none" stroke-linecap="round" stroke-linejoin="round"/>
<path d="M457.6 167.8 L458.1 165.8 L458.4 163.9 L458.5 162.9" stroke="#24647d" stroke-width="7" fill="none" stroke-linecap="round" stroke-linejoin="round"/>
<path d="M458.5 162.9 L458.6 160.9 L458.5 158.9 L458.5 157.9" stroke="#23607c" stroke-width="7" fill="none" stroke-linecap="round" stroke-linejoin="round"/>
<path d="M458.5 157.9 L458.3 155.9 L458.1 153.9 L457.7 151.9 L457.3 149.9 L457.0 148.0 L456.6 146.0 L456.3 144.0 L456.2 143.0" stroke="#225e7c" stroke-width="7" fill="none" stroke-linecap="round" stroke-linejoin="round"/>
<path d="M456.2 143.0 L456.0 141.0 L455.7 139.0 L455.6 138.0" stroke="#1f577b" stroke-width="7" fill="none" stroke-linecap="round" stroke-linejoin="round"/>
<path d="M455.6 138.0 L455.5 136.0 L455.6 134.0 L455.8 133.0" stroke="#1b4b7a" stroke-width="7" fill="none" stroke-linecap="round" stroke-linejoin="round"/>
<path d="M455.8 133.0 L456.5 131.1 L457.6 129.5 L458.3 128.8" stroke="#184279" stroke-width="7" fill="none" stroke-linecap="round" stroke-linejoin="round"/>
<path d="M458.3 128.8 L460.1 127.9 L462.0 127.4 L463.0 127.3" stroke="#173e78" stroke-width="7" fill="none" stroke-linecap="round" stroke-linejoin="round"/>
<path d="M463.0 127.3 L465.0 127.4 L467.0 127.7 L468.0 127.9" stroke="#1d527b" stroke-width="7" fill="none" stroke-linecap="round" stroke-linejoin="round"/>
<path d="M468.0 127.9 L469.9 128.5 L471.8 129.2 L472.7 129.6" stroke="#23627c" stroke-width="7" fill="none" stroke-linecap="round" stroke-linejoin="round"/>
<path d="M472.7 129.6 L474.6 130.4 L476.4 131.2 L477.3 131.6" stroke="#27697d" stroke-width="7" fill="none" stroke-linecap="round" stroke-linejoin="round"/>
<path d="M477.3 131.6 L479.2 132.2 L481.1 132.8 L482.1 133.1" stroke="#2a727e" stroke-width="7" fill="none" stroke-linecap="round" stroke-linejoin="round"/>
<path d="M482.1 133.1 L484.1 133.5 L486.0 134.0 L487.0 134.2" stroke="#2d777e" stroke-width="7" fill="none" stroke-linecap="round" stroke-linejoin="round"/>
<path d="M487.0 134.2 L489.0 134.6 L490.9 135.0 L491.9 135.2" stroke="#2f7d7f" stroke-width="7" fill="none" stroke-linecap="round" stroke-linejoin="round"/>
<path d="M491.9 135.2 L493.9 135.7 L495.8 136.2 L496.8 136.5" stroke="#307f7d" stroke-width="7" fill="none" stroke-linecap="round" stroke-linejoin="round"/>
<path d="M496.8 136.5 L498.7 137.0 L500.6 137.6 L501.6 137.8" stroke="#32827b" stroke-width="7" fill="none" stroke-linecap="round" stroke-linejoin="round"/>
<path d="M501.6 137.8 L503.5 138.4 L505.4 139.0 L506.4 139.3" stroke="#348476" stroke-width="7" fill="none" stroke-linecap="round" stroke-linejoin="round"/>
<path d="M506.4 139.3 L508.3 139.9 L510.2 140.6 L511.1 141.0" stroke="#358771" stroke-width="7" fill="none" stroke-linecap="round" stroke-linejoin="round"/>
<path d="M511.1 141.0 L513.0 141.7 L514.8 142.5 L515.8 142.9" stroke="#37896d" stroke-width="7" fill="none" stroke-linecap="round" stroke-linejoin="round"/>
<path d="M515.8 142.9 L517.6 143.7 L519.4 144.6 L520.3 145.1" stroke="#388b6a" stroke-width="7" fill="none" stroke-linecap="round" stroke-linejoin="round"/>
<path d="M520.3 145.1 L522.0 146.0 L523.8 146.9 L524.7 147.4" stroke="#3a8c66" stroke-width="7" fill="none" stroke-linecap="round" stroke-linejoin="round"/>
<path d="M524.7 147.4 L526.5 148.3 L528.3 149.2 L529.2 149.6" stroke="#3b8e62" stroke-width="7" fill="none" stroke-linecap="round" stroke-linejoin="round"/>
<path d="M529.2 149.6 L531.0 150.5 L532.8 151.3 L533.7 151.8" stroke="#3d905e" stroke-width="7" fill="none" stroke-linecap="round" stroke-linejoin="round"/>
<path d="M533.7 151.8 L535.6 152.6 L537.4 153.5 L538.3 153.9" stroke="#3e915b" stroke-width="7" fill="none" stroke-linecap="round" stroke-linejoin="round"/>
<path d="M538.3 153.9 L540.1 154.8 L541.9 155.6 L543.7 156.5" stroke="#409357" stroke-width="7" fill="none" stroke-linecap="round" stroke-linejoin="round"/>
<path d="M442.7 204.5 L443.0 206.5 L443.3 208.5 L443.5 209.5" stroke="#2e7a7f" stroke-width="7" fill="none" stroke-linecap="round" stroke-linejoin="round"/>
<path d="M443.5 209.5 L443.8 211.4 L444.2 213.4 L444.4 214.4" stroke="#2d797f" stroke-width="7" fill="none" stroke-linecap="round" stroke-linejoin="round"/>
<path d="M444.4 214.4 L445.0 216.3 L445.6 218.2 L445.9 219.2" stroke="#2d777e" stroke-width="7" fill="none" stroke-linecap="round" stroke-linejoin="round"/>
<path d="M445.9 219.2 L446.6 221.0 L447.4 222.9 L447.8 223.8" stroke="#2c747e" stroke-width="7" fill="none" stroke-linecap="round" stroke-linejoin="round"/>
<path d="M447.8 223.8 L448.6 225.7 L449.4 227.5 L449.8 228.4" stroke="#2a717e" stroke-width="7" fill="none" stroke-linecap="round" stroke-linejoin="round"/>
<path d="M449.8 228.4 L450.7 230.2 L451.7 231.9 L452.2 232.8" stroke="#296f7e" stroke-width="7" fill="none" stroke-linecap="round" stroke-linejoin="round"/>
<path d="M452.2 232.8 L453.4 234.4 L454.6 236.0 L455.2 236.8" stroke="#276b7d" stroke-width="7" fill="none" stroke-linecap="round" stroke-linejoin="round"/>
<path d="M455.2 236.8 L456.3 238.5 L457.2 240.3 L457.6 241.2" stroke="#26687d" stroke-width="7" fill="none" stroke-linecap="round" stroke-linejoin="round"/>
<path d="M457.6 241.2 L458.1 243.2 L458.4 245.1 L458.5 246.1" stroke="#24647d" stroke-width="7" fill="none" stroke-linecap="round" stroke-linejoin="round"/>
<path d="M458.5 246.1 L458.6 248.1 L458.5 250.1 L458.5 251.1" stroke="#23607c" stroke-width="7" fill="none" stroke-linecap="round" stroke-linejoin="round"/>
<path d="M458.5 251.1 L458.3 253.1 L458.1 255.1 L457.7 257.1 L457.3 259.1 L457.0 261.0 L456.6 263.0 L456.3 265.0 L456.2 266.0" stroke="#225e7c" stroke-width="7" fill="none" stroke-linecap="round" stroke-linejoin="round"/>
<path d="M456.2 266.0 L456.0 268.0 L455.7 270.0 L455.6 271.0" stroke="#1f577b" stroke-width="7" fill="none" stroke-linecap="round" stroke-linejoin="round"/>
<path d="M455.6 271.0 L455.5 273.0 L455.6 275.0 L455.8 276.0" stroke="#1b4b7a" stroke-width="7" fill="none" stroke-linecap="round" stroke-linejoin="round"/>
<path d="M455.8 276.0 L456.5 277.9 L457.6 279.5 L458.3 280.2" stroke="#184279" stroke-width="7" fill="none" stroke-linecap="round" stroke-linejoin="round"/>
<path d="M458.3 280.2 L460.1 281.1 L462.0 281.6 L463.0 281.7" stroke="#173e78" stroke-width="7" fill="none" stroke-linecap="round" stroke-linejoin="round"/>
<path d="M463.0 281.7 L465.0 281.6 L467.0 281.3 L468.0 281.1" stroke="#1d527b" stroke-width="7" fill="none" stroke-linecap="round" stroke-linejoin="round"/>
<path d="M468.0 281.1 L469.9 280.5 L471.8 279.8 L472.7 279.4" stroke="#23627c" stroke-width="7" fill="none" stroke-linecap="round" stroke-linejoin="round"/>
<path d="M472.7 279.4 L474.6 278.6 L476.4 277.8 L477.3 277.4" stroke="#27697d" stroke-width="7" fill="none" stroke-linecap="round" stroke-linejoin="round"/>
<path d="M477.3 277.4 L479.2 276.8 L481.1 276.2 L482.1 275.9" stroke="#2a727e" stroke-width="7" fill="none" stroke-linecap="round" stroke-linejoin="round"/>
<path d="M482.1 275.9 L484.1 275.5 L486.0 275.0 L487.0 274.8" stroke="#2d777e" stroke-width="7" fill="none" stroke-linecap="round" stroke-linejoin="round"/>
<path d="M487.0 274.8 L489.0 274.4 L490.9 274.0 L491.9 273.8" stroke="#2f7d7f" stroke-width="7" fill="none" stroke-linecap="round" stroke-linejoin="round"/>
<path d="M491.9 273.8 L493.9 273.3 L495.8 272.8 L496.8 272.5" stroke="#307f7d" stroke-width="7" fill="none" stroke-linecap="round" stroke-linejoin="round"/>
<path d="M496.8 272.5 L498.7 272.0 L500.6 271.4 L501.6 271.2" stroke="#32827b" stroke-width="7" fill="none" stroke-linecap="round" stroke-linejoin="round"/>
<path d="M501.6 271.2 L503.5 270.6 L505.4 270.0 L506.4 269.7" stroke="#348476" stroke-width="7" fill="none" stroke-linecap="round" stroke-linejoin="round"/>
<path d="M506.4 269.7 L508.3 269.1 L510.2 268.4 L511.1 268.0" stroke="#358771" stroke-width="7" fill="none" stroke-linecap="round" stroke-linejoin="round"/>
<path d="M511.1 268.0 L513.0 267.3 L514.8 266.5 L515.8 266.1" stroke="#37896d" stroke-width="7" fill="none" stroke-linecap="round" stroke-linejoin="round"/>
<path d="M515.8 266.1 L517.6 265.3 L519.4 264.4 L520.3 263.9" stroke="#388b6a" stroke-width="7" fill="none" stroke-linecap="round" stroke-linejoin="round"/>
<path d="M520.3 263.9 L522.0 263.0 L523.8 262.1 L524.7 261.6" stroke="#3a8c66" stroke-width="7" fill="none" stroke-linecap="round" stroke-linejoin="round"/>
<path d="M524.7 261.6 L526.5 260.7 L528.3 259.8 L529.2 259.4" stroke="#3b8e62" stroke-width="7" fill="none" stroke-linecap="round" stroke-linejoin="round"/>
<path d="M529.2 259.4 L531.0 258.5 L532.8 257.7 L533.7 257.2" stroke="#3d905e" stroke-width="7" fill="none" stroke-linecap="round" stroke-linejoin="round"/>
<path d="M533.7 257.2 L535.6 256.4 L537.4 255.5 L538.3 255.1" stroke="#3e915b" stroke-width="7" fill="none" stroke-linecap="round" stroke-linejoin="round"/>
<path d="M538.3 255.1 L540.1 254.2 L541.9 253.4 L543.7 252.5" stroke="#409357" stroke-width="7" fill="none" stroke-linecap="round" stroke-linejoin="round"/>
<path d="M644.7 204.5 L644.4 202.5 L644.1 200.5 L643.9 199.5" stroke="#2e7a7f" stroke-width="7" fill="none" stroke-linecap="round" stroke-linejoin="round"/>
<path d="M643.9 199.5 L643.6 197.6 L643.2 195.6 L643.0 194.6" stroke="#2d797f" stroke-width="7" fill="none" stroke-linecap="round" stroke-linejoin="round"/>
<path d="M643.0 194.6 L642.4 192.7 L641.8 190.8 L641.5 189.8" stroke="#2d777e" stroke-width="7" fill="none" stroke-linecap="round" stroke-linejoin="round"/>
<path d="M641.5 189.8 L640.8 188.0 L640.0 186.1 L639.6 185.2" stroke="#2c747e" stroke-width="7" fill="none" stroke-linecap="round" stroke-linejoin="round"/>
<path d="M639.6 185.2 L638.8 183.3 L638.0 181.5 L637.6 180.6" stroke="#2a717e" stroke-width="7" fill="none" stroke-linecap="round" stroke-linejoin="round"/>
<path d="M637.6 180.6 L636.7 178.8 L635.7 177.1 L635.2 176.2" stroke="#296f7e" stroke-width="7" fill="none" stroke-linecap="round" stroke-linejoin="round"/>
<path d="M635.2 176.2 L634.0 174.6 L632.8 173.0 L632.2 172.2" stroke="#276b7d" stroke-width="7" fill="none" stroke-linecap="round" stroke-linejoin="round"/>
<path d="M632.2 172.2 L631.1 170.5 L630.2 168.7 L629.8 167.8" stroke="#26687d" stroke-width="7" fill="none" stroke-linecap="round" stroke-linejoin="round"/>
<path d="M629.8 167.8 L629.3 165.8 L629.0 163.9 L628.9 162.9" stroke="#24647d" stroke-width="7" fill="none" stroke-linecap="round" stroke-linejoin="round"/>
<path d="M628.9 162.9 L628.8 160.9 L628.9 158.9 L628.9 157.9" stroke="#23607c" stroke-width="7" fill="none" stroke-linecap="round" stroke-linejoin="round"/>
<path d="M628.9 157.9 L629.1 155.9 L629.3 153.9 L629.7 151.9 L630.1 149.9 L630.4 148.0 L630.8 146.0 L631.1 144.0 L631.2 143.0" stroke="#225e7c" stroke-width="7" fill="none" stroke-linecap="round" stroke-linejoin="round"/>
<path d="M631.2 143.0 L631.4 141.0 L631.7 139.0 L631.8 138.0" stroke="#1f577b" stroke-width="7" fill="none" stroke-linecap="round" stroke-linejoin="round"/>
<path d="M631.8 138.0 L631.9 136.0 L631.8 134.0 L631.6 133.0" stroke="#1b4b7a" stroke-width="7" fill="none" stroke-linecap="round" stroke-linejoin="round"/>
<path d="M631.6 133.0 L630.9 131.1 L629.8 129.5 L629.1 128.8" stroke="#184279" stroke-width="7" fill="none" stroke-linecap="round" stroke-linejoin="round"/>
<path d="M629.1 128.8 L627.3 127.9 L625.4 127.4 L624.4 127.3" stroke="#173e78" stroke-width="7" fill="none" stroke-linecap="round" stroke-linejoin="round"/>
<path d="M624.4 127.3 L622.4 127.4 L620.4 127.7 L619.4 127.9" stroke="#1d527b" stroke-width="7" fill="none" stroke-linecap="round" stroke-linejoin="round"/>
<path d="M619.4 127.9 L617.5 128.5 L615.6 129.2 L614.7 129.6" stroke="#23627c" stroke-width="7" fill="none" stroke-linecap="round" stroke-linejoin="round"/>
<path d="M614.7 129.6 L612.8 130.4 L611.0 131.2 L610.1 131.6" stroke="#27697d" stroke-width="7" fill="none" stroke-linecap="round" stroke-linejoin="round"/>
<path d="M610.1 131.6 L608.2 132.2 L606.3 132.8 L605.3 133.1" stroke="#2a727e" stroke-width="7" fill="none" stroke-linecap="round" stroke-linejoin="round"/>
<path d="M605.3 133.1 L603.3 133.5 L601.4 134.0 L600.4 134.2" stroke="#2d777e" stroke-width="7" fill="none" stroke-linecap="round" stroke-linejoin="round"/>
<path d="M600.4 134.2 L598.4 134.6 L596.5 135.0 L595.5 135.2" stroke="#2f7d7f" stroke-width="7" fill="none" stroke-linecap="round" stroke-linejoin="round"/>
<path d="M595.5 135.2 L593.5 135.7 L591.6 136.2 L590.6 136.5" stroke="#307f7d" stroke-width="7" fill="none" stroke-linecap="round" stroke-linejoin="round"/>
<path d="M590.6 136.5 L588.7 137.0 L586.8 137.6 L585.8 137.8" stroke="#32827b" stroke-width="7" fill="none" stroke-linecap="round" stroke-linejoin="round"/>
<path d="M585.8 137.8 L583.9 138.4 L582.0 139.0 L581.0 139.3" stroke="#348476" stroke-width="7" fill="none" stroke-linecap="round" stroke-linejoin="round"/>
<path d="M581.0 139.3 L579.1 139.9 L577.2 140.6 L576.3 141.0" stroke="#358771" stroke-width="7" fill="none" stroke-linecap="round" stroke-linejoin="round"/>
<path d="M576.3 141.0 L574.4 141.7 L572.6 142.5 L571.6 142.9" stroke="#37896d" stroke-width="7" fill="none" stroke-linecap="round" stroke-linejoin="round"/>
<path d="M571.6 142.9 L569.8 143.7 L568.0 144.6 L567.1 145.1" stroke="#388b6a" stroke-width="7" fill="none" stroke-linecap="round" stroke-linejoin="round"/>
<path d="M567.1 145.1 L565.4 146.0 L563.6 146.9 L562.7 147.4" stroke="#3a8c66" stroke-width="7" fill="none" stroke-linecap="round" stroke-linejoin="round"/>
<path d="M562.7 147.4 L560.9 148.3 L559.1 149.2 L558.2 149.6" stroke="#3b8e62" stroke-width="7" fill="none" stroke-linecap="round" stroke-linejoin="round"/>
<path d="M558.2 149.6 L556.4 150.5 L554.6 151.3 L553.7 151.8" stroke="#3d905e" stroke-width="7" fill="none" stroke-linecap="round" stroke-linejoin="round"/>
<path d="M553.7 151.8 L551.8 152.6 L550.0 153.5 L549.1 153.9" stroke="#3e915b" stroke-width="7" fill="none" stroke-linecap="round" stroke-linejoin="round"/>
<path d="M549.1 153.9 L547.3 154.8 L545.5 155.6 L543.7 156.5" stroke="#409357" stroke-width="7" fill="none" stroke-linecap="round" stroke-linejoin="round"/>
<path d="M644.7 204.5 L644.4 206.5 L644.1 208.5 L643.9 209.5" stroke="#2e7a7f" stroke-width="7" fill="none" stroke-linecap="round" stroke-linejoin="round"/>
<path d="M643.9 209.5 L643.6 211.4 L643.2 213.4 L643.0 214.4" stroke="#2d797f" stroke-width="7" fill="none" stroke-linecap="round" stroke-linejoin="round"/>
<path d="M643.0 214.4 L642.4 216.3 L641.8 218.2 L641.5 219.2" stroke="#2d777e" stroke-width="7" fill="none" stroke-linecap="round" stroke-linejoin="round"/>
<path d="M641.5 219.2 L640.8 221.0 L640.0 222.9 L639.6 223.8" stroke="#2c747e" stroke-width="7" fill="none" stroke-linecap="round" stroke-linejoin="round"/>
<path d="M639.6 223.8 L638.8 225.7 L638.0 227.5 L637.6 228.4" stroke="#2a717e" stroke-width="7" fill="none" stroke-linecap="round" stroke-linejoin="round"/>
<path d="M637.6 228.4 L636.7 230.2 L635.7 231.9 L635.2 232.8" stroke="#296f7e" stroke-width="7" fill="none" stroke-linecap="round" stroke-linejoin="round"/>
<path d="M635.2 232.8 L634.0 234.4 L632.8 236.0 L632.2 236.8" stroke="#276b7d" stroke-width="7" fill="none" stroke-linecap="round" stroke-linejoin="round"/>
<path d="M632.2 236.8 L631.1 238.5 L630.2 240.3 L629.8 241.2" stroke="#26687d" stroke-width="7" fill="none" stroke-linecap="round" stroke-linejoin="round"/>
<path d="M629.8 241.2 L629.3 243.2 L629.0 245.1 L628.9 246.1" stroke="#24647d" stroke-width="7" fill="none" stroke-linecap="round" stroke-linejoin="round"/>
<path d="M628.9 246.1 L628.8 248.1 L628.9 250.1 L628.9 251.1" stroke="#23607c" stroke-width="7" fill="none" stroke-linecap="round" stroke-linejoin="round"/>
<path d="M628.9 251.1 L629.1 253.1 L629.3 255.1 L629.7 257.1 L630.1 259.1 L630.4 261.0 L630.8 263.0 L631.1 265.0 L631.2 266.0" stroke="#225e7c" stroke-width="7" fill="none" stroke-linecap="round" stroke-linejoin="round"/>
<path d="M631.2 266.0 L631.4 268.0 L631.7 270.0 L631.8 271.0" stroke="#1f577b" stroke-width="7" fill="none" stroke-linecap="round" stroke-linejoin="round"/>
<path d="M631.8 271.0 L631.9 273.0 L631.8 275.0 L631.6 276.0" stroke="#1b4b7a" stroke-width="7" fill="none" stroke-linecap="round" stroke-linejoin="round"/>
<path d="M631.6 276.0 L630.9 277.9 L629.8 279.5 L629.1 280.2" stroke="#184279" stroke-width="7" fill="none" stroke-linecap="round" stroke-linejoin="round"/>
<path d="M629.1 280.2 L627.3 281.1 L625.4 281.6 L624.4 281.7" stroke="#173e78" stroke-width="7" fill="none" stroke-linecap="round" stroke-linejoin="round"/>
<path d="M624.4 281.7 L622.4 281.6 L620.4 281.3 L619.4 281.1" stroke="#1d527b" stroke-width="7" fill="none" stroke-linecap="round" stroke-linejoin="round"/>
<path d="M619.4 281.1 L617.5 280.5 L615.6 279.8 L614.7 279.4" stroke="#23627c" stroke-width="7" fill="none" stroke-linecap="round" stroke-linejoin="round"/>
<path d="M614.7 279.4 L612.8 278.6 L611.0 277.8 L610.1 277.4" stroke="#27697d" stroke-width="7" fill="none" stroke-linecap="round" stroke-linejoin="round"/>
<path d="M610.1 277.4 L608.2 276.8 L606.3 276.2 L605.3 275.9" stroke="#2a727e" stroke-width="7" fill="none" stroke-linecap="round" stroke-linejoin="round"/>
<path d="M605.3 275.9 L603.3 275.5 L601.4 275.0 L600.4 274.8" stroke="#2d777e" stroke-width="7" fill="none" stroke-linecap="round" stroke-linejoin="round"/>
<path d="M600.4 274.8 L598.4 274.4 L596.5 274.0 L595.5 273.8" stroke="#2f7d7f" stroke-width="7" fill="none" stroke-linecap="round" stroke-linejoin="round"/>
<path d="M595.5 273.8 L593.5 273.3 L591.6 272.8 L590.6 272.5" stroke="#307f7d" stroke-width="7" fill="none" stroke-linecap="round" stroke-linejoin="round"/>
<path d="M590.6 272.5 L588.7 272.0 L586.8 271.4 L585.8 271.2" stroke="#32827b" stroke-width="7" fill="none" stroke-linecap="round" stroke-linejoin="round"/>
<path d="M585.8 271.2 L583.9 270.6 L582.0 270.0 L581.0 269.7" stroke="#348476" stroke-width="7" fill="none" stroke-linecap="round" stroke-linejoin="round"/>
<path d="M581.0 269.7 L579.1 269.1 L577.2 268.4 L576.3 268.0" stroke="#358771" stroke-width="7" fill="none" stroke-linecap="round" stroke-linejoin="round"/>
<path d="M576.3 268.0 L574.4 267.3 L572.6 266.5 L571.6 266.1" stroke="#37896d" stroke-width="7" fill="none" stroke-linecap="round" stroke-linejoin="round"/>
<path d="M571.6 266.1 L569.8 265.3 L568.0 264.4 L567.1 263.9" stroke="#388b6a" stroke-width="7" fill="none" stroke-linecap="round" stroke-linejoin="round"/>
<path d="M567.1 263.9 L565.4 263.0 L563.6 262.1 L562.7 261.6" stroke="#3a8c66" stroke-width="7" fill="none" stroke-linecap="round" stroke-linejoin="round"/>
<path d="M562.7 261.6 L560.9 260.7 L559.1 259.8 L558.2 259.4" stroke="#3b8e62" stroke-width="7" fill="none" stroke-linecap="round" stroke-linejoin="round"/>
<path d="M558.2 259.4 L556.4 258.5 L554.6 257.7 L553.7 257.2" stroke="#3d905e" stroke-width="7" fill="none" stroke-linecap="round" stroke-linejoin="round"/>
<path d="M553.7 257.2 L551.8 256.4 L550.0 255.5 L549.1 255.1" stroke="#3e915b" stroke-width="7" fill="none" stroke-linecap="round" stroke-linejoin="round"/>
<path d="M549.1 255.1 L547.3 254.2 L545.5 253.4 L543.7 252.5" stroke="#409357" stroke-width="7" fill="none" stroke-linecap="round" stroke-linejoin="round"/>
<path d="M447.4 204.5 L447.8 202.5 L448.2 200.5" stroke="#2e7a7f" stroke-width="7" fill="none" stroke-linecap="round" stroke-linejoin="round"/>
<path d="M448.2 200.5 L448.6 198.6 L449.2 196.6 L449.5 195.7" stroke="#2d797f" stroke-width="7" fill="none" stroke-linecap="round" stroke-linejoin="round"/>
<path d="M449.5 195.7 L450.3 193.8 L451.2 192.0 L451.6 191.1" stroke="#2d777e" stroke-width="7" fill="none" stroke-linecap="round" stroke-linejoin="round"/>
<path d="M451.6 191.1 L452.6 189.4 L453.7 187.6 L454.3 186.8" stroke="#2d797f" stroke-width="7" fill="none" stroke-linecap="round" stroke-linejoin="round"/>
<path d="M454.3 186.8 L455.4 185.1 L456.6 183.5 L457.2 182.7" stroke="#2e7b7f" stroke-width="7" fill="none" stroke-linecap="round" stroke-linejoin="round"/>
<path d="M457.2 182.7 L458.5 181.2 L459.9 179.7 L460.6 178.9" stroke="#2d797f" stroke-width="7" fill="none" stroke-linecap="round" stroke-linejoin="round"/>
<path d="M460.6 178.9 L461.9 177.5 L463.3 175.9 L463.9 175.1" stroke="#2c767e" stroke-width="7" fill="none" stroke-linecap="round" stroke-linejoin="round"/>
<path d="M463.9 175.1 L465.0 173.4 L466.0 171.7 L466.8 169.8 L467.5 167.9 L468.0 166.0 L468.4 164.0 L468.6 162.0 L468.6 160.0 L468.6 158.0 L468.4 155.9 L468.3 153.9 L468.1 151.9 L468.0 149.9 L467.9 147.9 L467.9 146.9" stroke="#2b737e" stroke-width="7" fill="none" stroke-linecap="round" stroke-linejoin="round"/>
<path d="M467.9 146.9 L467.9 144.9 L468.0 142.8 L468.0 141.8" stroke="#296e7e" stroke-width="7" fill="none" stroke-linecap="round" stroke-linejoin="round"/>
<path d="M468.0 141.8 L468.1 139.8 L468.4 137.8" stroke="#25647d" stroke-width="7" fill="none" stroke-linecap="round" stroke-linejoin="round"/>
<path d="M468.4 137.8 L468.8 135.9 L469.7 134.0 L470.4 133.3" stroke="#215c7c" stroke-width="7" fill="none" stroke-linecap="round" stroke-linejoin="round"/>
<path d="M470.4 133.3 L472.1 132.4 L474.1 132.2 L475.2 132.3" stroke="#194679" stroke-width="7" fill="none" stroke-linecap="round" stroke-linejoin="round"/>
<path d="M475.2 132.3 L477.1 132.6 L479.1 133.0 L480.1 133.2" stroke="#225e7c" stroke-width="7" fill="none" stroke-linecap="round" stroke-linejoin="round"/>
<path d="M480.1 133.2 L482.1 133.6 L484.1 133.9 L485.1 134.1" stroke="#2b737e" stroke-width="7" fill="none" stroke-linecap="round" stroke-linejoin="round"/>
<path d="M485.1 134.1 L487.1 134.5 L489.1 134.9 L490.0 135.0" stroke="#2d787e" stroke-width="7" fill="none" stroke-linecap="round" stroke-linejoin="round"/>
<path d="M490.0 135.0 L492.0 135.4 L494.0 135.8 L495.0 136.0" stroke="#2f7c7f" stroke-width="7" fill="none" stroke-linecap="round" stroke-linejoin="round"/>
<path d="M447.4 204.5 L447.8 206.5 L448.2 208.5" stroke="#2e7a7f" stroke-width="7" fill="none" stroke-linecap="round" stroke-linejoin="round"/>
<path d="M448.2 208.5 L448.6 210.4 L449.2 212.4 L449.5 213.3" stroke="#2d797f" stroke-width="7" fill="none" stroke-linecap="round" stroke-linejoin="round"/>
<path d="M449.5 213.3 L450.3 215.2 L451.2 217.0 L451.6 217.9" stroke="#2d777e" stroke-width="7" fill="none" stroke-linecap="round" stroke-linejoin="round"/>
<path d="M451.6 217.9 L452.6 219.6 L453.7 221.4 L454.3 222.2" stroke="#2d797f" stroke-width="7" fill="none" stroke-linecap="round" stroke-linejoin="round"/>
<path d="M454.3 222.2 L455.4 223.9 L456.6 225.5 L457.2 226.3" stroke="#2e7b7f" stroke-width="7" fill="none" stroke-linecap="round" stroke-linejoin="round"/>
<path d="M457.2 226.3 L458.5 227.8 L459.9 229.3 L460.6 230.1" stroke="#2d797f" stroke-width="7" fill="none" stroke-linecap="round" stroke-linejoin="round"/>
<path d="M460.6 230.1 L461.9 231.5 L463.3 233.1 L463.9 233.9" stroke="#2c767e" stroke-width="7" fill="none" stroke-linecap="round" stroke-linejoin="round"/>
<path d="M463.9 233.9 L465.0 235.6 L466.0 237.3 L466.8 239.2 L467.5 241.1 L468.0 243.0 L468.4 245.0 L468.6 247.0 L468.6 249.0 L468.6 251.0 L468.4 253.1 L468.3 255.1 L468.1 257.1 L468.0 259.1 L467.9 261.1 L467.9 262.1" stroke="#2b737e" stroke-width="7" fill="none" stroke-linecap="round" stroke-linejoin="round"/>
<path d="M467.9 262.1 L467.9 264.1 L468.0 266.2 L468.0 267.2" stroke="#296e7e" stroke-width="7" fill="none" stroke-linecap="round" stroke-linejoin="round"/>
<path d="M468.0 267.2 L468.1 269.2 L468.4 271.2" stroke="#25647d" stroke-width="7" fill="none" stroke-linecap="round" stroke-linejoin="round"/>
<path d="M468.4 271.2 L468.8 273.1 L469.7 275.0 L470.4 275.7" stroke="#215c7c" stroke-width="7" fill="none" stroke-linecap="round" stroke-linejoin="round"/>
<path d="M470.4 275.7 L472.1 276.6 L474.1 276.8 L475.2 276.7" stroke="#194679" stroke-width="7" fill="none" stroke-linecap="round" stroke-linejoin="round"/>
<path d="M475.2 276.7 L477.1 276.4 L479.1 276.0 L480.1 275.8" stroke="#225e7c" stroke-width="7" fill="none" stroke-linecap="round" stroke-linejoin="round"/>
<path d="M480.1 275.8 L482.1 275.4 L484.1 275.1 L485.1 274.9" stroke="#2b737e" stroke-width="7" fill="none" stroke-linecap="round" stroke-linejoin="round"/>
<path d="M485.1 274.9 L487.1 274.5 L489.1 274.1 L490.0 274.0" stroke="#2d787e" stroke-width="7" fill="none" stroke-linecap="round" stroke-linejoin="round"/>
<path d="M490.0 274.0 L492.0 273.6 L494.0 273.2 L495.0 273.0" stroke="#2f7c7f" stroke-width="7" fill="none" stroke-linecap="round" stroke-linejoin="round"/>
<path d="M640.0 204.5 L639.6 202.5 L639.2 200.5" stroke="#2e7a7f" stroke-width="7" fill="none" stroke-linecap="round" stroke-linejoin="round"/>
<path d="M639.2 200.5 L638.8 198.6 L638.2 196.6 L637.9 195.7" stroke="#2d797f" stroke-width="7" fill="none" stroke-linecap="round" stroke-linejoin="round"/>
<path d="M637.9 195.7 L637.1 193.8 L636.2 192.0 L635.8 191.1" stroke="#2d777e" stroke-width="7" fill="none" stroke-linecap="round" stroke-linejoin="round"/>
<path d="M635.8 191.1 L634.8 189.4 L633.7 187.6 L633.1 186.8" stroke="#2d797f" stroke-width="7" fill="none" stroke-linecap="round" stroke-linejoin="round"/>
<path d="M633.1 186.8 L632.0 185.1 L630.8 183.5 L630.2 182.7" stroke="#2e7b7f" stroke-width="7" fill="none" stroke-linecap="round" stroke-linejoin="round"/>
<path d="M630.2 182.7 L628.9 181.2 L627.5 179.7 L626.8 178.9" stroke="#2d797f" stroke-width="7" fill="none" stroke-linecap="round" stroke-linejoin="round"/>
<path d="M626.8 178.9 L625.5 177.5 L624.1 175.9 L623.5 175.1" stroke="#2c767e" stroke-width="7" fill="none" stroke-linecap="round" stroke-linejoin="round"/>
<path d="M623.5 175.1 L622.4 173.4 L621.4 171.7 L620.6 169.8 L619.9 167.9 L619.4 166.0 L619.0 164.0 L618.8 162.0 L618.8 160.0 L618.8 158.0 L619.0 155.9 L619.1 153.9 L619.3 151.9 L619.4 149.9 L619.5 147.9 L619.5 146.9" stroke="#2b737e" stroke-width="7" fill="none" stroke-linecap="round" stroke-linejoin="round"/>
<path d="M619.5 146.9 L619.5 144.9 L619.4 142.8 L619.4 141.8" stroke="#296e7e" stroke-width="7" fill="none" stroke-linecap="round" stroke-linejoin="round"/>
<path d="M619.4 141.8 L619.3 139.8 L619.0 137.8" stroke="#25647d" stroke-width="7" fill="none" stroke-linecap="round" stroke-linejoin="round"/>
<path d="M619.0 137.8 L618.6 135.9 L617.7 134.0 L617.0 133.3" stroke="#215c7c" stroke-width="7" fill="none" stroke-linecap="round" stroke-linejoin="round"/>
<path d="M617.0 133.3 L615.3 132.4 L613.3 132.2 L612.2 132.3" stroke="#194679" stroke-width="7" fill="none" stroke-linecap="round" stroke-linejoin="round"/>
<path d="M612.2 132.3 L610.3 132.6 L608.3 133.0 L607.3 133.2" stroke="#225e7c" stroke-width="7" fill="none" stroke-linecap="round" stroke-linejoin="round"/>
<path d="M607.3 133.2 L605.3 133.6 L603.3 133.9 L602.3 134.1" stroke="#2b737e" stroke-width="7" fill="none" stroke-linecap="round" stroke-linejoin="round"/>
<path d="M602.3 134.1 L600.3 134.5 L598.3 134.9 L597.4 135.0" stroke="#2d787e" stroke-width="7" fill="none" stroke-linecap="round" stroke-linejoin="round"/>
<path d="M597.4 135.0 L595.4 135.4 L593.4 135.8 L592.4 136.0" stroke="#2f7c7f" stroke-width="7" fill="none" stroke-linecap="round" stroke-linejoin="round"/>
<path d="M640.0 204.5 L639.6 206.5 L639.2 208.5" stroke="#2e7a7f" stroke-width="7" fill="none" stroke-linecap="round" stroke-linejoin="round"/>
<path d="M639.2 208.5 L638.8 210.4 L638.2 212.4 L637.9 213.3" stroke="#2d797f" stroke-width="7" fill="none" stroke-linecap="round" stroke-linejoin="round"/>
<path d="M637.9 213.3 L637.1 215.2 L636.2 217.0 L635.8 217.9" stroke="#2d777e" stroke-width="7" fill="none" stroke-linecap="round" stroke-linejoin="round"/>
<path d="M635.8 217.9 L634.8 219.6 L633.7 221.4 L633.1 222.2" stroke="#2d797f" stroke-width="7" fill="none" stroke-linecap="round" stroke-linejoin="round"/>
<path d="M633.1 222.2 L632.0 223.9 L630.8 225.5 L630.2 226.3" stroke="#2e7b7f" stroke-width="7" fill="none" stroke-linecap="round" stroke-linejoin="round"/>
<path d="M630.2 226.3 L628.9 227.8 L627.5 229.3 L626.8 230.1" stroke="#2d797f" stroke-width="7" fill="none" stroke-linecap="round" stroke-linejoin="round"/>
<path d="M626.8 230.1 L625.5 231.5 L624.1 233.1 L623.5 233.9" stroke="#2c767e" stroke-width="7" fill="none" stroke-linecap="round" stroke-linejoin="round"/>
<path d="M623.5 233.9 L622.4 235.6 L621.4 237.3 L620.6 239.2 L619.9 241.1 L619.4 243.0 L619.0 245.0 L618.8 247.0 L618.8 249.0 L618.8 251.0 L619.0 253.1 L619.1 255.1 L619.3 257.1 L619.4 259.1 L619.5 261.1 L619.5 262.1" stroke="#2b737e" stroke-width="7" fill="none" stroke-linecap="round" stroke-linejoin="round"/>
<path d="M619.5 262.1 L619.5 264.1 L619.4 266.2 L619.4 267.2" stroke="#296e7e" stroke-width="7" fill="none" stroke-linecap="round" stroke-linejoin="round"/>
<path d="M619.4 267.2 L619.3 269.2 L619.0 271.2" stroke="#25647d" stroke-width="7" fill="none" stroke-linecap="round" stroke-linejoin="round"/>
<path d="M619.0 271.2 L618.6 273.1 L617.7 275.0 L617.0 275.7" stroke="#215c7c" stroke-width="7" fill="none" stroke-linecap="round" stroke-linejoin="round"/>
<path d="M617.0 275.7 L615.3 276.6 L613.3 276.8 L612.2 276.7" stroke="#194679" stroke-width="7" fill="none" stroke-linecap="round" stroke-linejoin="round"/>
<path d="M612.2 276.7 L610.3 276.4 L608.3 276.0 L607.3 275.8" stroke="#225e7c" stroke-width="7" fill="none" stroke-linecap="round" stroke-linejoin="round"/>
<path d="M607.3 275.8 L605.3 275.4 L603.3 275.1 L602.3 274.9" stroke="#2b737e" stroke-width="7" fill="none" stroke-linecap="round" stroke-linejoin="round"/>
<path d="M602.3 274.9 L600.3 274.5 L598.3 274.1 L597.4 274.0" stroke="#2d787e" stroke-width="7" fill="none" stroke-linecap="round" stroke-linejoin="round"/>
<path d="M597.4 274.0 L595.4 273.6 L593.4 273.2 L592.4 273.0" stroke="#2f7c7f" stroke-width="7" fill="none" stroke-linecap="round" stroke-linejoin="round"/>
<path d="M543.7 156.5 L542.2 157.8 L540.7 159.2" stroke="#3d905e" stroke-width="7" fill="none" stroke-linecap="round" stroke-linejoin="round"/>
<path d="M540.7 159.2 L539.2 160.5 L537.7 161.8 L537.0 162.5" stroke="#3f9358" stroke-width="7" fill="none" stroke-linecap="round" stroke-linejoin="round"/>
<path d="M537.0 162.5 L535.5 163.8 L534.0 165.2 L533.3 165.8" stroke="#429750" stroke-width="7" fill="none" stroke-linecap="round" stroke-linejoin="round"/>
<path d="M533.3 165.8 L531.8 167.2 L530.3 168.6 L529.6 169.2" stroke="#489a49" stroke-width="7" fill="none" stroke-linecap="round" stroke-linejoin="round"/>
<path d="M529.6 169.2 L528.1 170.6 L526.7 172.0 L526.0 172.7" stroke="#539d48" stroke-width="7" fill="none" stroke-linecap="round" stroke-linejoin="round"/>
<path d="M526.0 172.7 L524.6 174.1 L523.1 175.5" stroke="#5b9f4a" stroke-width="7" fill="none" stroke-linecap="round" stroke-linejoin="round"/>
<path d="M523.1 175.5 L521.7 176.9 L520.3 178.4 L519.6 179.1" stroke="#61a14c" stroke-width="7" fill="none" stroke-linecap="round" stroke-linejoin="round"/>
<path d="M519.6 179.1 L518.2 180.5 L516.8 181.9 L516.1 182.6" stroke="#67a34e" stroke-width="7" fill="none" stroke-linecap="round" stroke-linejoin="round"/>
<path d="M516.1 182.6 L514.7 184.0 L513.2 185.5 L512.5 186.2" stroke="#6ea450" stroke-width="7" fill="none" stroke-linecap="round" stroke-linejoin="round"/>
<path d="M512.5 186.2 L511.1 187.6 L509.7 189.0 L509.0 189.7" stroke="#74a551" stroke-width="7" fill="none" stroke-linecap="round" stroke-linejoin="round"/>
<path d="M543.7 252.5 L542.2 251.2 L540.7 249.8" stroke="#3d905e" stroke-width="7" fill="none" stroke-linecap="round" stroke-linejoin="round"/>
<path d="M540.7 249.8 L539.2 248.5 L537.7 247.2 L537.0 246.5" stroke="#3f9358" stroke-width="7" fill="none" stroke-linecap="round" stroke-linejoin="round"/>
<path d="M537.0 246.5 L535.5 245.2 L534.0 243.8 L533.3 243.2" stroke="#429750" stroke-width="7" fill="none" stroke-linecap="round" stroke-linejoin="round"/>
<path d="M533.3 243.2 L531.8 241.8 L530.3 240.4 L529.6 239.8" stroke="#489a49" stroke-width="7" fill="none" stroke-linecap="round" stroke-linejoin="round"/>
<path d="M529.6 239.8 L528.1 238.4 L526.7 237.0 L526.0 236.3" stroke="#539d48" stroke-width="7" fill="none" stroke-linecap="round" stroke-linejoin="round"/>
<path d="M526.0 236.3 L524.6 234.9 L523.1 233.5" stroke="#5b9f4a" stroke-width="7" fill="none" stroke-linecap="round" stroke-linejoin="round"/>
<path d="M523.1 233.5 L521.7 232.1 L520.3 230.6 L519.6 229.9" stroke="#61a14c" stroke-width="7" fill="none" stroke-linecap="round" stroke-linejoin="round"/>
<path d="M519.6 229.9 L518.2 228.5 L516.8 227.1 L516.1 226.4" stroke="#67a34e" stroke-width="7" fill="none" stroke-linecap="round" stroke-linejoin="round"/>
<path d="M516.1 226.4 L514.7 225.0 L513.2 223.5 L512.5 222.8" stroke="#6ea450" stroke-width="7" fill="none" stroke-linecap="round" stroke-linejoin="round"/>
<path d="M512.5 222.8 L511.1 221.4 L509.7 220.0 L509.0 219.3" stroke="#74a551" stroke-width="7" fill="none" stroke-linecap="round" stroke-linejoin="round"/>
<path d="M543.7 156.5 L545.2 157.8 L546.7 159.2" stroke="#3d905e" stroke-width="7" fill="none" stroke-linecap="round" stroke-linejoin="round"/>
<path d="M546.7 159.2 L548.2 160.5 L549.7 161.8 L550.4 162.5" stroke="#3f9358" stroke-width="7" fill="none" stroke-linecap="round" stroke-linejoin="round"/>
<path d="M550.4 162.5 L551.9 163.8 L553.4 165.2 L554.1 165.8" stroke="#429750" stroke-width="7" fill="none" stroke-linecap="round" stroke-linejoin="round"/>
<path d="M554.1 165.8 L555.6 167.2 L557.1 168.6 L557.8 169.2" stroke="#489a49" stroke-width="7" fill="none" stroke-linecap="round" stroke-linejoin="round"/>
<path d="M557.8 169.2 L559.3 170.6 L560.7 172.0 L561.4 172.7" stroke="#539d48" stroke-width="7" fill="none" stroke-linecap="round" stroke-linejoin="round"/>
<path d="M561.4 172.7 L562.8 174.1 L564.3 175.5" stroke="#5b9f4a" stroke-width="7" fill="none" stroke-linecap="round" stroke-linejoin="round"/>
<path d="M564.3 175.5 L565.7 176.9 L567.1 178.4 L567.8 179.1" stroke="#61a14c" stroke-width="7" fill="none" stroke-linecap="round" stroke-linejoin="round"/>
<path d="M567.8 179.1 L569.2 180.5 L570.6 181.9 L571.3 182.6" stroke="#67a34e" stroke-width="7" fill="none" stroke-linecap="round" stroke-linejoin="round"/>
<path d="M571.3 182.6 L572.7 184.0 L574.2 185.5 L574.9 186.2" stroke="#6ea450" stroke-width="7" fill="none" stroke-linecap="round" stroke-linejoin="round"/>
<path d="M574.9 186.2 L576.3 187.6 L577.7 189.0 L578.4 189.7" stroke="#74a551" stroke-width="7" fill="none" stroke-linecap="round" stroke-linejoin="round"/>
<path d="M543.7 252.5 L545.2 251.2 L546.7 249.8" stroke="#3d905e" stroke-width="7" fill="none" stroke-linecap="round" stroke-linejoin="round"/>
<path d="M546.7 249.8 L548.2 248.5 L549.7 247.2 L550.4 246.5" stroke="#3f9358" stroke-width="7" fill="none" stroke-linecap="round" stroke-linejoin="round"/>
<path d="M550.4 246.5 L551.9 245.2 L553.4 243.8 L554.1 243.2" stroke="#429750" stroke-width="7" fill="none" stroke-linecap="round" stroke-linejoin="round"/>
<path d="M554.1 243.2 L555.6 241.8 L557.1 240.4 L557.8 239.8" stroke="#489a49" stroke-width="7" fill="none" stroke-linecap="round" stroke-linejoin="round"/>
<path d="M557.8 239.8 L559.3 238.4 L560.7 237.0 L561.4 236.3" stroke="#539d48" stroke-width="7" fill="none" stroke-linecap="round" stroke-linejoin="round"/>
<path d="M561.4 236.3 L562.8 234.9 L564.3 233.5" stroke="#5b9f4a" stroke-width="7" fill="none" stroke-linecap="round" stroke-linejoin="round"/>
<path d="M564.3 233.5 L565.7 232.1 L567.1 230.6 L567.8 229.9" stroke="#61a14c" stroke-width="7" fill="none" stroke-linecap="round" stroke-linejoin="round"/>
<path d="M567.8 229.9 L569.2 228.5 L570.6 227.1 L571.3 226.4" stroke="#67a34e" stroke-width="7" fill="none" stroke-linecap="round" stroke-linejoin="round"/>
<path d="M571.3 226.4 L572.7 225.0 L574.2 223.5 L574.9 222.8" stroke="#6ea450" stroke-width="7" fill="none" stroke-linecap="round" stroke-linejoin="round"/>
<path d="M574.9 222.8 L576.3 221.4 L577.7 220.0 L578.4 219.3" stroke="#74a551" stroke-width="7" fill="none" stroke-linecap="round" stroke-linejoin="round"/>
<path d="M509.0 189.7 L507.3 190.9 L505.6 192.2" stroke="#70a550" stroke-width="7" fill="none" stroke-linecap="round" stroke-linejoin="round"/>
<path d="M505.6 192.2 L504.0 193.4 L502.3 194.7" stroke="#61a14c" stroke-width="7" fill="none" stroke-linecap="round" stroke-linejoin="round"/>
<path d="M502.3 194.7 L500.6 195.9 L499.0 197.2 L498.2 197.8" stroke="#539d48" stroke-width="7" fill="none" stroke-linecap="round" stroke-linejoin="round"/>
<path d="M498.2 197.8 L496.6 199.2 L495.1 200.6" stroke="#45994b" stroke-width="7" fill="none" stroke-linecap="round" stroke-linejoin="round"/>
<path d="M495.1 200.6 L493.7 202.1 L492.3 203.7 L491.6 204.5" stroke="#429651" stroke-width="7" fill="none" stroke-linecap="round" stroke-linejoin="round"/>
<path d="M509.0 219.3 L507.3 218.1 L505.6 216.8" stroke="#70a550" stroke-width="7" fill="none" stroke-linecap="round" stroke-linejoin="round"/>
<path d="M505.6 216.8 L504.0 215.6 L502.3 214.3" stroke="#61a14c" stroke-width="7" fill="none" stroke-linecap="round" stroke-linejoin="round"/>
<path d="M502.3 214.3 L500.6 213.1 L499.0 211.8 L498.2 211.2" stroke="#539d48" stroke-width="7" fill="none" stroke-linecap="round" stroke-linejoin="round"/>
<path d="M498.2 211.2 L496.6 209.8 L495.1 208.4" stroke="#45994b" stroke-width="7" fill="none" stroke-linecap="round" stroke-linejoin="round"/>
<path d="M495.1 208.4 L493.7 206.9 L492.3 205.3 L491.6 204.5" stroke="#429651" stroke-width="7" fill="none" stroke-linecap="round" stroke-linejoin="round"/>
<path d="M578.4 189.7 L580.1 190.9 L581.8 192.2" stroke="#70a550" stroke-width="7" fill="none" stroke-linecap="round" stroke-linejoin="round"/>
<path d="M581.8 192.2 L583.4 193.4 L585.1 194.7" stroke="#61a14c" stroke-width="7" fill="none" stroke-linecap="round" stroke-linejoin="round"/>
<path d="M585.1 194.7 L586.8 195.9 L588.4 197.2 L589.2 197.8" stroke="#539d48" stroke-width="7" fill="none" stroke-linecap="round" stroke-linejoin="round"/>
<path d="M589.2 197.8 L590.8 199.2 L592.3 200.6" stroke="#45994b" stroke-width="7" fill="none" stroke-linecap="round" stroke-linejoin="round"/>
<path d="M592.3 200.6 L593.7 202.1 L595.1 203.7 L595.8 204.5" stroke="#429651" stroke-width="7" fill="none" stroke-linecap="round" stroke-linejoin="round"/>
<path d="M578.4 219.3 L580.1 218.1 L581.8 216.8" stroke="#70a550" stroke-width="7" fill="none" stroke-linecap="round" stroke-linejoin="round"/>
<path d="M581.8 216.8 L583.4 215.6 L585.1 214.3" stroke="#61a14c" stroke-width="7" fill="none" stroke-linecap="round" stroke-linejoin="round"/>
<path d="M585.1 214.3 L586.8 213.1 L588.4 211.8 L589.2 211.2" stroke="#539d48" stroke-width="7" fill="none" stroke-linecap="round" stroke-linejoin="round"/>
<path d="M589.2 211.2 L590.8 209.8 L592.3 208.4" stroke="#45994b" stroke-width="7" fill="none" stroke-linecap="round" stroke-linejoin="round"/>
<path d="M592.3 208.4 L593.7 206.9 L595.1 205.3 L595.8 204.5" stroke="#429651" stroke-width="7" fill="none" stroke-linecap="round" stroke-linejoin="round"/>
<circle cx="653.9" cy="333.0" r="3.4" fill="#143678"/>
<circle cx="653.9" cy="76.0" r="3.4" fill="#143678"/>
<circle cx="433.5" cy="333.0" r="3.4" fill="#143678"/>
<circle cx="433.5" cy="76.0" r="3.4" fill="#143678"/>
<path d="M543.7 27.5 L433.7 64.7 L433.7 344.3 L543.7 381.5 L653.7 344.3 L653.7 64.7 Z" stroke="#2b2b2b" stroke-width="2.6" fill="none" stroke-linejoin="miter"/>
<line x1="197.2" y1="28.5" x2="197.2" y2="204.5" stroke="#17a1d5" stroke-width="2.2" stroke-dasharray="2.4 2.9"/>
<line x1="197.2" y1="155.0" x2="307.2" y2="154.8" stroke="#17a1d5" stroke-width="2.2" stroke-dasharray="2.4 2.9"/>
<line x1="197.2" y1="204.5" x2="307.2" y2="204.5" stroke="#17a1d5" stroke-width="2.2" stroke-dasharray="2.4 2.9"/>
<circle cx="197.2" cy="28.5" r="3.9" fill="#17a1d5" stroke="#fff" stroke-width="1.2"/>
<circle cx="197.2" cy="155.0" r="3.9" fill="#17a1d5" stroke="#fff" stroke-width="1.2"/>
<circle cx="197.2" cy="204.5" r="3.9" fill="#17a1d5" stroke="#fff" stroke-width="1.2"/>
<circle cx="307.2" cy="154.8" r="3.9" fill="#17a1d5" stroke="#fff" stroke-width="1.2"/>
<circle cx="307.2" cy="204.5" r="3.9" fill="#17a1d5" stroke="#fff" stroke-width="1.2"/>
<text x="189.7" y="16.6" font-size="24" fill="#17a1d5" font-weight="bold" textLength="16.6" lengthAdjust="spacingAndGlyphs">Y</text>
<text x="174.6" y="160.1" font-size="24" fill="#17a1d5" font-weight="bold" textLength="13.8" lengthAdjust="spacingAndGlyphs">P</text>
<text x="174.0" y="215.3" font-size="24" fill="#17a1d5" font-weight="bold" textLength="12.9" lengthAdjust="spacingAndGlyphs">&#915;</text>
<text x="317.9" y="158.0" font-size="24" fill="#17a1d5" font-weight="bold" textLength="18.4" lengthAdjust="spacingAndGlyphs">Q</text>
<text x="320.1" y="216.0" font-size="24" fill="#17a1d5" font-weight="bold" textLength="15.9" lengthAdjust="spacingAndGlyphs">X</text>
<defs><linearGradient id="cba" x1="0" x2="1" y1="0" y2="0"><stop offset="0.000" stop-color="#2e0808"/><stop offset="0.025" stop-color="#340a08"/><stop offset="0.050" stop-color="#390c09"/><stop offset="0.075" stop-color="#3f0e09"/><stop offset="0.100" stop-color="#44100a"/><stop offset="0.125" stop-color="#4a120a"/><stop offset="0.150" stop-color="#50150b"/><stop offset="0.175" stop-color="#57180c"/><stop offset="0.200" stop-color="#5d1a0c"/><stop offset="0.225" stop-color="#641d0d"/><stop offset="0.250" stop-color="#6a200e"/><stop offset="0.275" stop-color="#75270f"/><stop offset="0.300" stop-color="#802e10"/><stop offset="0.325" stop-color="#8a3612"/><stop offset="0.350" stop-color="#953d13"/><stop offset="0.375" stop-color="#a04414"/><stop offset="0.400" stop-color="#ae5015"/><stop offset="0.425" stop-color="#bd5c16"/><stop offset="0.450" stop-color="#cb6816"/><stop offset="0.475" stop-color="#da7417"/><stop offset="0.500" stop-color="#e88018"/><stop offset="0.525" stop-color="#ea8820"/><stop offset="0.550" stop-color="#ec9028"/><stop offset="0.575" stop-color="#ee9830"/><stop offset="0.600" stop-color="#f0a038"/><stop offset="0.625" stop-color="#f2a840"/><stop offset="0.650" stop-color="#f3af4a"/><stop offset="0.675" stop-color="#f4b653"/><stop offset="0.700" stop-color="#f6be5d"/><stop offset="0.725" stop-color="#f7c566"/><stop offset="0.750" stop-color="#f8cc70"/><stop offset="0.775" stop-color="#f9d279"/><stop offset="0.800" stop-color="#fad782"/><stop offset="0.825" stop-color="#fadd8a"/><stop offset="0.850" stop-color="#fbe293"/><stop offset="0.875" stop-color="#fce89c"/><stop offset="0.900" stop-color="#fdeca4"/><stop offset="0.925" stop-color="#fdf0ac"/><stop offset="0.950" stop-color="#fef4b4"/><stop offset="0.975" stop-color="#fef8bc"/><stop offset="1.000" stop-color="#fffcc4"/></linearGradient></defs>
<rect x="75.1" y="469.9" width="244.50000000000003" height="12.300000000000011" fill="url(#cba)" stroke="#3a3a3a" stroke-width="1.3"/>
<line x1="75.1" y1="482.2" x2="75.1" y2="487.7" stroke="#333" stroke-width="1.6"/>
<text x="75.1" y="513.8" font-size="20" text-anchor="middle" fill="#333333" textLength="12.7" lengthAdjust="spacingAndGlyphs" >0</text>
<line x1="156.6" y1="482.2" x2="156.6" y2="487.7" stroke="#333" stroke-width="1.6"/>
<text x="156.6" y="513.8" font-size="20" text-anchor="middle" fill="#333333" textLength="25.4" lengthAdjust="spacingAndGlyphs" >30</text>
<line x1="238.1" y1="482.2" x2="238.1" y2="487.7" stroke="#333" stroke-width="1.6"/>
<text x="238.1" y="513.8" font-size="20" text-anchor="middle" fill="#333333" textLength="25.4" lengthAdjust="spacingAndGlyphs" >60</text>
<line x1="319.6" y1="482.2" x2="319.6" y2="487.7" stroke="#333" stroke-width="1.6"/>
<text x="319.6" y="513.8" font-size="20" text-anchor="middle" fill="#333333" textLength="25.4" lengthAdjust="spacingAndGlyphs" >90</text>
<defs><linearGradient id="cbb" x1="0" x2="1" y1="0" y2="0"><stop offset="0.000" stop-color="#000000"/><stop offset="0.025" stop-color="#040064"/><stop offset="0.050" stop-color="#080b75"/><stop offset="0.075" stop-color="#0d1c76"/><stop offset="0.100" stop-color="#112977"/><stop offset="0.125" stop-color="#153978"/><stop offset="0.150" stop-color="#194579"/><stop offset="0.175" stop-color="#1d517b"/><stop offset="0.200" stop-color="#225e7c"/><stop offset="0.225" stop-color="#26687d"/><stop offset="0.250" stop-color="#2b737e"/><stop offset="0.275" stop-color="#2f7d7f"/><stop offset="0.300" stop-color="#32827b"/><stop offset="0.325" stop-color="#358672"/><stop offset="0.350" stop-color="#388a6b"/><stop offset="0.375" stop-color="#3b8e62"/><stop offset="0.400" stop-color="#3e915b"/><stop offset="0.425" stop-color="#419554"/><stop offset="0.450" stop-color="#44994b"/><stop offset="0.475" stop-color="#4e9c47"/><stop offset="0.500" stop-color="#5ea04b"/><stop offset="0.525" stop-color="#6ba44f"/><stop offset="0.550" stop-color="#78a652"/><stop offset="0.575" stop-color="#84a954"/><stop offset="0.600" stop-color="#8eac56"/><stop offset="0.625" stop-color="#99af58"/><stop offset="0.650" stop-color="#a3b25a"/><stop offset="0.675" stop-color="#adb45c"/><stop offset="0.700" stop-color="#b7b65e"/><stop offset="0.725" stop-color="#bab160"/><stop offset="0.750" stop-color="#bdab62"/><stop offset="0.775" stop-color="#bfa664"/><stop offset="0.800" stop-color="#c4a46f"/><stop offset="0.825" stop-color="#ccaa80"/><stop offset="0.850" stop-color="#d3af8f"/><stop offset="0.875" stop-color="#dab7a0"/><stop offset="0.900" stop-color="#e1bfb0"/><stop offset="0.925" stop-color="#e8cbc2"/><stop offset="0.950" stop-color="#f0dad7"/><stop offset="0.975" stop-color="#f6eae9"/><stop offset="1.000" stop-color="#fdfbfb"/></linearGradient></defs>
<rect x="421.5" y="469.9" width="244.39999999999998" height="12.300000000000011" fill="url(#cbb)" stroke="#3a3a3a" stroke-width="1.3"/>
<line x1="421.5" y1="482.2" x2="421.5" y2="487.7" stroke="#333" stroke-width="1.6"/>
<text x="421.5" y="513.8" font-size="20" text-anchor="middle" fill="#333333" textLength="31.8" lengthAdjust="spacingAndGlyphs" >0.0</text>
<line x1="503.0" y1="482.2" x2="503.0" y2="487.7" stroke="#333" stroke-width="1.6"/>
<text x="503.0" y="513.8" font-size="20" text-anchor="middle" fill="#333333" textLength="31.8" lengthAdjust="spacingAndGlyphs" >0.5</text>
<line x1="584.4" y1="482.2" x2="584.4" y2="487.7" stroke="#333" stroke-width="1.6"/>
<text x="584.4" y="513.8" font-size="20" text-anchor="middle" fill="#333333" textLength="31.8" lengthAdjust="spacingAndGlyphs" >1.0</text>
<line x1="665.9" y1="482.2" x2="665.9" y2="487.7" stroke="#333" stroke-width="1.6"/>
<text x="665.9" y="513.8" font-size="20" text-anchor="middle" fill="#333333" textLength="31.8" lengthAdjust="spacingAndGlyphs" >1.5</text>
<text x="151.1" y="543.9" font-size="22" fill="#333333" textLength="95.3" lengthAdjust="spacingAndGlyphs"><tspan font-style="italic">&#916;</tspan><tspan font-size="14" dy="5">R</tspan><tspan dy="-5"> (meV)</tspan></text>
<text x="474.1" y="545.3" font-size="22" fill="#333333" textLength="155.6" lengthAdjust="spacingAndGlyphs">|<tspan font-weight="bold">v</tspan><tspan font-size="14" dy="5">F</tspan><tspan dy="-5">| (10</tspan><tspan font-size="15" dy="-9">6</tspan><tspan dy="9"> m&#183;s</tspan><tspan font-size="15" dy="-9">&#8722;1</tspan><tspan dy="9">)</tspan></text>
<rect x="66.6" y="708.0" width="8.8" height="15.4" fill="#3a0c09" stroke="#2a2a2a" stroke-width="0.9"/>
<rect x="75.4" y="654.2" width="8.8" height="69.2" fill="#47110a" stroke="#2a2a2a" stroke-width="0.9"/>
<rect x="84.3" y="627.0" width="8.8" height="96.4" fill="#55170b" stroke="#2a2a2a" stroke-width="0.9"/>
<rect x="93.1" y="637.0" width="8.8" height="86.4" fill="#631d0d" stroke="#2a2a2a" stroke-width="0.9"/>
<rect x="101.9" y="660.0" width="8.8" height="63.4" fill="#76280f" stroke="#2a2a2a" stroke-width="0.9"/>
<rect x="110.7" y="702.7" width="8.8" height="20.7" fill="#8e3812" stroke="#2a2a2a" stroke-width="0.9"/>
<rect x="119.5" y="707.4" width="8.8" height="16.0" fill="#a84b14" stroke="#2a2a2a" stroke-width="0.9"/>
<rect x="128.4" y="710.6" width="8.8" height="12.8" fill="#c86516" stroke="#2a2a2a" stroke-width="0.9"/>
<rect x="137.2" y="692.4" width="8.8" height="31.0" fill="#e88018" stroke="#2a2a2a" stroke-width="0.9"/>
<rect x="146.0" y="709.5" width="8.8" height="13.9" fill="#ec922a" stroke="#2a2a2a" stroke-width="0.9"/>
<rect x="154.8" y="698.3" width="8.8" height="25.1" fill="#f1a43c" stroke="#2a2a2a" stroke-width="0.9"/>
<rect x="163.7" y="701.7" width="8.8" height="21.7" fill="#f4b450" stroke="#2a2a2a" stroke-width="0.9"/>
<rect x="172.5" y="708.3" width="8.8" height="15.1" fill="#f7c465" stroke="#2a2a2a" stroke-width="0.9"/>
<rect x="181.3" y="703.6" width="8.8" height="19.8" fill="#f9d27a" stroke="#2a2a2a" stroke-width="0.9"/>
<rect x="190.1" y="696.0" width="8.8" height="27.4" fill="#fbdf8d" stroke="#2a2a2a" stroke-width="0.9"/>
<rect x="198.9" y="702.6" width="8.8" height="20.8" fill="#fceaa0" stroke="#2a2a2a" stroke-width="0.9"/>
<rect x="207.8" y="699.6" width="8.8" height="23.8" fill="#fef3b2" stroke="#2a2a2a" stroke-width="0.9"/>
<rect x="62.2" y="607.4" width="158.8" height="116.0" fill="none" stroke="#3a3a3a" stroke-width="1.4"/>
<line x1="56.7" y1="607.4" x2="62.2" y2="607.4" stroke="#333" stroke-width="1.6"/>
<text x="46.7" y="615.2" font-size="20.5" text-anchor="end" fill="#333333" textLength="41.0" lengthAdjust="spacingAndGlyphs" >0.04</text>
<line x1="56.7" y1="665.4" x2="62.2" y2="665.4" stroke="#333" stroke-width="1.6"/>
<text x="46.7" y="673.2" font-size="20.5" text-anchor="end" fill="#333333" textLength="41.0" lengthAdjust="spacingAndGlyphs" >0.02</text>
<line x1="56.7" y1="723.4" x2="62.2" y2="723.4" stroke="#333" stroke-width="1.6"/>
<text x="46.7" y="731.2" font-size="20.5" text-anchor="end" fill="#333333" textLength="41.0" lengthAdjust="spacingAndGlyphs" >0.00</text>
<line x1="62.2" y1="723.4" x2="62.2" y2="728.9" stroke="#333" stroke-width="1.6"/>
<text x="62.2" y="755.5" font-size="20.5" text-anchor="middle" fill="#333333" textLength="13.0" lengthAdjust="spacingAndGlyphs" >0</text>
<line x1="115.1" y1="723.4" x2="115.1" y2="728.9" stroke="#333" stroke-width="1.6"/>
<text x="115.1" y="755.5" font-size="20.5" text-anchor="middle" fill="#333333" textLength="26.1" lengthAdjust="spacingAndGlyphs" >30</text>
<line x1="168.1" y1="723.4" x2="168.1" y2="728.9" stroke="#333" stroke-width="1.6"/>
<text x="168.1" y="755.5" font-size="20.5" text-anchor="middle" fill="#333333" textLength="26.1" lengthAdjust="spacingAndGlyphs" >60</text>
<line x1="221.0" y1="723.4" x2="221.0" y2="728.9" stroke="#333" stroke-width="1.6"/>
<text x="221.0" y="755.5" font-size="20.5" text-anchor="middle" fill="#333333" textLength="26.1" lengthAdjust="spacingAndGlyphs" >90</text>
<text x="13.0" y="585.5" font-size="29.5" fill="#000" font-weight="bold" textLength="14.0" lengthAdjust="spacingAndGlyphs">c</text>
<text x="69.8" y="593.6" font-size="17" fill="#111" textLength="150.2" lengthAdjust="spacingAndGlyphs">Probability (meV<tspan font-size="12" dy="-7">&#8722;1</tspan><tspan dy="7">)</tspan></text>
<text x="93.8" y="782.5" font-size="22" fill="#333333" textLength="94.1" lengthAdjust="spacingAndGlyphs"><tspan font-style="italic">&#916;</tspan><tspan font-size="14" dy="5">R</tspan><tspan dy="-5"> (meV)</tspan></text>
<rect x="328.0" y="718.8" width="6.8" height="4.6" fill="#999999" stroke="#2a2a2a" stroke-width="0.9"/>
<rect x="334.8" y="720.9" width="6.8" height="2.5" fill="#999999" stroke="#2a2a2a" stroke-width="0.9"/>
<rect x="341.6" y="715.6" width="6.8" height="7.8" fill="#999999" stroke="#2a2a2a" stroke-width="0.9"/>
<rect x="348.3" y="714.3" width="6.8" height="9.1" fill="#999999" stroke="#2a2a2a" stroke-width="0.9"/>
<rect x="355.1" y="714.3" width="6.8" height="9.1" fill="#999999" stroke="#2a2a2a" stroke-width="0.9"/>
<rect x="361.9" y="698.0" width="6.8" height="25.4" fill="#999999" stroke="#2a2a2a" stroke-width="0.9"/>
<rect x="368.6" y="616.3" width="6.8" height="107.1" fill="#999999" stroke="#2a2a2a" stroke-width="0.9"/>
<rect x="375.4" y="697.2" width="6.8" height="26.2" fill="#999999" stroke="#2a2a2a" stroke-width="0.9"/>
<rect x="382.1" y="714.3" width="6.8" height="9.1" fill="#999999" stroke="#2a2a2a" stroke-width="0.9"/>
<rect x="388.9" y="715.1" width="6.8" height="8.3" fill="#999999" stroke="#2a2a2a" stroke-width="0.9"/>
<rect x="395.7" y="715.9" width="6.8" height="7.5" fill="#999999" stroke="#2a2a2a" stroke-width="0.9"/>
<rect x="402.4" y="720.6" width="6.8" height="2.8" fill="#999999" stroke="#2a2a2a" stroke-width="0.9"/>
<rect x="409.2" y="718.8" width="6.8" height="4.6" fill="#999999" stroke="#2a2a2a" stroke-width="0.9"/>
<rect x="290.5" y="607.4" width="162.9" height="116.0" fill="none" stroke="#3a3a3a" stroke-width="1.4"/>
<line x1="285.0" y1="607.4" x2="290.5" y2="607.4" stroke="#333" stroke-width="1.6"/>
<text x="275.0" y="615.2" font-size="20.5" text-anchor="end" fill="#333333" textLength="26.1" lengthAdjust="spacingAndGlyphs" >10</text>
<line x1="285.0" y1="665.4" x2="290.5" y2="665.4" stroke="#333" stroke-width="1.6"/>
<text x="275.0" y="673.2" font-size="20.5" text-anchor="end" fill="#333333" textLength="13.0" lengthAdjust="spacingAndGlyphs" >5</text>
<line x1="285.0" y1="723.4" x2="290.5" y2="723.4" stroke="#333" stroke-width="1.6"/>
<text x="275.0" y="731.2" font-size="20.5" text-anchor="end" fill="#333333" textLength="13.0" lengthAdjust="spacingAndGlyphs" >0</text>
<line x1="304.4" y1="723.4" x2="304.4" y2="728.9" stroke="#333" stroke-width="1.6"/>
<text x="304.4" y="755.5" font-size="20.5" text-anchor="middle" fill="#333333" textLength="43.5" lengthAdjust="spacingAndGlyphs" >&#8722;0.5</text>
<line x1="372.0" y1="723.4" x2="372.0" y2="728.9" stroke="#333" stroke-width="1.6"/>
<text x="372.0" y="755.5" font-size="20.5" text-anchor="middle" fill="#333333" textLength="30.0" lengthAdjust="spacingAndGlyphs" >0.0</text>
<line x1="439.6" y1="723.4" x2="439.6" y2="728.9" stroke="#333" stroke-width="1.6"/>
<text x="439.6" y="755.5" font-size="20.5" text-anchor="middle" fill="#333333" textLength="29.0" lengthAdjust="spacingAndGlyphs" >0.5</text>
<text x="259.9" y="585.6" font-size="28.5" fill="#000" font-weight="bold" textLength="17.0" lengthAdjust="spacingAndGlyphs">d</text>
<text x="295.8" y="593.3" font-size="17" text-anchor="start" fill="#111" textLength="82.3" lengthAdjust="spacingAndGlyphs" >Probability</text>
<text x="366.9" y="779.5" font-size="22" fill="#333333" textLength="19.6" lengthAdjust="spacingAndGlyphs"><tspan font-style="italic">s</tspan><tspan font-size="14" dy="5">z</tspan></text>
<rect x="531.0" y="698.0" width="10.7" height="25.4" fill="#163d78" stroke="#2a2a2a" stroke-width="0.9"/>
<rect x="541.7" y="662.5" width="10.7" height="60.9" fill="#225e7c" stroke="#2a2a2a" stroke-width="0.9"/>
<rect x="552.4" y="621.8" width="10.7" height="101.6" fill="#2e7a7f" stroke="#2a2a2a" stroke-width="0.9"/>
<rect x="563.1" y="647.3" width="10.7" height="76.1" fill="#368770" stroke="#2a2a2a" stroke-width="0.9"/>
<rect x="573.8" y="687.2" width="10.7" height="36.2" fill="#3e915b" stroke="#2a2a2a" stroke-width="0.9"/>
<rect x="584.5" y="704.3" width="10.7" height="19.1" fill="#4b9b48" stroke="#2a2a2a" stroke-width="0.9"/>
<rect x="595.1" y="700.1" width="10.7" height="23.3" fill="#6fa550" stroke="#2a2a2a" stroke-width="0.9"/>
<rect x="605.8" y="677.5" width="10.7" height="45.9" fill="#8eac56" stroke="#2a2a2a" stroke-width="0.9"/>
<rect x="616.5" y="678.0" width="10.7" height="45.4" fill="#aab35b" stroke="#2a2a2a" stroke-width="0.9"/>
<rect x="627.2" y="681.5" width="10.7" height="41.9" fill="#bbaf61" stroke="#2a2a2a" stroke-width="0.9"/>
<rect x="637.9" y="674.4" width="10.7" height="49.0" fill="#c4a46f" stroke="#2a2a2a" stroke-width="0.9"/>
<rect x="648.6" y="695.4" width="10.7" height="28.0" fill="#d8b49a" stroke="#2a2a2a" stroke-width="0.9"/>
<rect x="659.3" y="703.3" width="10.7" height="20.1" fill="#ebd0c9" stroke="#2a2a2a" stroke-width="0.9"/>
<rect x="515.0" y="607.4" width="160.3" height="116.0" fill="none" stroke="#3a3a3a" stroke-width="1.4"/>
<line x1="509.5" y1="607.4" x2="515.0" y2="607.4" stroke="#333" stroke-width="1.6"/>
<text x="499.5" y="615.2" font-size="20.5" text-anchor="end" fill="#333333" textLength="13.0" lengthAdjust="spacingAndGlyphs" >2</text>
<line x1="509.5" y1="665.4" x2="515.0" y2="665.4" stroke="#333" stroke-width="1.6"/>
<text x="499.5" y="673.2" font-size="20.5" text-anchor="end" fill="#333333" textLength="13.0" lengthAdjust="spacingAndGlyphs" >1</text>
<line x1="509.5" y1="723.4" x2="515.0" y2="723.4" stroke="#333" stroke-width="1.6"/>
<text x="499.5" y="731.2" font-size="20.5" text-anchor="end" fill="#333333" textLength="13.0" lengthAdjust="spacingAndGlyphs" >0</text>
<line x1="515.0" y1="723.4" x2="515.0" y2="728.9" stroke="#333" stroke-width="1.6"/>
<text x="515.0" y="755.5" font-size="20.5" text-anchor="middle" fill="#333333" textLength="32.6" lengthAdjust="spacingAndGlyphs" >0.0</text>
<line x1="568.4" y1="723.4" x2="568.4" y2="728.9" stroke="#333" stroke-width="1.6"/>
<text x="568.4" y="755.5" font-size="20.5" text-anchor="middle" fill="#333333" textLength="32.6" lengthAdjust="spacingAndGlyphs" >0.5</text>
<line x1="621.9" y1="723.4" x2="621.9" y2="728.9" stroke="#333" stroke-width="1.6"/>
<text x="621.9" y="755.5" font-size="20.5" text-anchor="middle" fill="#333333" textLength="32.6" lengthAdjust="spacingAndGlyphs" >1.0</text>
<line x1="675.3" y1="723.4" x2="675.3" y2="728.9" stroke="#333" stroke-width="1.6"/>
<text x="675.3" y="755.5" font-size="20.5" text-anchor="middle" fill="#333333" textLength="32.6" lengthAdjust="spacingAndGlyphs" >1.5</text>
<text x="489.3" y="585.0" font-size="29.5" fill="#000" font-weight="bold" textLength="17.1" lengthAdjust="spacingAndGlyphs">e</text>
<text x="522.8" y="593.6" font-size="17" fill="#111" textLength="151.6" lengthAdjust="spacingAndGlyphs">Probability (&#956;s&#183;m<tspan font-size="12" dy="-7">&#8722;1</tspan><tspan dy="7">)</tspan></text>
<text x="523.0" y="781.5" font-size="22" fill="#333333" textLength="155.7" lengthAdjust="spacingAndGlyphs">|<tspan font-weight="bold">v</tspan><tspan font-size="14" dy="5">F</tspan><tspan dy="-5">| (10</tspan><tspan font-size="15" dy="-9">6</tspan><tspan dy="9"> m&#183;s</tspan><tspan font-size="15" dy="-9">&#8722;1</tspan><tspan dy="9">)</tspan></text>
<defs><clipPath id="cf1"><rect x="94.8" y="815.1" width="361.2" height="197.8"/></clipPath><clipPath id="cf2"><rect x="474.8" y="815.1" width="138.0" height="197.8"/></clipPath></defs>
<g clip-path="url(#cf1)">
<line x1="94.8" y1="881.0" x2="456.0" y2="881.0" stroke="#555" stroke-width="1.1" stroke-dasharray="1.6 2.6"/>
<path d="M129.4 812.0 L129.7 815.5 L129.9 819.1 L130.1 822.6 L130.4 826.2 L130.6 829.7 L130.9 833.2 L131.2 836.6 L131.5 840.0 L131.8 843.3 L132.2 846.6 L132.6 849.9 L133.0 853.2 L133.4 856.3 L133.8 859.4 L134.1 862.3 L134.5 865.0 L134.8 867.5 L135.1 869.7 L135.4 871.7 L135.7 873.6 L136.0 875.5 L136.4 877.5 L136.7 879.6 L137.1 882.0 L137.5 884.6 L138.0 887.2 L138.5 890.0 L139.0 892.8 L139.5 895.8 L140.0 898.8 L140.5 901.9 L141.0 905.0 L141.5 908.3 L141.9 911.8 L142.4 915.4 L142.9 919.0 L143.3 922.6 L143.8 926.2 L144.2 929.5 L144.7 932.6 L145.2 935.4 L145.6 938.1 L146.1 940.7 L146.5 943.1 L147.0 945.4 L147.5 947.7 L148.0 949.8 L148.5 952.0 L149.0 954.1 L149.6 956.1 L150.1 958.1 L150.7 960.0 L151.2 961.8 L151.8 963.6 L152.4 965.3 L153.0 967.0 L153.6 968.7 L154.2 970.3 L154.9 971.9 L155.5 973.5 L156.2 975.0 L156.8 976.4 L157.4 977.8 L158.0 979.0 L158.6 980.1 L159.1 981.1 L159.6 982.0 L160.0 982.8 L160.5 983.6 L161.1 984.4 L161.7 985.2 L162.3 986.0 L163.0 986.8 L163.7 987.5 L164.4 988.2 L165.2 988.9 L166.0 989.6 L166.9 990.4 L167.9 991.4 L169.0 992.6 L170.2 994.0 L171.6 995.8 L173.1 997.7 L174.6 999.7 L176.2 1001.6 L177.7 1003.5 L179.3 1005.1 L180.7 1006.5 L182.1 1007.6 L183.4 1008.4 L184.7 1009.0 L186.0 1009.6 L187.3 1010.0 L188.6 1010.5 L189.9 1010.9 L191.2 1011.5" stroke="#d0d0d0" stroke-width="2.8" fill="none" stroke-linecap="round" stroke-linejoin="round"/>
<path d="M191.2 1011.5 L193.0 1008.9 L194.9 1006.3 L196.7 1003.7 L198.5 1001.2 L200.4 998.6 L202.2 996.0 L204.1 993.4 L206.0 990.8 L208.0 988.2 L209.9 985.6 L211.9 983.0 L214.0 980.4 L216.0 977.8 L218.0 975.2 L220.1 972.6 L222.1 970.0 L224.1 967.4 L226.1 964.7 L228.1 962.0 L230.2 959.3 L232.2 956.6 L234.2 954.0 L236.2 951.5 L238.2 949.0 L240.2 946.6 L242.4 944.1 L244.5 941.7 L246.6 939.3 L248.7 937.0 L250.6 934.9 L252.5 933.0 L254.2 931.4 L255.8 930.0 L257.2 928.9 L258.5 928.0 L259.8 927.2 L260.9 926.6 L262.0 926.0 L263.0 925.5 L264.0 925.0 L264.9 924.5 L265.6 924.1 L266.3 923.7 L266.9 923.4 L267.5 923.2 L268.0 923.1 L268.6 923.1 L269.2 923.2 L269.8 923.4 L270.4 923.7 L271.0 924.2 L271.6 924.7 L272.2 925.3 L272.8 926.1 L273.4 927.0 L274.0 928.0 L274.6 929.2 L275.2 930.6 L275.8 932.2 L276.5 933.9 L277.1 935.6 L277.7 937.4 L278.4 939.2 L279.0 941.0 L279.7 942.9 L280.4 945.1 L281.1 947.5 L281.8 949.8 L282.5 951.9 L283.2 953.7 L283.8 955.1 L284.4 955.9 L284.9 956.0 L285.4 955.6 L285.9 954.8 L286.3 953.6 L286.7 952.3 L287.1 950.8 L287.5 949.3 L288.0 948.0 L288.5 946.7 L288.9 945.4 L289.4 943.9 L289.8 942.5 L290.3 940.9 L290.8 939.3 L291.4 937.7 L292.0 936.0 L292.7 934.2 L293.5 932.3 L294.3 930.2 L295.1 928.1 L296.0 926.1 L296.8 924.2 L297.6 922.4 L298.4 920.9 L299.1 919.6 L299.8 918.5 L300.5 917.6 L301.2 916.7 L301.9 916.0 L302.6 915.3 L303.3 914.6 L304.0 914.0 L304.7 913.4 L305.5 912.8 L306.2 912.3 L307.0 911.9 L307.7 911.5 L308.5 911.1 L309.2 910.8 L310.0 910.4 L310.7 910.0 L311.5 909.7 L312.2 909.3 L312.9 909.0 L313.6 908.7 L314.4 908.4 L315.3 908.3 L316.2 908.2 L317.2 908.1 L318.3 908.0 L319.4 907.9 L320.6 907.8 L321.9 907.9 L323.2 908.3 L324.5 909.0 L326.0 910.0 L327.6 911.5 L329.3 913.5 L331.0 915.7 L332.9 918.2 L334.7 920.8 L336.5 923.4 L338.3 925.9 L340.0 928.2 L341.6 930.3 L343.2 932.3 L344.7 934.3 L346.2 936.2 L347.7 938.2 L349.2 940.1 L350.6 942.0 L352.0 944.0 L353.3 946.0 L354.5 947.9 L355.7 949.8 L356.9 951.7 L358.0 953.7 L359.3 955.7 L360.6 957.8 L362.0 960.0 L363.6 962.3 L365.2 964.8 L367.0 967.4 L368.8 970.1 L370.6 972.7 L372.4 975.3 L374.2 977.7 L376.0 980.0 L377.7 982.2 L379.4 984.2 L381.0 986.3 L382.6 988.2 L384.3 990.0 L386.1 991.8 L388.0 993.4 L390.0 995.0 L392.1 996.4 L394.3 997.7 L396.6 998.9 L399.0 1000.1 L401.5 1001.1 L404.2 1002.1 L407.0 1003.1 L410.0 1004.0 L413.3 1004.9 L417.0 1005.8 L421.0 1006.6 L425.0 1007.4 L429.0 1008.2 L433.0 1008.9 L436.7 1009.5 L440.0 1010.0 L443.0 1010.4 L445.7 1010.8 L448.2 1011.0 L450.6 1011.2 L452.9 1011.4 L455.2 1011.6 L457.6 1011.8 L460.0 1012.0" stroke="#d0d0d0" stroke-width="2.8" fill="none" stroke-linecap="round" stroke-linejoin="round"/>
<path d="M110.8 921.7 L111.5 917.7 L112.1 913.7 L112.8 909.6 L113.4 905.6 L114.1 901.6 L114.7 897.7 L115.4 893.8 L116.0 890.0 L116.6 886.2 L117.3 882.4 L117.9 878.7 L118.6 875.0 L119.2 871.4 L119.8 868.0 L120.4 864.9 L121.0 862.0 L121.6 859.4 L122.1 857.1 L122.6 854.9 L123.2 853.0 L123.7 851.2 L124.1 849.6 L124.6 848.2 L125.0 847.0 L125.4 846.0 L125.7 845.1 L126.0 844.5 L126.3 844.0 L126.6 843.7 L126.9 843.5 L127.2 843.5 L127.5 843.5 L127.8 843.6 L128.1 843.8 L128.4 844.2 L128.7 844.7 L129.0 845.3 L129.3 846.0 L129.7 846.9 L130.0 848.0 L130.4 849.3 L130.7 850.7 L131.1 852.4 L131.5 854.2 L131.9 856.0 L132.2 858.0 L132.6 860.0 L133.0 862.0 L133.4 864.0 L133.8 866.2 L134.1 868.4 L134.5 870.6 L134.9 872.9 L135.2 875.3 L135.6 877.6 L136.0 880.0 L136.4 882.4 L136.8 884.9 L137.1 887.4 L137.5 890.0 L137.9 892.6 L138.2 895.1 L138.6 897.6 L139.0 900.0 L139.4 902.4 L139.8 904.7 L140.1 907.0 L140.5 909.3 L140.9 911.6 L141.2 913.8 L141.6 915.9 L142.0 918.0 L142.4 920.0 L142.8 922.0 L143.1 923.8 L143.5 925.7 L143.9 927.5 L144.2 929.3 L144.6 931.1 L145.0 933.0" stroke="#d0d0d0" stroke-width="2.8" fill="none" stroke-linecap="round" stroke-linejoin="round"/>
<path d="M92.0 899.0 L93.3 900.5 L94.5 902.0 L95.8 903.6 L97.1 905.1 L98.3 906.6 L99.6 908.1 L100.8 909.6 L102.0 911.0 L103.2 912.4 L104.3 913.8 L105.4 915.1 L106.5 916.4 L107.6 917.7 L108.6 919.1 L109.7 920.4 L110.8 921.7" stroke="#d0d0d0" stroke-width="2.8" fill="none" stroke-linecap="round" stroke-linejoin="round"/>
<path d="M92.0 918.0 L93.0 919.0 L93.9 920.0 L94.9 921.0 L95.8 921.9 L96.8 922.9 L97.8 923.9 L98.9 925.0 L100.0 926.0 L101.2 927.1 L102.5 928.2 L103.9 929.4 L105.3 930.5 L106.7 931.7 L108.1 932.8 L109.5 933.9 L110.8 935.0 L112.0 936.0 L113.2 936.8 L114.4 937.6 L115.6 938.4 L116.7 939.2 L117.8 940.1 L118.9 941.1 L120.0 942.3 L121.1 943.6 L122.1 945.1 L123.1 946.6 L124.1 948.2 L125.1 949.9 L126.1 951.6 L127.0 953.3 L128.0 955.0 L128.9 956.7 L129.9 958.5 L130.8 960.4 L131.7 962.2 L132.6 964.1 L133.4 965.9 L134.3 967.6 L135.2 969.2 L136.1 970.7 L136.9 972.2 L137.8 973.6 L138.6 974.9 L139.4 976.2 L140.3 977.5 L141.1 978.8 L142.0 980.0 L142.9 981.2 L143.8 982.2 L144.8 983.2 L145.7 984.2 L146.7 985.2 L147.6 986.3 L148.4 987.5 L149.2 989.0 L149.9 990.7 L150.6 992.7 L151.3 994.9 L151.9 997.1 L152.5 999.3 L153.0 1001.5 L153.5 1003.6 L153.9 1005.4 L154.2 1007.0 L154.4 1008.5 L154.6 1009.8 L154.7 1011.1 L154.7 1012.3 L154.8 1013.5 L154.9 1014.7 L155.0 1016.0" stroke="#d0d0d0" stroke-width="2.8" fill="none" stroke-linecap="round" stroke-linejoin="round"/>
<path d="M111.0 940.0 L112.1 941.3 L113.3 942.7 L114.4 944.1 L115.6 945.4 L116.7 946.8 L117.8 948.1 L118.9 949.3 L120.0 950.5 L121.0 951.6 L122.1 952.5 L123.1 953.4 L124.1 954.3 L125.0 955.1 L126.0 956.0 L127.0 957.0 L128.0 958.0 L129.0 959.1 L130.0 960.3 L131.0 961.6 L132.0 962.8 L133.0 964.1 L134.0 965.4 L135.0 966.7 L136.0 968.0" stroke="#d0d0d0" stroke-width="2.8" fill="none" stroke-linecap="round" stroke-linejoin="round"/>
<path d="M226.0 812.0 L227.2 815.0 L228.5 817.9 L229.7 820.7 L230.9 823.6 L232.1 826.6 L233.4 829.6 L234.7 832.7 L236.0 836.0 L237.4 839.5 L239.0 843.4 L240.5 847.3 L242.1 851.4 L243.7 855.4 L245.2 859.2 L246.7 862.8 L248.0 866.0 L249.2 868.9 L250.3 871.6 L251.4 874.1 L252.4 876.4 L253.3 878.5 L254.2 880.5 L255.1 882.3 L256.0 884.0 L256.9 885.4 L257.7 886.6 L258.5 887.5 L259.2 888.3 L260.0 889.0 L260.7 889.8 L261.5 890.6 L262.2 891.7 L262.9 892.9 L263.7 894.3 L264.4 895.7 L265.1 897.2 L265.8 898.6 L266.6 900.1 L267.3 901.6 L268.0 903.0 L268.7 904.5 L269.5 906.0 L270.2 907.6 L270.9 909.2 L271.7 910.7 L272.4 912.0 L273.2 913.1 L273.9 913.9 L274.6 914.4 L275.3 914.6 L276.0 914.6 L276.7 914.5 L277.4 914.2 L278.2 913.8 L279.0 913.4 L280.0 913.0 L281.1 912.5 L282.2 911.9 L283.5 911.2 L284.8 910.4 L286.1 909.7 L287.4 908.9 L288.7 908.1 L290.0 907.5 L291.2 906.9 L292.4 906.4 L293.5 905.9 L294.6 905.5 L295.8 905.0 L297.1 904.6 L298.5 904.1 L300.0 903.5 L301.7 902.9 L303.6 902.1 L305.6 901.3 L307.8 900.5 L309.9 899.7 L312.0 899.1 L314.1 898.5 L316.0 898.2 L317.9 898.1 L319.7 898.1 L321.6 898.2 L323.4 898.5 L325.1 898.8 L326.8 899.2 L328.5 899.6 L330.0 900.0 L331.4 900.4 L332.7 900.8 L334.0 901.2 L335.1 901.7 L336.3 902.3 L337.5 902.8 L338.7 903.5 L340.0 904.2 L341.4 905.0 L342.9 905.8 L344.4 906.8 L346.0 907.7 L347.6 908.8 L349.1 909.8 L350.6 910.9 L352.0 912.0 L353.3 913.1 L354.6 914.3 L355.9 915.4 L357.1 916.6 L358.3 917.9 L359.5 919.2 L360.8 920.5 L362.0 922.0 L363.2 923.5 L364.4 924.9 L365.5 926.4 L366.6 928.0 L367.8 929.7 L369.1 931.6 L370.5 933.6 L372.0 936.0 L373.7 938.7 L375.5 941.8 L377.5 945.1 L379.5 948.6 L381.6 952.2 L383.7 955.6 L385.9 959.0 L388.0 962.0 L390.1 964.8 L392.2 967.5 L394.3 970.1 L396.5 972.6 L398.7 975.1 L401.0 977.4 L403.4 979.7 L406.0 982.0 L408.7 984.2 L411.4 986.4 L414.3 988.5 L417.2 990.5 L420.3 992.5 L423.4 994.4 L426.7 996.2 L430.0 998.0 L433.5 999.7 L437.1 1001.3 L440.8 1002.8 L444.6 1004.2 L448.5 1005.7 L452.4 1007.1 L456.2 1008.5 L460.0 1010.0" stroke="#d0d0d0" stroke-width="2.8" fill="none" stroke-linecap="round" stroke-linejoin="round"/>
<path d="M284.7 962.7 L285.1 963.4 L285.5 964.0 L285.9 964.7 L286.3 965.4 L286.7 966.0 L287.1 966.7 L287.5 967.3 L288.0 968.0 L288.5 968.7 L289.0 969.3 L289.6 970.0 L290.2 970.7 L290.8 971.3 L291.4 972.0 L292.1 972.5 L292.8 973.1 L293.5 973.6 L294.2 974.2 L294.9 974.8 L295.7 975.3 L296.6 975.7 L297.5 976.1 L298.7 976.3 L300.0 976.4 L301.6 976.3 L303.4 975.9 L305.4 975.5 L307.6 974.9 L309.8 974.3 L311.9 973.8 L314.0 973.5 L316.0 973.3 L317.9 973.3 L319.7 973.5 L321.6 973.7 L323.4 974.1 L325.1 974.5 L326.8 974.9 L328.5 975.5 L330.0 976.0 L331.4 976.6 L332.6 977.3 L333.8 978.0 L334.9 978.8 L336.0 979.7 L337.2 980.5 L338.5 981.4 L340.0 982.3 L341.7 983.2 L343.6 984.1 L345.6 985.1 L347.6 986.0 L349.7 987.0 L351.9 988.0 L354.0 989.0 L356.0 990.0 L358.0 991.0 L360.0 992.0 L361.9 993.1 L363.9 994.1 L365.9 995.1 L367.9 996.1 L369.9 997.1 L372.0 998.0 L374.1 998.9 L376.1 999.7 L378.1 1000.4 L380.1 1001.2 L382.3 1001.9 L384.6 1002.6 L387.2 1003.3 L390.0 1004.0 L393.1 1004.7 L396.4 1005.4 L399.9 1006.0 L403.6 1006.7 L407.5 1007.3 L411.5 1007.9 L415.7 1008.5 L420.0 1009.0 L424.5 1009.5 L429.3 1009.9 L434.3 1010.3 L439.4 1010.6 L444.6 1011.0 L449.8 1011.3 L454.9 1011.6 L460.0 1012.0" stroke="#d0d0d0" stroke-width="2.8" fill="none" stroke-linecap="round" stroke-linejoin="round"/>
<path d="M254.2 1013.3 L255.4 1012.1 L256.7 1011.0 L257.9 1009.8 L259.1 1008.6 L260.3 1007.4 L261.6 1006.3 L262.8 1005.1 L264.0 1004.0 L265.2 1002.9 L266.5 1002.0 L267.8 1001.0 L269.1 1000.1 L270.3 999.1 L271.5 998.0 L272.6 996.9 L273.5 995.6 L274.3 994.2 L275.0 992.7 L275.5 991.1 L276.0 989.4 L276.5 987.7 L276.9 985.9 L277.4 984.0 L278.0 982.0 L278.6 979.9 L279.2 977.7 L279.9 975.4 L280.5 973.1 L281.2 970.7 L281.8 968.2 L282.5 965.8 L283.1 963.5" stroke="#d0d0d0" stroke-width="2.8" fill="none" stroke-linecap="round" stroke-linejoin="round"/>
<path d="M273.5 995.6 L275.1 994.8 L276.7 993.9 L278.3 993.0 L279.9 992.2 L281.5 991.3 L283.1 990.5 L284.8 989.8 L286.4 989.2 L288.0 988.7 L289.7 988.4 L291.3 988.1 L293.0 987.9 L294.7 987.7 L296.4 987.5 L298.2 987.2 L300.0 986.8 L301.8 986.3 L303.7 985.6 L305.6 984.8 L307.5 984.0 L309.5 983.3 L311.6 982.7 L313.8 982.4 L316.2 982.3 L318.8 982.5 L321.7 983.0 L324.7 983.7 L327.9 984.5 L331.0 985.5 L334.1 986.4 L337.2 987.4 L340.0 988.3 L342.7 989.2 L345.3 990.1 L347.8 991.0 L350.2 991.9 L352.7 992.9 L355.1 993.9 L357.5 994.9 L360.0 996.0 L362.5 997.2 L365.0 998.4 L367.5 999.7 L370.0 1001.0 L372.5 1002.3 L375.0 1003.6 L377.5 1004.8 L380.0 1006.0 L382.5 1007.1 L385.0 1008.1 L387.5 1009.1 L390.0 1010.1 L392.5 1011.1 L395.0 1012.0 L397.5 1013.0 L400.0 1014.0" stroke="#d0d0d0" stroke-width="2.8" fill="none" stroke-linecap="round" stroke-linejoin="round"/>
<path d="M280.0 1013.3 L281.2 1012.0 L282.5 1010.7 L283.8 1009.3 L285.0 1008.0 L286.2 1006.7 L287.5 1005.4 L288.8 1004.1 L290.0 1003.0 L291.2 1001.9 L292.4 1000.8 L293.5 999.7 L294.6 998.6 L295.8 997.7 L297.1 996.8 L298.5 996.1 L300.0 995.6 L301.7 995.2 L303.4 995.0 L305.2 994.9 L307.1 994.9 L309.2 995.1 L311.3 995.3 L313.6 995.6 L316.0 996.0 L318.6 996.5 L321.5 997.2 L324.6 998.0 L327.8 998.9 L330.9 999.8 L334.1 1000.7 L337.1 1001.6 L340.0 1002.4 L342.8 1003.1 L345.5 1003.8 L348.2 1004.5 L350.9 1005.2 L353.4 1005.9 L355.8 1006.6 L358.0 1007.3 L360.0 1008.0 L361.7 1008.7 L363.2 1009.5 L364.5 1010.2 L365.6 1011.0 L366.7 1011.7 L367.7 1012.5 L368.8 1013.2 L370.0 1014.0" stroke="#d0d0d0" stroke-width="2.8" fill="none" stroke-linecap="round" stroke-linejoin="round"/>
<path d="M387.1 868.1 L387.7 866.5 L388.3 864.9 L389.0 863.3 L389.6 861.7 L390.2 860.1 L390.8 858.4 L391.4 856.7 L392.0 855.0 L392.5 853.2 L393.1 851.4 L393.6 849.5 L394.1 847.6 L394.5 845.6 L395.0 843.7 L395.6 841.8 L396.1 840.0 L396.7 838.2 L397.3 836.4 L397.9 834.7 L398.5 832.9 L399.1 831.2 L399.7 829.5 L400.4 827.7 L401.0 826.0 L401.6 824.2 L402.3 822.5 L402.9 820.8 L403.5 819.0 L404.2 817.2 L404.8 815.5 L405.5 813.8 L406.1 812.0" stroke="#d0d0d0" stroke-width="2.8" fill="none" stroke-linecap="round" stroke-linejoin="round"/>
<path d="M410.0 938.0 L410.5 938.3 L411.0 938.6 L411.5 939.0 L412.0 939.3 L412.5 939.6 L413.0 939.9 L413.5 940.0 L414.0 940.0 L414.5 939.9 L415.0 939.7 L415.5 939.4 L416.0 939.1 L416.5 938.6 L417.0 938.1 L417.5 937.6 L418.0 937.0 L418.5 936.3 L419.0 935.5 L419.5 934.7 L420.0 933.8 L420.5 932.8 L421.0 931.8 L421.5 930.9 L422.0 930.0" stroke="#d0d0d0" stroke-width="2.8" fill="none" stroke-linecap="round" stroke-linejoin="round"/>
<path d="M438.2 812.0 L439.3 814.3 L440.3 816.5 L441.4 818.8 L442.5 821.1 L443.5 823.3 L444.6 825.6 L445.8 827.8 L447.0 830.0 L448.3 832.2 L449.6 834.3 L451.0 836.4 L452.4 838.6 L453.8 840.7 L455.2 842.8 L456.6 844.9 L458.0 847.0" stroke="#d0d0d0" stroke-width="2.8" fill="none" stroke-linecap="round" stroke-linejoin="round"/>
<path d="M300.0 962.0 L302.0 962.6 L304.0 963.2 L306.1 963.9 L308.1 964.6 L310.1 965.2 L312.1 965.7 L314.1 966.0 L316.0 966.0 L317.8 965.7 L319.6 965.2 L321.4 964.5 L323.1 963.6 L324.8 962.7 L326.5 961.7 L328.3 960.8 L330.0 960.0" stroke="#d0d0d0" stroke-width="2.8" fill="none" stroke-linecap="round" stroke-linejoin="round"/>
<path d="M330.0 962.0 L332.0 959.8 L334.0 957.5 L336.0 955.2 L338.0 953.0 L340.0 950.8 L342.0 948.5 L344.0 946.2 L346.0 944.0 L348.0 941.8 L350.1 939.7 L352.1 937.6 L354.2 935.5 L356.2 933.3 L358.2 931.1 L360.1 928.6 L362.0 926.0 L363.8 923.2 L365.5 920.2 L367.1 917.1 L368.8 913.9 L370.3 910.5 L371.9 907.1 L373.4 903.6 L375.0 900.0 L376.5 896.3 L378.1 892.4 L379.6 888.4 L381.1 884.4 L382.5 880.3 L384.0 876.1 L385.5 872.0 L387.0 868.0" stroke="#d0d0d0" stroke-width="2.8" fill="none" stroke-linecap="round" stroke-linejoin="round"/>
<path d="M110.3 944.7a1.95 1.95 0 1 0 3.9 0a1.95 1.95 0 1 0 -3.9 0M109.5 949.0a1.95 1.95 0 1 0 3.9 0a1.95 1.95 0 1 0 -3.9 0M108.7 953.4a1.95 1.95 0 1 0 3.9 0a1.95 1.95 0 1 0 -3.9 0M108.0 957.7a1.95 1.95 0 1 0 3.9 0a1.95 1.95 0 1 0 -3.9 0M107.2 962.0a1.95 1.95 0 1 0 3.9 0a1.95 1.95 0 1 0 -3.9 0M106.5 966.4a1.95 1.95 0 1 0 3.9 0a1.95 1.95 0 1 0 -3.9 0M105.8 970.7a1.95 1.95 0 1 0 3.9 0a1.95 1.95 0 1 0 -3.9 0M105.0 975.0a1.95 1.95 0 1 0 3.9 0a1.95 1.95 0 1 0 -3.9 0M104.3 979.4a1.95 1.95 0 1 0 3.9 0a1.95 1.95 0 1 0 -3.9 0M103.6 983.7a1.95 1.95 0 1 0 3.9 0a1.95 1.95 0 1 0 -3.9 0M102.8 988.0a1.95 1.95 0 1 0 3.9 0a1.95 1.95 0 1 0 -3.9 0M102.0 992.4a1.95 1.95 0 1 0 3.9 0a1.95 1.95 0 1 0 -3.9 0M101.2 996.7a1.95 1.95 0 1 0 3.9 0a1.95 1.95 0 1 0 -3.9 0M100.5 1001.0a1.95 1.95 0 1 0 3.9 0a1.95 1.95 0 1 0 -3.9 0M99.7 1005.4a1.95 1.95 0 1 0 3.9 0a1.95 1.95 0 1 0 -3.9 0M98.9 1009.7a1.95 1.95 0 1 0 3.9 0a1.95 1.95 0 1 0 -3.9 0" fill="#24dde4"/>
<path d="M108.6 946.2a1.95 1.95 0 1 0 3.9 0a1.95 1.95 0 1 0 -3.9 0M107.8 950.5a1.95 1.95 0 1 0 3.9 0a1.95 1.95 0 1 0 -3.9 0M107.0 954.8a1.95 1.95 0 1 0 3.9 0a1.95 1.95 0 1 0 -3.9 0M106.2 959.2a1.95 1.95 0 1 0 3.9 0a1.95 1.95 0 1 0 -3.9 0M105.5 963.5a1.95 1.95 0 1 0 3.9 0a1.95 1.95 0 1 0 -3.9 0M104.7 967.8a1.95 1.95 0 1 0 3.9 0a1.95 1.95 0 1 0 -3.9 0M104.0 972.2a1.95 1.95 0 1 0 3.9 0a1.95 1.95 0 1 0 -3.9 0M103.3 976.5a1.95 1.95 0 1 0 3.9 0a1.95 1.95 0 1 0 -3.9 0M102.6 980.9a1.95 1.95 0 1 0 3.9 0a1.95 1.95 0 1 0 -3.9 0M101.8 985.2a1.95 1.95 0 1 0 3.9 0a1.95 1.95 0 1 0 -3.9 0M101.0 989.5a1.95 1.95 0 1 0 3.9 0a1.95 1.95 0 1 0 -3.9 0M100.3 993.9a1.95 1.95 0 1 0 3.9 0a1.95 1.95 0 1 0 -3.9 0M99.5 998.2a1.95 1.95 0 1 0 3.9 0a1.95 1.95 0 1 0 -3.9 0M98.7 1002.5a1.95 1.95 0 1 0 3.9 0a1.95 1.95 0 1 0 -3.9 0M97.9 1006.8a1.95 1.95 0 1 0 3.9 0a1.95 1.95 0 1 0 -3.9 0M97.2 1011.2a1.95 1.95 0 1 0 3.9 0a1.95 1.95 0 1 0 -3.9 0" fill="#e81414"/>
<path d="M108.8 921.7a1.95 1.95 0 1 0 3.9 0a1.95 1.95 0 1 0 -3.9 0M109.5 917.3a1.95 1.95 0 1 0 3.9 0a1.95 1.95 0 1 0 -3.9 0M110.1 913.0a1.95 1.95 0 1 0 3.9 0a1.95 1.95 0 1 0 -3.9 0M110.7 908.6a1.95 1.95 0 1 0 3.9 0a1.95 1.95 0 1 0 -3.9 0M111.4 904.3a1.95 1.95 0 1 0 3.9 0a1.95 1.95 0 1 0 -3.9 0M112.1 899.9a1.95 1.95 0 1 0 3.9 0a1.95 1.95 0 1 0 -3.9 0M112.8 895.6a1.95 1.95 0 1 0 3.9 0a1.95 1.95 0 1 0 -3.9 0M113.6 891.3a1.95 1.95 0 1 0 3.9 0a1.95 1.95 0 1 0 -3.9 0M114.3 886.9a1.95 1.95 0 1 0 3.9 0a1.95 1.95 0 1 0 -3.9 0M115.1 882.6a1.95 1.95 0 1 0 3.9 0a1.95 1.95 0 1 0 -3.9 0M115.9 878.3a1.95 1.95 0 1 0 3.9 0a1.95 1.95 0 1 0 -3.9 0M116.6 873.9a1.95 1.95 0 1 0 3.9 0a1.95 1.95 0 1 0 -3.9 0M117.4 869.6a1.95 1.95 0 1 0 3.9 0a1.95 1.95 0 1 0 -3.9 0M118.2 865.3a1.95 1.95 0 1 0 3.9 0a1.95 1.95 0 1 0 -3.9 0M119.1 861.0a1.95 1.95 0 1 0 3.9 0a1.95 1.95 0 1 0 -3.9 0M120.0 856.7a1.95 1.95 0 1 0 3.9 0a1.95 1.95 0 1 0 -3.9 0M121.0 852.4a1.95 1.95 0 1 0 3.9 0a1.95 1.95 0 1 0 -3.9 0" fill="#24dde4"/>
<path d="M108.6 920.2a1.95 1.95 0 1 0 3.9 0a1.95 1.95 0 1 0 -3.9 0M109.2 915.9a1.95 1.95 0 1 0 3.9 0a1.95 1.95 0 1 0 -3.9 0M109.8 911.5a1.95 1.95 0 1 0 3.9 0a1.95 1.95 0 1 0 -3.9 0M110.5 907.2a1.95 1.95 0 1 0 3.9 0a1.95 1.95 0 1 0 -3.9 0M111.1 902.8a1.95 1.95 0 1 0 3.9 0a1.95 1.95 0 1 0 -3.9 0M111.8 898.5a1.95 1.95 0 1 0 3.9 0a1.95 1.95 0 1 0 -3.9 0M112.5 894.1a1.95 1.95 0 1 0 3.9 0a1.95 1.95 0 1 0 -3.9 0M113.3 889.8a1.95 1.95 0 1 0 3.9 0a1.95 1.95 0 1 0 -3.9 0M114.1 885.5a1.95 1.95 0 1 0 3.9 0a1.95 1.95 0 1 0 -3.9 0M114.9 881.1a1.95 1.95 0 1 0 3.9 0a1.95 1.95 0 1 0 -3.9 0M115.6 876.8a1.95 1.95 0 1 0 3.9 0a1.95 1.95 0 1 0 -3.9 0M116.4 872.5a1.95 1.95 0 1 0 3.9 0a1.95 1.95 0 1 0 -3.9 0M117.1 868.1a1.95 1.95 0 1 0 3.9 0a1.95 1.95 0 1 0 -3.9 0M118.0 863.8a1.95 1.95 0 1 0 3.9 0a1.95 1.95 0 1 0 -3.9 0M118.9 859.5a1.95 1.95 0 1 0 3.9 0a1.95 1.95 0 1 0 -3.9 0M119.8 855.2a1.95 1.95 0 1 0 3.9 0a1.95 1.95 0 1 0 -3.9 0" fill="#e81414"/>
<circle cx="110.8" cy="933.7" r="4" fill="#24dde4"/>
<path d="M154.0 998.5 L154.2 1000.4 L154.4 1002.4 L154.7 1004.3 L154.9 1006.2 L155.1 1008.2 L155.4 1010.1 L155.6 1012.1 L155.8 1014.0" stroke="#24dde4" stroke-width="3.6" fill="none" stroke-linecap="round" stroke-linejoin="round"/>
<path d="M135.2 970.4 L135.8 971.3 L136.4 972.2 L137.0 973.1 L137.6 974.1 L138.2 975.0 L138.8 975.9 L139.4 976.9 L140.0 978.0 L140.6 979.1 L141.3 980.3 L141.9 981.5 L142.6 982.7 L143.2 984.0 L143.8 985.3 L144.4 986.6 L145.0 988.0 L145.6 989.4 L146.1 990.8 L146.6 992.3 L147.2 993.8 L147.7 995.3 L148.1 996.9 L148.6 998.4 L149.0 1000.0 L149.4 1001.6 L149.7 1003.2 L150.0 1004.8 L150.3 1006.4 L150.6 1008.1 L150.9 1009.7 L151.2 1011.4 L151.5 1013.0" stroke="#e81414" stroke-width="4.2" fill="none" stroke-linecap="round" stroke-linejoin="round"/>
<path d="M144.9 936.0a2.0 2.0 0 1 0 4.0 0a2.0 2.0 0 1 0 -4.0 0M145.4 939.6a2.0 2.0 0 1 0 4.0 0a2.0 2.0 0 1 0 -4.0 0M145.8 943.1a2.0 2.0 0 1 0 4.0 0a2.0 2.0 0 1 0 -4.0 0M146.3 946.7a2.0 2.0 0 1 0 4.0 0a2.0 2.0 0 1 0 -4.0 0M146.9 950.3a2.0 2.0 0 1 0 4.0 0a2.0 2.0 0 1 0 -4.0 0M147.6 953.8a2.0 2.0 0 1 0 4.0 0a2.0 2.0 0 1 0 -4.0 0M148.4 957.3a2.0 2.0 0 1 0 4.0 0a2.0 2.0 0 1 0 -4.0 0" fill="#e81414"/>
<path d="M150.5 958.0 L150.8 959.1 L151.1 960.3 L151.4 961.4 L151.7 962.6 L152.0 963.7 L152.3 964.8 L152.7 965.9 L153.0 967.0 L153.3 968.1 L153.7 969.1 L154.1 970.1 L154.4 971.1 L154.8 972.1 L155.2 973.1 L155.6 974.1 L156.0 975.0 L156.4 975.9 L156.9 976.9 L157.3 977.8 L157.8 978.8 L158.2 979.6 L158.7 980.5 L159.1 981.3 L159.5 982.0 L159.9 982.6 L160.2 983.2 L160.5 983.7 L160.8 984.2 L161.1 984.6 L161.4 985.1 L161.7 985.5 L162.0 986.0" stroke="#e81414" stroke-width="5.2" fill="none" stroke-linecap="round" stroke-linejoin="round"/>
<path d="M236.4 832.6 L237.8 836.3 L239.3 840.1 L240.7 844.0 L242.2 847.9 L243.6 851.6 L244.9 855.2 L246.2 858.6 L247.4 861.6 L248.5 864.3 L249.5 866.8 L250.4 869.0 L251.3 871.1 L252.1 873.0 L252.9 874.9 L253.7 876.7 L254.4 878.6 L255.1 880.5 L255.8 882.3 L256.4 884.0 L257.0 885.7 L257.6 887.3 L258.2 888.9 L258.8 890.6 L259.4 892.3" stroke="#e81414" stroke-width="3.4" fill="none" stroke-linecap="round" stroke-linejoin="round"/>
<path d="M239.6 831.4 L241.0 835.1 L242.4 838.9 L243.9 842.8 L245.3 846.6 L246.8 850.4 L248.1 854.0 L249.4 857.3 L250.6 860.4 L251.7 863.1 L252.7 865.5 L253.6 867.8 L254.5 869.8 L255.3 871.8 L256.1 873.6 L256.8 875.5 L257.6 877.4 L258.3 879.3 L259.0 881.0 L259.6 882.8 L260.2 884.5 L260.8 886.1 L261.4 887.8 L262.0 889.4 L262.6 891.1" stroke="#24dde4" stroke-width="3.4" fill="none" stroke-linecap="round" stroke-linejoin="round"/>
<path d="M259.9 892.1 L260.3 893.5 L260.7 894.9 L261.2 896.3 L261.6 897.6 L262.0 899.0 L262.5 900.5 L262.9 901.9 L263.4 903.3 L263.8 904.9 L264.2 906.4 L264.6 908.0 L265.0 909.7 L265.5 911.3 L265.9 912.8 L266.4 914.2 L266.9 915.5 L267.4 916.6 L268.0 917.6 L268.6 918.5 L269.2 919.4 L269.8 920.2 L270.5 921.0 L271.1 921.8 L271.7 922.7" stroke="#e81414" stroke-width="3.6" fill="none" stroke-linecap="round" stroke-linejoin="round"/>
<path d="M272.5 920.6 L273.2 921.8 L274.0 923.0 L274.8 924.2 L275.6 925.4 L276.4 926.5 L277.1 927.7 L277.9 928.8 L278.6 929.9 L279.3 931.0 L279.9 932.1 L280.6 933.1 L281.2 934.1 L281.8 935.1 L282.4 936.1 L283.0 937.0 L283.6 937.9 L284.1 938.8 L284.6 939.6 L285.1 940.3 L285.6 941.1 L286.1 941.8 L286.6 942.5 L287.1 943.2 L287.6 943.9" stroke="#e81414" stroke-width="3.4" fill="none" stroke-linecap="round" stroke-linejoin="round"/>
<path d="M275.3 918.8 L276.1 919.9 L276.9 921.1 L277.7 922.3 L278.4 923.5 L279.2 924.7 L280.0 925.8 L280.7 927.0 L281.4 928.1 L282.1 929.2 L282.8 930.2 L283.4 931.3 L284.1 932.3 L284.7 933.3 L285.3 934.3 L285.9 935.2 L286.4 936.1 L287.0 936.9 L287.5 937.7 L288.0 938.5 L288.5 939.2 L289.0 939.9 L289.4 940.6 L289.9 941.3 L290.4 942.1" stroke="#24dde4" stroke-width="3.4" fill="none" stroke-linecap="round" stroke-linejoin="round"/>
<path d="M290.2 950.1 L291.1 950.9 L291.9 951.7 L292.7 952.4 L293.5 953.2 L294.3 953.9 L295.1 954.7 L296.0 955.5 L296.8 956.3 L297.7 957.1 L298.6 957.9 L299.6 958.7 L300.5 959.6 L301.4 960.5 L302.4 961.3 L303.3 962.2 L304.2 963.1" stroke="#e81414" stroke-width="3.4" fill="none" stroke-linecap="round" stroke-linejoin="round"/>
<path d="M292.6 947.7 L293.4 948.4 L294.2 949.2 L295.0 949.9 L295.8 950.7 L296.6 951.4 L297.4 952.2 L298.3 953.0 L299.2 953.7 L300.0 954.6 L300.9 955.4 L301.9 956.2 L302.8 957.1 L303.7 958.0 L304.7 958.8 L305.6 959.7 L306.6 960.5" stroke="#24dde4" stroke-width="3.4" fill="none" stroke-linecap="round" stroke-linejoin="round"/>
<path d="M273.0 932.0 L273.3 932.8 L273.6 933.5 L273.9 934.3 L274.2 935.1 L274.5 935.9 L274.8 936.7 L275.1 937.6 L275.5 938.6 L275.9 939.6 L276.3 940.8 L276.7 942.0 L277.2 943.2 L277.6 944.5 L278.1 945.7 L278.6 947.0 L279.0 948.2" stroke="#24dde4" stroke-width="3.2" fill="none" stroke-linecap="round" stroke-linejoin="round"/>
<path d="M276.0 930.8 L276.3 931.6 L276.6 932.4 L276.9 933.2 L277.2 933.9 L277.5 934.7 L277.8 935.6 L278.1 936.5 L278.5 937.4 L278.9 938.5 L279.3 939.7 L279.7 940.9 L280.2 942.1 L280.6 943.4 L281.1 944.7 L281.6 945.9 L282.0 947.2" stroke="#e81414" stroke-width="3.2" fill="none" stroke-linecap="round" stroke-linejoin="round"/>
<path d="M331.2 961.2 L332.5 959.9 L333.7 958.7 L335.0 957.4 L336.3 956.1 L337.6 954.8 L338.8 953.6 L340.0 952.4 L341.2 951.2 L342.3 950.1 L343.3 949.1 L344.3 948.1 L345.3 947.2 L346.3 946.3 L347.2 945.3 L348.2 944.4 L349.2 943.4 L350.2 942.4 L351.2 941.4 L352.2 940.4 L353.2 939.3 L354.2 938.3 L355.2 937.3 L356.2 936.2 L357.2 935.2" stroke="#e81414" stroke-width="3.4" fill="none" stroke-linecap="round" stroke-linejoin="round"/>
<path d="M328.8 958.8 L330.1 957.5 L331.3 956.2 L332.6 954.9 L333.9 953.7 L335.2 952.4 L336.4 951.1 L337.7 949.9 L338.8 948.8 L339.9 947.7 L340.9 946.7 L341.9 945.7 L342.9 944.8 L343.9 943.9 L344.8 942.9 L345.8 942.0 L346.8 941.0 L347.8 940.0 L348.8 939.0 L349.8 938.0 L350.8 936.9 L351.8 935.9 L352.8 934.9 L353.8 933.8 L354.8 932.8" stroke="#24dde4" stroke-width="3.4" fill="none" stroke-linecap="round" stroke-linejoin="round"/>
<path d="M361.5 926.8 L362.5 925.1 L363.5 923.4 L364.5 921.7 L365.5 919.9 L366.5 918.2 L367.5 916.5 L368.5 914.7 L369.5 912.8 L370.5 910.9 L371.6 908.9 L372.6 906.8 L373.6 904.8 L374.7 902.7 L375.7 900.6 L376.6 898.6 L377.5 896.7 L378.4 894.9 L379.2 893.1 L380.0 891.3 L380.7 889.5 L381.5 887.8 L382.2 886.1 L382.9 884.4 L383.6 882.6 L384.3 880.9 L384.9 879.1 L385.6 877.4 L386.2 875.6 L386.8 873.9 L387.4 872.2 L388.1 870.4 L388.7 868.7" stroke="#e81414" stroke-width="3.4" fill="none" stroke-linecap="round" stroke-linejoin="round"/>
<path d="M358.5 925.2 L359.5 923.4 L360.5 921.7 L361.5 920.0 L362.5 918.3 L363.5 916.6 L364.5 914.8 L365.5 913.0 L366.5 911.2 L367.5 909.3 L368.5 907.3 L369.6 905.3 L370.6 903.2 L371.6 901.2 L372.6 899.2 L373.6 897.2 L374.5 895.3 L375.3 893.4 L376.1 891.7 L376.9 889.9 L377.6 888.2 L378.3 886.5 L379.0 884.8 L379.7 883.1 L380.4 881.4 L381.1 879.6 L381.8 877.9 L382.4 876.2 L383.0 874.4 L383.6 872.7 L384.3 871.0 L384.9 869.2 L385.5 867.5" stroke="#24dde4" stroke-width="3.4" fill="none" stroke-linecap="round" stroke-linejoin="round"/>
<path d="M371.2 814.0a1.95 1.95 0 1 0 3.9 0a1.95 1.95 0 1 0 -3.9 0M370.3 818.3a1.95 1.95 0 1 0 3.9 0a1.95 1.95 0 1 0 -3.9 0M369.5 822.6a1.95 1.95 0 1 0 3.9 0a1.95 1.95 0 1 0 -3.9 0M368.6 827.0a1.95 1.95 0 1 0 3.9 0a1.95 1.95 0 1 0 -3.9 0M367.8 831.3a1.95 1.95 0 1 0 3.9 0a1.95 1.95 0 1 0 -3.9 0M366.9 835.6a1.95 1.95 0 1 0 3.9 0a1.95 1.95 0 1 0 -3.9 0M366.1 839.9a1.95 1.95 0 1 0 3.9 0a1.95 1.95 0 1 0 -3.9 0M365.2 844.2a1.95 1.95 0 1 0 3.9 0a1.95 1.95 0 1 0 -3.9 0M364.3 848.5a1.95 1.95 0 1 0 3.9 0a1.95 1.95 0 1 0 -3.9 0M363.5 852.9a1.95 1.95 0 1 0 3.9 0a1.95 1.95 0 1 0 -3.9 0M362.6 857.2a1.95 1.95 0 1 0 3.9 0a1.95 1.95 0 1 0 -3.9 0M361.8 861.5a1.95 1.95 0 1 0 3.9 0a1.95 1.95 0 1 0 -3.9 0M360.9 865.8a1.95 1.95 0 1 0 3.9 0a1.95 1.95 0 1 0 -3.9 0M360.0 870.1a1.95 1.95 0 1 0 3.9 0a1.95 1.95 0 1 0 -3.9 0M359.1 874.4a1.95 1.95 0 1 0 3.9 0a1.95 1.95 0 1 0 -3.9 0M358.2 878.7a1.95 1.95 0 1 0 3.9 0a1.95 1.95 0 1 0 -3.9 0M357.4 883.0a1.95 1.95 0 1 0 3.9 0a1.95 1.95 0 1 0 -3.9 0M356.5 887.4a1.95 1.95 0 1 0 3.9 0a1.95 1.95 0 1 0 -3.9 0M355.8 891.7a1.95 1.95 0 1 0 3.9 0a1.95 1.95 0 1 0 -3.9 0M355.0 896.0a1.95 1.95 0 1 0 3.9 0a1.95 1.95 0 1 0 -3.9 0M354.4 900.4a1.95 1.95 0 1 0 3.9 0a1.95 1.95 0 1 0 -3.9 0M353.7 904.7a1.95 1.95 0 1 0 3.9 0a1.95 1.95 0 1 0 -3.9 0M353.1 909.1a1.95 1.95 0 1 0 3.9 0a1.95 1.95 0 1 0 -3.9 0M352.5 913.4a1.95 1.95 0 1 0 3.9 0a1.95 1.95 0 1 0 -3.9 0" fill="#e81414"/>
<path d="M373.8 816.0a1.95 1.95 0 1 0 3.9 0a1.95 1.95 0 1 0 -3.9 0M372.9 820.3a1.95 1.95 0 1 0 3.9 0a1.95 1.95 0 1 0 -3.9 0M372.1 824.6a1.95 1.95 0 1 0 3.9 0a1.95 1.95 0 1 0 -3.9 0M371.2 828.9a1.95 1.95 0 1 0 3.9 0a1.95 1.95 0 1 0 -3.9 0M370.4 833.2a1.95 1.95 0 1 0 3.9 0a1.95 1.95 0 1 0 -3.9 0M369.5 837.6a1.95 1.95 0 1 0 3.9 0a1.95 1.95 0 1 0 -3.9 0M368.7 841.9a1.95 1.95 0 1 0 3.9 0a1.95 1.95 0 1 0 -3.9 0M367.8 846.2a1.95 1.95 0 1 0 3.9 0a1.95 1.95 0 1 0 -3.9 0M367.0 850.5a1.95 1.95 0 1 0 3.9 0a1.95 1.95 0 1 0 -3.9 0M366.1 854.8a1.95 1.95 0 1 0 3.9 0a1.95 1.95 0 1 0 -3.9 0M365.2 859.1a1.95 1.95 0 1 0 3.9 0a1.95 1.95 0 1 0 -3.9 0M364.4 863.4a1.95 1.95 0 1 0 3.9 0a1.95 1.95 0 1 0 -3.9 0M363.5 867.8a1.95 1.95 0 1 0 3.9 0a1.95 1.95 0 1 0 -3.9 0M362.6 872.1a1.95 1.95 0 1 0 3.9 0a1.95 1.95 0 1 0 -3.9 0M361.7 876.4a1.95 1.95 0 1 0 3.9 0a1.95 1.95 0 1 0 -3.9 0M360.8 880.7a1.95 1.95 0 1 0 3.9 0a1.95 1.95 0 1 0 -3.9 0M359.9 885.0a1.95 1.95 0 1 0 3.9 0a1.95 1.95 0 1 0 -3.9 0M359.2 889.3a1.95 1.95 0 1 0 3.9 0a1.95 1.95 0 1 0 -3.9 0M358.5 893.7a1.95 1.95 0 1 0 3.9 0a1.95 1.95 0 1 0 -3.9 0M357.9 898.0a1.95 1.95 0 1 0 3.9 0a1.95 1.95 0 1 0 -3.9 0M357.3 902.4a1.95 1.95 0 1 0 3.9 0a1.95 1.95 0 1 0 -3.9 0M356.7 906.8a1.95 1.95 0 1 0 3.9 0a1.95 1.95 0 1 0 -3.9 0M356.2 911.1a1.95 1.95 0 1 0 3.9 0a1.95 1.95 0 1 0 -3.9 0M355.6 915.5a1.95 1.95 0 1 0 3.9 0a1.95 1.95 0 1 0 -3.9 0" fill="#24dde4"/>
<path d="M360.1 914.0a1.95 1.95 0 1 0 3.9 0a1.95 1.95 0 1 0 -3.9 0M359.5 918.4a1.95 1.95 0 1 0 3.9 0a1.95 1.95 0 1 0 -3.9 0M359.0 922.7a1.95 1.95 0 1 0 3.9 0a1.95 1.95 0 1 0 -3.9 0M358.4 927.1a1.95 1.95 0 1 0 3.9 0a1.95 1.95 0 1 0 -3.9 0M357.9 931.5a1.95 1.95 0 1 0 3.9 0a1.95 1.95 0 1 0 -3.9 0M357.3 935.8a1.95 1.95 0 1 0 3.9 0a1.95 1.95 0 1 0 -3.9 0M356.8 940.2a1.95 1.95 0 1 0 3.9 0a1.95 1.95 0 1 0 -3.9 0M356.2 944.6a1.95 1.95 0 1 0 3.9 0a1.95 1.95 0 1 0 -3.9 0M355.7 948.9a1.95 1.95 0 1 0 3.9 0a1.95 1.95 0 1 0 -3.9 0M355.2 953.3a1.95 1.95 0 1 0 3.9 0a1.95 1.95 0 1 0 -3.9 0M354.6 957.7a1.95 1.95 0 1 0 3.9 0a1.95 1.95 0 1 0 -3.9 0M354.0 962.0a1.95 1.95 0 1 0 3.9 0a1.95 1.95 0 1 0 -3.9 0M353.4 966.4a1.95 1.95 0 1 0 3.9 0a1.95 1.95 0 1 0 -3.9 0M352.8 970.7a1.95 1.95 0 1 0 3.9 0a1.95 1.95 0 1 0 -3.9 0M352.2 975.1a1.95 1.95 0 1 0 3.9 0a1.95 1.95 0 1 0 -3.9 0M351.6 979.5a1.95 1.95 0 1 0 3.9 0a1.95 1.95 0 1 0 -3.9 0M350.9 983.8a1.95 1.95 0 1 0 3.9 0a1.95 1.95 0 1 0 -3.9 0M350.3 988.2a1.95 1.95 0 1 0 3.9 0a1.95 1.95 0 1 0 -3.9 0" fill="#24dde4"/>
<path d="M371.1 948.0a1.95 1.95 0 1 0 3.9 0a1.95 1.95 0 1 0 -3.9 0M370.3 952.3a1.95 1.95 0 1 0 3.9 0a1.95 1.95 0 1 0 -3.9 0M369.7 956.7a1.95 1.95 0 1 0 3.9 0a1.95 1.95 0 1 0 -3.9 0M368.9 961.0a1.95 1.95 0 1 0 3.9 0a1.95 1.95 0 1 0 -3.9 0M368.2 965.4a1.95 1.95 0 1 0 3.9 0a1.95 1.95 0 1 0 -3.9 0M367.3 969.7a1.95 1.95 0 1 0 3.9 0a1.95 1.95 0 1 0 -3.9 0M366.4 974.0a1.95 1.95 0 1 0 3.9 0a1.95 1.95 0 1 0 -3.9 0M365.4 978.3a1.95 1.95 0 1 0 3.9 0a1.95 1.95 0 1 0 -3.9 0M364.4 982.6a1.95 1.95 0 1 0 3.9 0a1.95 1.95 0 1 0 -3.9 0M363.4 986.8a1.95 1.95 0 1 0 3.9 0a1.95 1.95 0 1 0 -3.9 0M362.3 991.1a1.95 1.95 0 1 0 3.9 0a1.95 1.95 0 1 0 -3.9 0M361.2 995.4a1.95 1.95 0 1 0 3.9 0a1.95 1.95 0 1 0 -3.9 0M360.1 999.6a1.95 1.95 0 1 0 3.9 0a1.95 1.95 0 1 0 -3.9 0" fill="#e81414"/>
<path d="M365.8 948.0a1.95 1.95 0 1 0 3.9 0a1.95 1.95 0 1 0 -3.9 0M365.4 952.4a1.95 1.95 0 1 0 3.9 0a1.95 1.95 0 1 0 -3.9 0M364.9 956.7a1.95 1.95 0 1 0 3.9 0a1.95 1.95 0 1 0 -3.9 0M364.4 961.1a1.95 1.95 0 1 0 3.9 0a1.95 1.95 0 1 0 -3.9 0M363.8 965.5a1.95 1.95 0 1 0 3.9 0a1.95 1.95 0 1 0 -3.9 0M363.1 969.8a1.95 1.95 0 1 0 3.9 0a1.95 1.95 0 1 0 -3.9 0M362.4 974.1a1.95 1.95 0 1 0 3.9 0a1.95 1.95 0 1 0 -3.9 0M361.6 978.5a1.95 1.95 0 1 0 3.9 0a1.95 1.95 0 1 0 -3.9 0M360.9 982.8a1.95 1.95 0 1 0 3.9 0a1.95 1.95 0 1 0 -3.9 0M360.3 987.2a1.95 1.95 0 1 0 3.9 0a1.95 1.95 0 1 0 -3.9 0M359.7 991.5a1.95 1.95 0 1 0 3.9 0a1.95 1.95 0 1 0 -3.9 0M359.1 995.9a1.95 1.95 0 1 0 3.9 0a1.95 1.95 0 1 0 -3.9 0M358.6 1000.3a1.95 1.95 0 1 0 3.9 0a1.95 1.95 0 1 0 -3.9 0" fill="#24dde4"/>
<path d="M355.7 923.1 L356.3 923.8 L356.9 924.5 L357.6 925.2 L358.2 925.9 L358.8 926.6 L359.4 927.3 L360.0 928.1 L360.6 928.9 L361.1 929.8 L361.6 930.7 L362.1 931.6 L362.6 932.5 L363.0 933.5 L363.5 934.5 L364.0 935.6 L364.4 936.7 L364.9 937.8 L365.4 939.0 L365.9 940.3 L366.4 941.5 L366.9 942.8 L367.4 944.1 L367.9 945.4 L368.4 946.6" stroke="#e81414" stroke-width="3.4" fill="none" stroke-linecap="round" stroke-linejoin="round"/>
<path d="M358.3 920.9 L359.0 921.7 L359.6 922.4 L360.3 923.1 L360.9 923.9 L361.6 924.6 L362.2 925.4 L362.8 926.2 L363.4 927.1 L364.0 928.0 L364.5 929.0 L365.1 929.9 L365.6 931.0 L366.1 932.0 L366.6 933.1 L367.0 934.2 L367.6 935.3 L368.1 936.5 L368.6 937.7 L369.1 938.9 L369.6 940.2 L370.1 941.5 L370.6 942.8 L371.1 944.1 L371.6 945.4" stroke="#24dde4" stroke-width="3.4" fill="none" stroke-linecap="round" stroke-linejoin="round"/>
<path d="M375.7 936.8 L376.4 934.7 L377.1 932.6 L377.8 930.4 L378.5 928.3 L379.2 926.2 L380.0 924.2 L380.7 922.4 L381.5 920.9 L382.3 919.5 L383.1 918.2 L384.0 917.1 L384.8 916.0 L385.7 915.2 L386.6 914.6 L387.5 914.1 L388.3 913.9 L389.1 913.9 L389.9 914.2 L390.7 914.7 L391.5 915.3 L392.2 916.1 L393.0 917.1 L393.9 918.1 L394.7 919.1 L395.7 920.3 L396.6 921.7 L397.7 923.2 L398.7 924.9 L399.7 926.5 L400.7 928.1 L401.7 929.6 L402.6 931.0 L403.5 932.2 L404.3 933.3 L405.0 934.3 L405.8 935.3 L406.5 936.3 L407.2 937.2 L408.0 938.2 L408.7 939.2" stroke="#24dde4" stroke-width="3.4" fill="none" stroke-linecap="round" stroke-linejoin="round"/>
<path d="M372.5 935.6 L373.2 933.5 L373.9 931.3 L374.6 929.1 L375.3 926.9 L376.0 924.7 L376.8 922.7 L377.6 920.8 L378.5 919.1 L379.5 917.6 L380.6 916.1 L381.8 914.7 L383.0 913.4 L384.2 912.3 L385.5 911.4 L386.7 910.8 L387.9 910.5 L389.1 910.6 L390.3 910.9 L391.5 911.5 L392.7 912.4 L393.8 913.4 L395.0 914.5 L396.2 915.7 L397.3 916.9 L398.4 918.1 L399.4 919.6 L400.5 921.2 L401.5 922.8 L402.6 924.5 L403.5 926.1 L404.5 927.7 L405.4 929.0 L406.3 930.2 L407.1 931.3 L407.8 932.4 L408.6 933.4 L409.3 934.3 L410.0 935.2 L410.7 936.2 L411.5 937.2" stroke="#e81414" stroke-width="3.4" fill="none" stroke-linecap="round" stroke-linejoin="round"/>
<path d="M423.7 930.9 L424.6 928.6 L425.6 926.3 L426.6 924.1 L427.6 921.8 L428.6 919.6 L429.6 917.3 L430.6 915.0 L431.6 912.7 L432.6 910.3 L433.6 908.0 L434.6 905.6 L435.6 903.3 L436.6 900.9 L437.6 898.5 L438.6 896.1 L439.6 893.6 L440.6 891.2 L441.6 888.7 L442.6 886.1 L443.6 883.6 L444.6 881.0 L445.6 878.5 L446.6 876.1 L447.6 873.6 L448.5 871.3 L449.5 869.0 L450.4 866.7 L451.4 864.5 L452.3 862.3 L453.2 860.1 L454.1 857.9 L455.1 855.7" stroke="#e81414" stroke-width="3.4" fill="none" stroke-linecap="round" stroke-linejoin="round"/>
<path d="M420.5 929.5 L421.5 927.3 L422.5 925.0 L423.5 922.7 L424.5 920.5 L425.5 918.2 L426.5 915.9 L427.4 913.6 L428.4 911.3 L429.4 909.0 L430.4 906.7 L431.4 904.3 L432.4 902.0 L433.4 899.6 L434.4 897.2 L435.4 894.8 L436.4 892.4 L437.4 889.9 L438.4 887.4 L439.4 884.8 L440.5 882.3 L441.5 879.8 L442.5 877.2 L443.4 874.8 L444.4 872.4 L445.4 870.0 L446.3 867.7 L447.3 865.5 L448.2 863.2 L449.1 861.0 L450.1 858.8 L451.0 856.6 L451.9 854.3" stroke="#24dde4" stroke-width="3.4" fill="none" stroke-linecap="round" stroke-linejoin="round"/>
<path d="M341.2 1001.2 L342.2 1000.2 L343.2 999.2 L344.3 998.1 L345.3 997.1 L346.3 996.1 L347.3 995.1 L348.3 994.1 L349.2 993.2 L350.0 992.4 L350.8 991.6 L351.6 990.8 L352.3 990.1 L353.0 989.4 L353.7 988.7 L354.5 987.9 L355.2 987.2" stroke="#e81414" stroke-width="3.4" fill="none" stroke-linecap="round" stroke-linejoin="round"/>
<path d="M338.8 998.8 L339.8 997.8 L340.8 996.8 L341.9 995.7 L342.9 994.7 L343.9 993.7 L344.9 992.7 L345.9 991.7 L346.8 990.8 L347.6 990.0 L348.4 989.2 L349.2 988.4 L349.9 987.7 L350.6 987.0 L351.3 986.3 L352.1 985.5 L352.8 984.8" stroke="#24dde4" stroke-width="3.4" fill="none" stroke-linecap="round" stroke-linejoin="round"/>
<path d="M329.1 999.5 L330.4 1000.2 L331.6 1001.0 L332.8 1001.7 L334.0 1002.5 L335.3 1003.2 L336.5 1004.0 L337.8 1004.7 L339.2 1005.5 L340.6 1006.2 L342.1 1007.0 L343.6 1007.8 L345.1 1008.5 L346.6 1009.3 L348.2 1010.0 L349.7 1010.8 L351.2 1011.5" stroke="#e81414" stroke-width="3.4" fill="none" stroke-linecap="round" stroke-linejoin="round"/>
<path d="M330.9 996.5 L332.1 997.3 L333.3 998.0 L334.5 998.8 L335.7 999.5 L336.9 1000.3 L338.2 1001.0 L339.5 1001.8 L340.8 1002.5 L342.2 1003.3 L343.7 1004.0 L345.1 1004.7 L346.7 1005.5 L348.2 1006.2 L349.7 1007.0 L351.3 1007.7 L352.8 1008.5" stroke="#24dde4" stroke-width="3.4" fill="none" stroke-linecap="round" stroke-linejoin="round"/>
<path d="M393.4 1012.9 L394.1 1011.8 L394.8 1010.7 L395.5 1009.6 L396.3 1008.5 L397.0 1007.4 L397.7 1006.3 L398.5 1005.2 L399.3 1004.0 L400.2 1002.9 L401.2 1001.8 L402.2 1000.7 L403.2 999.6 L404.2 998.5 L405.2 997.4 L406.3 996.2 L407.3 995.1" stroke="#e81414" stroke-width="3.4" fill="none" stroke-linecap="round" stroke-linejoin="round"/>
<path d="M390.6 1011.1 L391.3 1009.9 L392.1 1008.8 L392.8 1007.6 L393.5 1006.5 L394.2 1005.4 L395.0 1004.2 L395.8 1003.1 L396.7 1002.0 L397.6 1000.8 L398.5 999.7 L399.5 998.5 L400.6 997.4 L401.6 996.3 L402.7 995.1 L403.7 994.0 L404.7 992.9" stroke="#24dde4" stroke-width="3.4" fill="none" stroke-linecap="round" stroke-linejoin="round"/>
<path d="M407.1 984.3 L407.8 983.7 L408.6 983.0 L409.4 982.3 L410.2 981.6 L411.0 981.0 L411.7 980.4 L412.3 979.9 L412.9 979.5 L413.3 979.1 L413.6 978.7 L413.8 978.3 L413.9 978.1 L414.1 977.9 L414.3 977.8 L414.5 978.0 L414.9 978.3 L415.5 978.9 L416.1 979.8 L416.8 980.8 L417.5 982.0 L418.3 983.3 L419.1 984.6 L419.9 985.8 L420.6 986.9" stroke="#e81414" stroke-width="3.4" fill="none" stroke-linecap="round" stroke-linejoin="round"/>
<path d="M404.9 981.7 L405.7 981.0 L406.5 980.3 L407.3 979.6 L408.0 978.9 L408.8 978.2 L409.6 977.5 L410.4 977.0 L411.1 976.5 L411.9 976.2 L412.6 975.8 L413.4 975.5 L414.1 975.2 L414.8 975.1 L415.6 975.1 L416.3 975.3 L417.1 975.7 L417.8 976.4 L418.6 977.3 L419.4 978.4 L420.2 979.7 L421.0 981.1 L421.8 982.5 L422.6 983.8 L423.4 985.1" stroke="#24dde4" stroke-width="3.4" fill="none" stroke-linecap="round" stroke-linejoin="round"/>
<path d="M265.5 1012.8 L266.0 1011.8 L266.5 1010.7 L267.0 1009.6 L267.5 1008.6 L267.9 1007.5 L268.4 1006.6 L268.9 1005.7 L269.4 1005.0 L269.8 1004.4 L270.3 1004.0 L270.8 1003.6 L271.2 1003.4 L271.7 1003.1 L272.1 1002.9 L272.6 1002.7 L273.0 1002.4" stroke="#e81414" stroke-width="3.4" fill="none" stroke-linecap="round" stroke-linejoin="round"/>
<path d="M262.5 1011.2 L263.0 1010.2 L263.5 1009.1 L264.0 1007.9 L264.5 1006.8 L265.1 1005.7 L265.6 1004.7 L266.1 1003.8 L266.6 1003.0 L267.2 1002.3 L267.7 1001.8 L268.2 1001.4 L268.8 1001.0 L269.3 1000.7 L269.9 1000.4 L270.4 1000.0 L271.0 999.6" stroke="#24dde4" stroke-width="3.4" fill="none" stroke-linecap="round" stroke-linejoin="round"/>
</g>
<rect x="94.8" y="815.1" width="361.2" height="197.8" fill="none" stroke="#3a3a3a" stroke-width="1.4"/>
<g clip-path="url(#cf2)">
<line x1="474.8" y1="881.0" x2="612.8" y2="881.0" stroke="#555" stroke-width="1.1" stroke-dasharray="1.6 2.6"/>
<path d="M472.0 933.5 L473.0 933.7 L474.0 933.8 L475.0 933.9 L476.0 934.1 L477.0 934.2 L478.0 934.4 L479.0 934.7 L480.0 935.0 L481.0 935.4 L481.9 935.8 L482.9 936.2 L483.8 936.7 L484.8 937.2 L485.7 937.8 L486.6 938.5 L487.5 939.2 L488.4 940.0 L489.2 940.9 L490.0 941.8 L490.8 942.8 L491.6 943.8 L492.4 944.8 L493.2 945.9 L494.0 947.0 L494.8 948.1 L495.7 949.3 L496.6 950.6 L497.4 951.8 L498.3 953.1 L499.1 954.3 L499.9 955.5 L500.7 956.7 L501.4 957.8 L502.1 958.9 L502.8 960.0 L503.4 961.0 L504.1 962.0 L504.7 963.0 L505.3 964.0 L506.0 965.0 L506.7 966.0 L507.3 966.9 L508.0 967.9 L508.6 968.8 L509.3 969.7 L510.0 970.6 L510.8 971.3 L511.6 972.0 L512.5 972.6 L513.5 973.1 L514.6 973.5 L515.7 973.9 L516.8 974.2 L517.9 974.5 L519.0 974.7 L520.0 975.0 L520.8 975.2 L521.5 975.3 L522.1 975.4 L522.7 975.5 L523.4 975.6 L524.3 975.7 L525.4 976.0 L526.9 976.4 L528.8 977.0 L531.2 977.7 L533.8 978.5 L536.6 979.4 L539.4 980.3 L542.1 981.3 L544.5 982.2 L546.6 983.0 L548.3 983.8 L549.7 984.5 L550.9 985.2 L552.0 986.0 L553.0 986.7 L554.0 987.4 L555.0 988.2 L556.0 989.0 L557.1 989.8 L558.1 990.7 L559.1 991.5 L560.1 992.4 L561.1 993.3 L562.1 994.2 L563.1 995.1 L564.2 996.1 L565.4 997.1 L566.6 998.2 L567.8 999.3 L569.1 1000.4 L570.3 1001.6 L571.6 1002.7 L572.8 1003.9 L574.0 1005.0 L575.1 1006.1 L576.3 1007.2 L577.4 1008.4 L578.5 1009.5 L579.5 1010.6 L580.6 1011.7 L581.7 1012.9 L582.8 1014.0" stroke="#d0d0d0" stroke-width="2.8" fill="none" stroke-linecap="round" stroke-linejoin="round"/>
<path d="M472.0 1013.0 L473.3 1012.4 L474.5 1011.7 L475.8 1011.0 L477.0 1010.4 L478.3 1009.7 L479.5 1009.1 L480.8 1008.5 L482.0 1008.0 L483.3 1007.5 L484.5 1006.9 L485.8 1006.4 L487.1 1005.9 L488.3 1005.5 L489.6 1005.2 L490.7 1005.0 L491.9 1004.9 L493.0 1005.0 L494.0 1005.2 L495.0 1005.5 L496.0 1005.9 L496.9 1006.4 L497.9 1006.9 L498.9 1007.4 L500.0 1008.0 L501.1 1008.6 L502.3 1009.3 L503.4 1010.0 L504.6 1010.8 L505.8 1011.6 L507.0 1012.4 L508.2 1013.2 L509.4 1014.0" stroke="#d0d0d0" stroke-width="2.8" fill="none" stroke-linecap="round" stroke-linejoin="round"/>
<path d="M490.8 827.5 L491.1 826.8 L491.3 826.2 L491.6 825.6 L491.8 825.0 L492.1 824.4 L492.4 823.7 L492.7 822.9 L493.0 822.0 L493.3 821.0 L493.7 819.8 L494.1 818.6 L494.4 817.3 L494.8 815.9 L495.2 814.6 L495.6 813.3 L496.0 812.0" stroke="#d0d0d0" stroke-width="2.8" fill="none" stroke-linecap="round" stroke-linejoin="round"/>
<path d="M476.4 863.5 L477.0 861.9 L477.7 860.4 L478.3 858.8 L479.0 857.2 L479.6 855.7 L480.2 854.1 L480.9 852.5 L481.5 851.0 L482.1 849.5 L482.8 847.9 L483.5 846.4 L484.1 844.8 L484.8 843.3 L485.4 841.8 L486.0 840.4 L486.5 839.0 L487.0 837.7 L487.4 836.4 L487.8 835.1 L488.1 833.9 L488.5 832.7 L488.8 831.5 L489.1 830.2 L489.5 829.0" stroke="#e8e020" stroke-width="3.2" fill="none" stroke-linecap="round" stroke-linejoin="round"/>
<path d="M478.6 861.5 L479.3 860.0 L479.9 858.5 L480.6 857.0 L481.2 855.5 L481.9 854.0 L482.5 852.5 L483.2 851.0 L483.8 849.5 L484.4 848.0 L485.1 846.4 L485.8 844.9 L486.5 843.3 L487.1 841.8 L487.7 840.3 L488.3 838.9 L488.8 837.5 L489.3 836.2 L489.7 834.9 L490.0 833.8 L490.3 832.6 L490.6 831.5 L491.0 830.3 L491.3 829.2 L491.6 828.0" stroke="#2a2ae6" stroke-width="4.0" fill="none" stroke-linecap="round" stroke-linejoin="round"/>
<path d="M474.0 873.5 L474.6 874.3 L475.2 875.2 L475.7 876.0 L476.3 876.8 L476.9 877.7 L477.5 878.5" stroke="#34e088" stroke-width="4.2" fill="none" stroke-linecap="round"/>
<path d="M477.5 878.5 L478.1 879.3 L478.7 880.2 L479.3 881.0 L479.9 881.8 L480.5 882.6 L481.1 883.4" stroke="#35e07f" stroke-width="4.2" fill="none" stroke-linecap="round"/>
<path d="M481.1 883.4 L481.7 884.3 L482.3 885.1 L482.9 885.9 L483.5 886.7 L484.1 887.5 L484.7 888.3" stroke="#37e077" stroke-width="4.2" fill="none" stroke-linecap="round"/>
<path d="M484.7 888.3 L485.3 889.2 L485.9 890.0 L486.5 890.8 L487.2 891.6 L487.8 892.4 L488.4 893.2" stroke="#38e070" stroke-width="4.2" fill="none" stroke-linecap="round"/>
<path d="M488.4 893.2 L489.1 893.9 L489.7 894.7 L490.4 895.5 L491.0 896.3 L491.7 897.0 L492.4 897.8" stroke="#39e06a" stroke-width="4.2" fill="none" stroke-linecap="round"/>
<path d="M492.4 897.8 L493.1 898.6 L493.7 899.3 L494.4 900.1 L495.1 900.8 L495.8 901.6 L496.5 902.3" stroke="#3ae066" stroke-width="4.2" fill="none" stroke-linecap="round"/>
<path d="M496.5 902.3 L497.2 903.1 L497.9 903.8 L498.5 904.6 L499.2 905.3 L499.9 906.1 L500.5 906.9" stroke="#3ae066" stroke-width="4.2" fill="none" stroke-linecap="round"/>
<path d="M500.5 906.9 L501.2 907.7 L501.9 908.4 L502.6 909.1 L503.4 909.8 L504.2 910.4 L505.1 910.9" stroke="#38e06d" stroke-width="4.2" fill="none" stroke-linecap="round"/>
<path d="M505.1 910.9 L506.0 911.3 L507.0 911.5 L507.9 911.2 L508.7 910.5 L509.3 909.8 L510.0 909.0" stroke="#33e090" stroke-width="4.2" fill="none" stroke-linecap="round"/>
<path d="M474.0 878.5 L474.5 879.4 L475.1 880.2 L475.6 881.1 L476.1 881.9 L476.6 882.8 L477.2 883.7" stroke="#e02568" stroke-width="4.2" fill="none" stroke-linecap="round"/>
<path d="M477.2 883.7 L477.7 884.5 L478.2 885.4 L478.8 886.2 L479.3 887.0 L479.9 887.9 L480.5 888.7" stroke="#e02390" stroke-width="4.2" fill="none" stroke-linecap="round"/>
<path d="M480.5 888.7 L481.1 889.5 L481.7 890.3 L482.3 891.1 L482.9 891.9 L483.6 892.7 L484.2 893.5" stroke="#e022ac" stroke-width="4.2" fill="none" stroke-linecap="round"/>
<path d="M484.2 893.5 L484.8 894.2 L485.5 895.0 L486.1 895.8 L486.7 896.6 L487.3 897.4 L488.0 898.2" stroke="#e021c2" stroke-width="4.2" fill="none" stroke-linecap="round"/>
<path d="M488.0 898.2 L488.6 899.0 L489.2 899.8 L489.8 900.6 L490.3 901.4 L490.9 902.3 L491.5 903.1" stroke="#e021d0" stroke-width="4.2" fill="none" stroke-linecap="round"/>
<path d="M491.5 903.1 L492.1 903.9 L492.7 904.7 L493.4 905.5 L494.0 906.3 L494.6 907.0 L495.3 907.8" stroke="#e020d9" stroke-width="4.2" fill="none" stroke-linecap="round"/>
<path d="M495.3 907.8 L495.9 908.6 L496.6 909.4 L497.2 910.1 L497.9 910.9 L498.6 911.6 L499.3 912.3" stroke="#e020d9" stroke-width="4.2" fill="none" stroke-linecap="round"/>
<path d="M499.3 912.3 L500.0 913.0 L500.8 913.7 L501.6 914.3 L502.5 914.8 L503.4 915.2 L504.4 915.5" stroke="#e020d9" stroke-width="4.2" fill="none" stroke-linecap="round"/>
<path d="M504.4 915.5 L505.4 915.4 L506.3 915.0 L507.1 914.5 L508.0 914.0" stroke="#e020d9" stroke-width="4.2" fill="none" stroke-linecap="round"/>
<path d="M520.4 814.0a2.1 2.1 0 1 0 4.2 0a2.1 2.1 0 1 0 -4.2 0M519.8 818.8a2.1 2.1 0 1 0 4.2 0a2.1 2.1 0 1 0 -4.2 0M519.1 823.5a2.1 2.1 0 1 0 4.2 0a2.1 2.1 0 1 0 -4.2 0M518.5 828.3a2.1 2.1 0 1 0 4.2 0a2.1 2.1 0 1 0 -4.2 0M517.8 833.0a2.1 2.1 0 1 0 4.2 0a2.1 2.1 0 1 0 -4.2 0M517.2 837.8a2.1 2.1 0 1 0 4.2 0a2.1 2.1 0 1 0 -4.2 0M516.6 842.5a2.1 2.1 0 1 0 4.2 0a2.1 2.1 0 1 0 -4.2 0M515.9 847.3a2.1 2.1 0 1 0 4.2 0a2.1 2.1 0 1 0 -4.2 0M515.2 852.1a2.1 2.1 0 1 0 4.2 0a2.1 2.1 0 1 0 -4.2 0M514.6 856.8a2.1 2.1 0 1 0 4.2 0a2.1 2.1 0 1 0 -4.2 0M513.9 861.6a2.1 2.1 0 1 0 4.2 0a2.1 2.1 0 1 0 -4.2 0M513.2 866.3a2.1 2.1 0 1 0 4.2 0a2.1 2.1 0 1 0 -4.2 0M512.5 871.1a2.1 2.1 0 1 0 4.2 0a2.1 2.1 0 1 0 -4.2 0M511.8 875.8a2.1 2.1 0 1 0 4.2 0a2.1 2.1 0 1 0 -4.2 0M511.1 880.5a2.1 2.1 0 1 0 4.2 0a2.1 2.1 0 1 0 -4.2 0M510.3 885.3a2.1 2.1 0 1 0 4.2 0a2.1 2.1 0 1 0 -4.2 0M509.6 890.0a2.1 2.1 0 1 0 4.2 0a2.1 2.1 0 1 0 -4.2 0M508.8 894.8a2.1 2.1 0 1 0 4.2 0a2.1 2.1 0 1 0 -4.2 0M508.0 899.5a2.1 2.1 0 1 0 4.2 0a2.1 2.1 0 1 0 -4.2 0M507.1 904.2a2.1 2.1 0 1 0 4.2 0a2.1 2.1 0 1 0 -4.2 0" fill="#e020d0"/>
<path d="M525.0 816.4a2.1 2.1 0 1 0 4.2 0a2.1 2.1 0 1 0 -4.2 0M524.4 821.1a2.1 2.1 0 1 0 4.2 0a2.1 2.1 0 1 0 -4.2 0M523.8 825.9a2.1 2.1 0 1 0 4.2 0a2.1 2.1 0 1 0 -4.2 0M523.1 830.7a2.1 2.1 0 1 0 4.2 0a2.1 2.1 0 1 0 -4.2 0M522.5 835.4a2.1 2.1 0 1 0 4.2 0a2.1 2.1 0 1 0 -4.2 0M521.9 840.2a2.1 2.1 0 1 0 4.2 0a2.1 2.1 0 1 0 -4.2 0M521.2 844.9a2.1 2.1 0 1 0 4.2 0a2.1 2.1 0 1 0 -4.2 0M520.6 849.7a2.1 2.1 0 1 0 4.2 0a2.1 2.1 0 1 0 -4.2 0M519.9 854.4a2.1 2.1 0 1 0 4.2 0a2.1 2.1 0 1 0 -4.2 0M519.2 859.2a2.1 2.1 0 1 0 4.2 0a2.1 2.1 0 1 0 -4.2 0M518.6 863.9a2.1 2.1 0 1 0 4.2 0a2.1 2.1 0 1 0 -4.2 0M517.9 868.7a2.1 2.1 0 1 0 4.2 0a2.1 2.1 0 1 0 -4.2 0M517.2 873.4a2.1 2.1 0 1 0 4.2 0a2.1 2.1 0 1 0 -4.2 0M516.5 878.2a2.1 2.1 0 1 0 4.2 0a2.1 2.1 0 1 0 -4.2 0M515.8 882.9a2.1 2.1 0 1 0 4.2 0a2.1 2.1 0 1 0 -4.2 0M515.0 887.7a2.1 2.1 0 1 0 4.2 0a2.1 2.1 0 1 0 -4.2 0M514.1 892.4a2.1 2.1 0 1 0 4.2 0a2.1 2.1 0 1 0 -4.2 0M513.1 897.1a2.1 2.1 0 1 0 4.2 0a2.1 2.1 0 1 0 -4.2 0M512.1 901.8a2.1 2.1 0 1 0 4.2 0a2.1 2.1 0 1 0 -4.2 0M511.0 906.5a2.1 2.1 0 1 0 4.2 0a2.1 2.1 0 1 0 -4.2 0" fill="#28e050"/>
<path d="M510.5 926.5 L511.3 925.9 L512.1 925.3 L512.9 924.7 L513.7 924.1 L514.6 923.6 L515.5 923.2" stroke="#3de04f" stroke-width="4.6" fill="none" stroke-linecap="round"/>
<path d="M515.5 923.2 L516.5 922.9 L517.4 922.8 L518.4 922.9 L519.4 923.1 L520.4 923.2 L521.4 923.4" stroke="#3de04f" stroke-width="4.6" fill="none" stroke-linecap="round"/>
<path d="M521.4 923.4 L522.4 923.6 L523.4 923.7 L524.4 923.8 L525.4 924.0 L526.4 924.2 L527.4 924.3" stroke="#3de04f" stroke-width="4.6" fill="none" stroke-linecap="round"/>
<path d="M527.4 924.3 L528.3 924.4 L529.3 924.5 L530.3 924.6 L531.3 924.7 L532.3 924.7 L533.3 924.7" stroke="#3de04f" stroke-width="4.6" fill="none" stroke-linecap="round"/>
<path d="M533.3 924.7 L534.3 924.7 L535.3 924.6 L536.3 924.4 L537.3 924.2 L538.3 924.0 L539.2 923.6" stroke="#3ee04f" stroke-width="4.6" fill="none" stroke-linecap="round"/>
<path d="M539.2 923.6 L540.1 923.2 L541.0 922.7 L541.8 922.1 L542.6 921.5 L543.4 920.8 L544.1 920.2" stroke="#40e041" stroke-width="4.6" fill="none" stroke-linecap="round"/>
<path d="M544.1 920.2 L544.9 919.5 L545.6 918.8 L546.3 918.1 L547.1 917.4 L547.8 916.7 L548.5 916.0" stroke="#4bde3e" stroke-width="4.6" fill="none" stroke-linecap="round"/>
<path d="M548.5 916.0 L549.1 915.3 L549.8 914.5 L550.5 913.8 L551.1 913.0 L551.8 912.3 L552.4 911.5" stroke="#56dd3c" stroke-width="4.6" fill="none" stroke-linecap="round"/>
<path d="M552.4 911.5 L553.0 910.7 L553.6 909.9 L554.3 909.1 L554.9 908.3 L555.4 907.5 L556.0 906.7" stroke="#5edc3a" stroke-width="4.6" fill="none" stroke-linecap="round"/>
<path d="M556.0 906.7 L556.6 905.9 L557.2 905.1 L557.8 904.2 L558.3 903.4 L558.9 902.6 L559.4 901.7" stroke="#62db39" stroke-width="4.6" fill="none" stroke-linecap="round"/>
<path d="M559.4 901.7 L560.0 900.9 L560.5 900.0 L561.0 899.2 L561.6 898.3 L562.1 897.5 L562.6 896.6" stroke="#67da39" stroke-width="4.6" fill="none" stroke-linecap="round"/>
<path d="M562.6 896.6 L563.1 895.7 L563.6 894.9 L564.1 894.0 L564.5 893.1 L565.0 892.2 L565.5 891.3" stroke="#6cda38" stroke-width="4.6" fill="none" stroke-linecap="round"/>
<path d="M565.5 891.3 L565.9 890.4 L566.4 889.5 L566.8 888.7 L567.3 887.8 L567.7 886.9 L568.1 885.9" stroke="#70d937" stroke-width="4.6" fill="none" stroke-linecap="round"/>
<path d="M568.1 885.9 L568.6 885.0 L569.0 884.1 L569.4 883.2 L569.8 882.3 L570.3 881.4 L570.7 880.5" stroke="#75d836" stroke-width="4.6" fill="none" stroke-linecap="round"/>
<path d="M570.7 880.5 L571.1 879.6 L571.5 878.7 L571.9 877.8 L572.3 876.8 L572.7 875.9 L573.1 875.0" stroke="#79d835" stroke-width="4.6" fill="none" stroke-linecap="round"/>
<path d="M573.1 875.0 L573.4 874.1 L573.8 873.1 L574.2 872.2 L574.6 871.3 L575.0 870.4 L575.4 869.4" stroke="#7ed734" stroke-width="4.6" fill="none" stroke-linecap="round"/>
<path d="M575.4 869.4 L575.8 868.5 L576.2 867.6 L576.6 866.7 L577.0 865.8 L577.4 864.8 L577.8 863.9" stroke="#82d733" stroke-width="4.6" fill="none" stroke-linecap="round"/>
<path d="M577.8 863.9 L578.2 863.0 L578.6 862.1 L579.0 861.2 L579.5 860.3 L579.9 859.4 L580.3 858.5" stroke="#86d633" stroke-width="4.6" fill="none" stroke-linecap="round"/>
<path d="M580.3 858.5 L580.7 857.6 L581.1 856.6 L581.6 855.7 L582.0 854.8 L582.5 853.9 L582.9 853.0" stroke="#8bd532" stroke-width="4.6" fill="none" stroke-linecap="round"/>
<path d="M582.9 853.0 L583.3 852.1 L583.8 851.3 L584.3 850.4 L584.7 849.5 L585.2 848.6 L585.7 847.7" stroke="#8fd531" stroke-width="4.6" fill="none" stroke-linecap="round"/>
<path d="M585.7 847.7 L586.2 846.8 L586.7 846.0 L587.2 845.1 L587.7 844.2 L588.2 843.4 L588.7 842.5" stroke="#95d430" stroke-width="4.6" fill="none" stroke-linecap="round"/>
<path d="M588.7 842.5 L589.2 841.7 L589.8 840.8 L590.3 840.0 L590.9 839.2 L591.5 838.4 L592.1 837.6" stroke="#9bd32f" stroke-width="4.6" fill="none" stroke-linecap="round"/>
<path d="M592.1 837.6 L592.8 836.8 L593.4 836.1 L594.1 835.3 L594.8 834.6 L595.5 833.9 L596.3 833.2" stroke="#a1d22e" stroke-width="4.6" fill="none" stroke-linecap="round"/>
<path d="M596.3 833.2 L597.0 832.6 L597.8 831.9 L598.6 831.3 L599.4 830.7 L600.2 830.2 L601.1 829.6" stroke="#a7d12c" stroke-width="4.6" fill="none" stroke-linecap="round"/>
<path d="M601.1 829.6 L601.9 829.1 L602.8 828.6 L603.7 828.1 L604.6 827.7 L605.5 827.3 L606.4 826.9" stroke="#aed02b" stroke-width="4.6" fill="none" stroke-linecap="round"/>
<path d="M606.4 826.9 L607.3 826.6 L608.3 826.2 L609.2 825.9 L610.2 825.6 L611.1 825.2 L612.1 824.9" stroke="#b4cf2a" stroke-width="4.6" fill="none" stroke-linecap="round"/>
<path d="M612.1 824.9 L613.0 824.5" stroke="#b8cf29" stroke-width="4.6" fill="none" stroke-linecap="round"/>
<path d="M510.5 929.5 L511.4 929.9 L512.4 930.3 L513.3 930.7 L514.2 931.0 L515.1 931.4 L516.1 931.8" stroke="#e020de" stroke-width="4.6" fill="none" stroke-linecap="round"/>
<path d="M516.1 931.8 L517.0 932.2 L517.9 932.5 L518.9 932.8 L519.9 933.1 L520.8 933.4 L521.8 933.7" stroke="#db21e1" stroke-width="4.6" fill="none" stroke-linecap="round"/>
<path d="M521.8 933.7 L522.7 934.0 L523.7 934.2 L524.7 934.5 L525.7 934.7 L526.6 934.9 L527.6 935.1" stroke="#d322e3" stroke-width="4.6" fill="none" stroke-linecap="round"/>
<path d="M527.6 935.1 L528.6 935.3 L529.6 935.4 L530.6 935.6 L531.6 935.7 L532.6 935.8 L533.6 935.9" stroke="#cc23e4" stroke-width="4.6" fill="none" stroke-linecap="round"/>
<path d="M533.6 935.9 L534.6 935.9 L535.6 936.0 L536.6 936.0 L537.6 936.0 L538.6 936.0 L539.6 935.9" stroke="#c823e5" stroke-width="4.6" fill="none" stroke-linecap="round"/>
<path d="M539.6 935.9 L540.6 935.8 L541.6 935.6 L542.5 935.4 L543.5 935.1 L544.5 934.9 L545.4 934.5" stroke="#c124e6" stroke-width="4.6" fill="none" stroke-linecap="round"/>
<path d="M545.4 934.5 L546.4 934.1 L547.2 933.7 L548.1 933.1 L548.9 932.5 L549.7 931.9 L550.4 931.2" stroke="#b626e8" stroke-width="4.6" fill="none" stroke-linecap="round"/>
<path d="M550.4 931.2 L551.2 930.5 L551.9 929.8 L552.6 929.1 L553.3 928.4 L554.0 927.7 L554.6 926.9" stroke="#b227e9" stroke-width="4.6" fill="none" stroke-linecap="round"/>
<path d="M554.6 926.9 L555.3 926.2 L556.0 925.4 L556.6 924.7 L557.3 923.9 L557.9 923.1 L558.5 922.3" stroke="#af27e9" stroke-width="4.6" fill="none" stroke-linecap="round"/>
<path d="M558.5 922.3 L559.1 921.5 L559.7 920.7 L560.3 919.9 L560.9 919.1 L561.5 918.3 L562.0 917.4" stroke="#aa28ea" stroke-width="4.6" fill="none" stroke-linecap="round"/>
<path d="M562.0 917.4 L562.6 916.6 L563.1 915.8 L563.7 914.9 L564.2 914.1 L564.8 913.2 L565.3 912.4" stroke="#a528eb" stroke-width="4.6" fill="none" stroke-linecap="round"/>
<path d="M565.3 912.4 L565.8 911.5 L566.3 910.7 L566.8 909.8 L567.3 908.9 L567.8 908.1 L568.3 907.2" stroke="#a029ec" stroke-width="4.6" fill="none" stroke-linecap="round"/>
<path d="M568.3 907.2 L568.7 906.3 L569.2 905.4 L569.7 904.5 L570.1 903.6 L570.6 902.7 L571.0 901.8" stroke="#9d2aed" stroke-width="4.6" fill="none" stroke-linecap="round"/>
<path d="M571.0 901.8 L571.5 900.9 L571.9 900.0 L572.4 899.1 L572.9 898.2 L573.4 897.4 L573.8 896.5" stroke="#9a2aed" stroke-width="4.6" fill="none" stroke-linecap="round"/>
<path d="M573.8 896.5 L574.3 895.6 L574.8 894.8 L575.3 893.9 L575.8 893.0 L576.4 892.2 L576.9 891.3" stroke="#952bee" stroke-width="4.6" fill="none" stroke-linecap="round"/>
<path d="M576.9 891.3 L577.4 890.4 L577.9 889.5 L578.4 888.7 L578.8 887.8 L579.3 886.9 L579.8 886.0" stroke="#8e2cf0" stroke-width="4.6" fill="none" stroke-linecap="round"/>
<path d="M579.8 886.0 L580.3 885.1 L580.7 884.3 L581.2 883.4 L581.6 882.5 L582.1 881.6 L582.5 880.7" stroke="#872eef" stroke-width="4.6" fill="none" stroke-linecap="round"/>
<path d="M582.5 880.7 L582.9 879.8 L583.4 878.9 L583.8 878.0 L584.3 877.1 L584.7 876.2 L585.2 875.3" stroke="#7f31ee" stroke-width="4.6" fill="none" stroke-linecap="round"/>
<path d="M585.2 875.3 L585.7 874.4 L586.2 873.5 L586.6 872.6 L587.1 871.8 L587.6 870.9 L588.2 870.0" stroke="#7734ec" stroke-width="4.6" fill="none" stroke-linecap="round"/>
<path d="M588.2 870.0 L588.7 869.2 L589.2 868.3 L589.7 867.5 L590.3 866.6 L590.8 865.8 L591.4 864.9" stroke="#6e38eb" stroke-width="4.6" fill="none" stroke-linecap="round"/>
<path d="M591.4 864.9 L591.9 864.1 L592.5 863.3 L593.1 862.5 L593.7 861.7 L594.4 860.9 L595.0 860.2" stroke="#643ce9" stroke-width="4.6" fill="none" stroke-linecap="round"/>
<path d="M595.0 860.2 L595.7 859.4 L596.4 858.7 L597.1 858.0 L597.8 857.3 L598.6 856.6 L599.3 856.0" stroke="#5b3fe8" stroke-width="4.6" fill="none" stroke-linecap="round"/>
<path d="M599.3 856.0 L600.1 855.4 L600.9 854.8 L601.8 854.2 L602.6 853.7 L603.5 853.2 L604.4 852.8" stroke="#5342e6" stroke-width="4.6" fill="none" stroke-linecap="round"/>
<path d="M604.4 852.8 L605.3 852.4 L606.3 852.1 L607.2 851.7 L608.2 851.4 L609.2 851.2 L610.1 850.9" stroke="#4e44e5" stroke-width="4.6" fill="none" stroke-linecap="round"/>
<path d="M610.1 850.9 L611.1 850.6 L612.0 850.3 L613.0 850.0" stroke="#4b45e5" stroke-width="4.6" fill="none" stroke-linecap="round"/>
<path d="M507.9 928.0a2.1 2.1 0 1 0 4.2 0a2.1 2.1 0 1 0 -4.2 0M506.8 932.7a2.1 2.1 0 1 0 4.2 0a2.1 2.1 0 1 0 -4.2 0M505.7 937.3a2.1 2.1 0 1 0 4.2 0a2.1 2.1 0 1 0 -4.2 0M504.6 942.0a2.1 2.1 0 1 0 4.2 0a2.1 2.1 0 1 0 -4.2 0M503.5 946.7a2.1 2.1 0 1 0 4.2 0a2.1 2.1 0 1 0 -4.2 0M502.4 951.4a2.1 2.1 0 1 0 4.2 0a2.1 2.1 0 1 0 -4.2 0M501.4 956.0a2.1 2.1 0 1 0 4.2 0a2.1 2.1 0 1 0 -4.2 0M500.2 960.7a2.1 2.1 0 1 0 4.2 0a2.1 2.1 0 1 0 -4.2 0M498.9 965.3a2.1 2.1 0 1 0 4.2 0a2.1 2.1 0 1 0 -4.2 0M497.5 969.9a2.1 2.1 0 1 0 4.2 0a2.1 2.1 0 1 0 -4.2 0M496.0 974.5a2.1 2.1 0 1 0 4.2 0a2.1 2.1 0 1 0 -4.2 0M494.7 979.1a2.1 2.1 0 1 0 4.2 0a2.1 2.1 0 1 0 -4.2 0M493.5 983.7a2.1 2.1 0 1 0 4.2 0a2.1 2.1 0 1 0 -4.2 0M492.3 988.4a2.1 2.1 0 1 0 4.2 0a2.1 2.1 0 1 0 -4.2 0M491.2 993.1a2.1 2.1 0 1 0 4.2 0a2.1 2.1 0 1 0 -4.2 0M490.2 997.7a2.1 2.1 0 1 0 4.2 0a2.1 2.1 0 1 0 -4.2 0M489.2 1002.5a2.1 2.1 0 1 0 4.2 0a2.1 2.1 0 1 0 -4.2 0M488.3 1007.2a2.1 2.1 0 1 0 4.2 0a2.1 2.1 0 1 0 -4.2 0M487.7 1011.9a2.1 2.1 0 1 0 4.2 0a2.1 2.1 0 1 0 -4.2 0" fill="#e020d0"/>
<path d="M510.9 934.4a2.1 2.1 0 1 0 4.2 0a2.1 2.1 0 1 0 -4.2 0M510.0 939.1a2.1 2.1 0 1 0 4.2 0a2.1 2.1 0 1 0 -4.2 0M509.1 943.8a2.1 2.1 0 1 0 4.2 0a2.1 2.1 0 1 0 -4.2 0M508.2 948.5a2.1 2.1 0 1 0 4.2 0a2.1 2.1 0 1 0 -4.2 0M507.2 953.2a2.1 2.1 0 1 0 4.2 0a2.1 2.1 0 1 0 -4.2 0M506.3 957.9a2.1 2.1 0 1 0 4.2 0a2.1 2.1 0 1 0 -4.2 0M505.2 962.6a2.1 2.1 0 1 0 4.2 0a2.1 2.1 0 1 0 -4.2 0M504.1 967.2a2.1 2.1 0 1 0 4.2 0a2.1 2.1 0 1 0 -4.2 0M502.7 971.9a2.1 2.1 0 1 0 4.2 0a2.1 2.1 0 1 0 -4.2 0M501.3 976.4a2.1 2.1 0 1 0 4.2 0a2.1 2.1 0 1 0 -4.2 0M500.1 981.1a2.1 2.1 0 1 0 4.2 0a2.1 2.1 0 1 0 -4.2 0M498.9 985.7a2.1 2.1 0 1 0 4.2 0a2.1 2.1 0 1 0 -4.2 0M497.8 990.4a2.1 2.1 0 1 0 4.2 0a2.1 2.1 0 1 0 -4.2 0M496.7 995.1a2.1 2.1 0 1 0 4.2 0a2.1 2.1 0 1 0 -4.2 0M495.6 999.7a2.1 2.1 0 1 0 4.2 0a2.1 2.1 0 1 0 -4.2 0M494.5 1004.4a2.1 2.1 0 1 0 4.2 0a2.1 2.1 0 1 0 -4.2 0M493.6 1009.1a2.1 2.1 0 1 0 4.2 0a2.1 2.1 0 1 0 -4.2 0M492.9 1013.9a2.1 2.1 0 1 0 4.2 0a2.1 2.1 0 1 0 -4.2 0" fill="#28e050"/>
<circle cx="504" cy="965.5" r="2.2" fill="#3030e0"/>
<circle cx="509.5" cy="936" r="1.8" fill="#30c8e0"/>
<line x1="567.4" y1="891.7" x2="567.4" y2="906.7" stroke="#000" stroke-width="1.4"/>
<path d="M567.4 887.7 l-2.9 6.5 l5.8 0 Z M567.4 910.7 l-2.9 -6.5 l5.8 0 Z" fill="#000"/>
<line x1="578.4" y1="866.6" x2="578.4" y2="881.5" stroke="#000" stroke-width="1.4"/>
<path d="M578.4 862.6 l-2.9 6.5 l5.8 0 Z M578.4 885.5 l-2.9 -6.5 l5.8 0 Z" fill="#000"/>
</g>
<rect x="474.8" y="815.1" width="138.0" height="197.8" fill="none" stroke="#3a3a3a" stroke-width="1.4"/>
<line x1="89.3" y1="815.1" x2="94.8" y2="815.1" stroke="#333" stroke-width="1.6"/>
<text x="78.6" y="822.9" font-size="20" text-anchor="end" fill="#333333" textLength="31.8" lengthAdjust="spacingAndGlyphs" >0.2</text>
<line x1="89.3" y1="881.0" x2="94.8" y2="881.0" stroke="#333" stroke-width="1.6"/>
<text x="78.6" y="888.8" font-size="20" text-anchor="end" fill="#333333" textLength="31.8" lengthAdjust="spacingAndGlyphs" >0.0</text>
<line x1="89.3" y1="946.9" x2="94.8" y2="946.9" stroke="#333" stroke-width="1.6"/>
<text x="78.6" y="954.7" font-size="20" text-anchor="end" fill="#333333" textLength="48.6" lengthAdjust="spacingAndGlyphs" >&#8722;0.2</text>
<line x1="89.3" y1="1012.7" x2="94.8" y2="1012.7" stroke="#333" stroke-width="1.6"/>
<text x="78.6" y="1020.5" font-size="20" text-anchor="end" fill="#333333" textLength="48.6" lengthAdjust="spacingAndGlyphs" >&#8722;0.4</text>
<line x1="94.8" y1="1012.9" x2="94.8" y2="1018.4" stroke="#333" stroke-width="1.6"/>
<line x1="318.2" y1="1012.9" x2="318.2" y2="1018.4" stroke="#333" stroke-width="1.6"/>
<line x1="456.0" y1="1012.9" x2="456.0" y2="1018.4" stroke="#333" stroke-width="1.6"/>
<line x1="474.8" y1="1012.9" x2="474.8" y2="1018.4" stroke="#333" stroke-width="1.6"/>
<line x1="612.8" y1="1012.9" x2="612.8" y2="1018.4" stroke="#333" stroke-width="1.6"/>
<text x="14.0" y="823.5" font-size="28" text-anchor="start" fill="#000" font-weight="bold" >f</text>
<text x="90.8" y="1044.7" font-size="23.5" fill="#000" textLength="13.7" lengthAdjust="spacingAndGlyphs">Y</text>
<text x="314.5" y="1044.7" font-size="23.5" fill="#000" textLength="10.1" lengthAdjust="spacingAndGlyphs">&#915;</text>
<text x="448.5" y="1044.7" font-size="23.5" fill="#000" textLength="13.8" lengthAdjust="spacingAndGlyphs">X</text>
<text x="468.2" y="1044.7" font-size="23.5" fill="#000" textLength="11.2" lengthAdjust="spacingAndGlyphs">P</text>
<text x="600.5" y="1044.7" font-size="23.5" fill="#000" textLength="15.6" lengthAdjust="spacingAndGlyphs">Q</text>
<text transform="translate(21.3,986.5) rotate(-90)" x="0" y="0" font-size="22" fill="#333333" textLength="120.3" lengthAdjust="spacingAndGlyphs">Energy (eV)</text>
<defs><linearGradient id="cbp" x1="0" x2="0" y1="1" y2="0"><stop offset="0.000" stop-color="#8c2cf0"/><stop offset="0.125" stop-color="#e020e0"/><stop offset="0.250" stop-color="#e02828"/><stop offset="0.375" stop-color="#e8c820"/><stop offset="0.500" stop-color="#40e040"/><stop offset="0.625" stop-color="#30e0a0"/><stop offset="0.750" stop-color="#30d8d8"/><stop offset="0.875" stop-color="#3050e0"/><stop offset="1.000" stop-color="#8c2cf0"/></linearGradient></defs>
<rect x="621.2" y="839.8" width="8" height="158.4" fill="url(#cbp)" stroke="#3a3a3a" stroke-width="1.3"/>
<line x1="629.2" y1="839.8" x2="634.9" y2="839.8" stroke="#333" stroke-width="1.4"/>
<line x1="629.2" y1="879.4" x2="634.9" y2="879.4" stroke="#333" stroke-width="1.4"/>
<line x1="629.2" y1="918.9" x2="634.9" y2="918.9" stroke="#333" stroke-width="1.4"/>
<line x1="629.2" y1="958.4" x2="634.9" y2="958.4" stroke="#333" stroke-width="1.4"/>
<line x1="629.2" y1="997.8" x2="634.9" y2="997.8" stroke="#333" stroke-width="1.4"/>
<text x="641.4" y="845.8" font-size="16.5" fill="#000" textLength="21.7" lengthAdjust="spacingAndGlyphs">+&#960;</text>
<text x="641.4" y="886.7" font-size="16.5" fill="#000" textLength="37.1" lengthAdjust="spacingAndGlyphs">+&#960;/2</text>
<text x="642.8" y="925.4" font-size="16.5" fill="#000" textLength="9.6" lengthAdjust="spacingAndGlyphs">0</text>
<text x="641.4" y="965.8" font-size="16.5" fill="#000" textLength="37.1" lengthAdjust="spacingAndGlyphs">&#8722;&#960;/2</text>
<text x="641.4" y="1003.6" font-size="16.5" fill="#000" textLength="21.7" lengthAdjust="spacingAndGlyphs">&#8722;&#960;</text>
</svg></body></html>
